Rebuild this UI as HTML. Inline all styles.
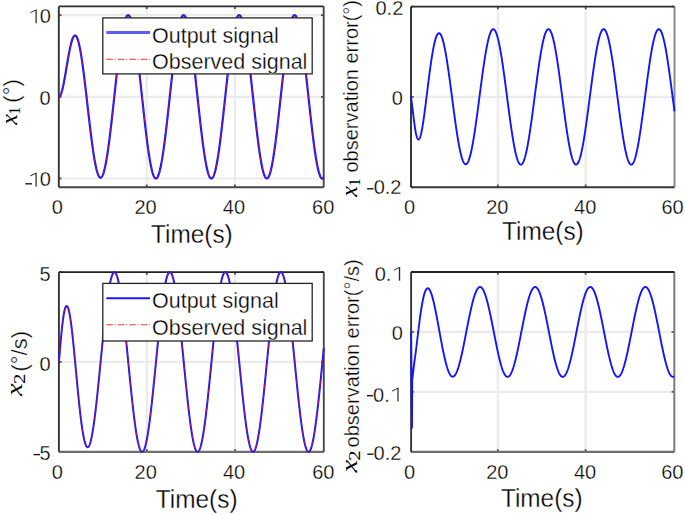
<!DOCTYPE html>
<html><head><meta charset="utf-8"><style>
html,body{margin:0;padding:0;background:#fff;}
svg{display:block;}
text{font-family:"Liberation Sans",sans-serif;fill:#000;stroke:#fff;stroke-width:0.3px;}
.grid{stroke:#ebebeb;stroke-width:2.2;}
.tick{stroke:#555;stroke-width:1.8;}
.axl{stroke:#2b2b2b;stroke-width:1.8;fill:none;}
.axb{stroke:#3a3a3a;stroke-width:1.8;fill:none;}
.axr{stroke:#6a6a6a;stroke-width:1.8;fill:none;}
.tl{font-size:20px;}
.xl{font-size:24.4px;}
.lg{font-size:21.5px;fill:#000;}
.yl{font-size:20px;}
.yl2{font-size:22px;}
.it{font-family:"Liberation Serif",serif;font-style:italic;font-size:24px;stroke:none;fill:#000;}
.sb{font-family:"Liberation Serif",serif;font-size:16px;stroke:none;fill:#000;}
.blue{stroke:#1a1aff;stroke-width:2.2;fill:none;stroke-linejoin:round;}
.blue3{stroke:#1a1aff;stroke-width:2.0;fill:none;stroke-linejoin:round;}
.blue2{stroke:#1414ff;stroke-width:1.9;fill:none;stroke-linejoin:round;}
.red{stroke:#ff1010;stroke-opacity:0.7;stroke-width:1;fill:none;stroke-dasharray:5 2 1 2;}
</style></head><body>
<svg width="685" height="515" viewBox="0 0 685 515">
<rect id="bg" width="685" height="515" fill="#fff"/>
<defs>
<clipPath id="cTL"><rect x="57.599999999999994" y="5.2" width="267.29999999999995" height="183.2"/></clipPath>
<clipPath id="cTR"><rect x="409.8" y="5.3999999999999995" width="265.9" height="183.0"/></clipPath>
<clipPath id="cBL"><rect x="57.699999999999996" y="270.90000000000003" width="267.3" height="182.1"/></clipPath>
<clipPath id="cBR"><rect x="409.90000000000003" y="270.8" width="265.5999999999999" height="182.20000000000002"/></clipPath>
</defs>
<line x1="146.70" y1="6.4" x2="146.70" y2="187.2" class="grid"/>
<line x1="235.00" y1="6.4" x2="235.00" y2="187.2" class="grid"/>
<line x1="58.8" y1="178.50" x2="323.7" y2="178.50" class="grid"/>
<line x1="58.8" y1="96.85" x2="323.7" y2="96.85" class="grid"/>
<line x1="58.8" y1="15.20" x2="323.7" y2="15.20" class="grid"/>
<line x1="497.83" y1="6.6" x2="497.83" y2="187.2" class="grid"/>
<line x1="585.67" y1="6.6" x2="585.67" y2="187.2" class="grid"/>
<line x1="411.0" y1="96.90" x2="674.5" y2="96.90" class="grid"/>
<line x1="146.80" y1="272.1" x2="146.80" y2="451.8" class="grid"/>
<line x1="235.10" y1="272.1" x2="235.10" y2="451.8" class="grid"/>
<line x1="58.9" y1="361.95" x2="323.8" y2="361.95" class="grid"/>
<line x1="497.83" y1="272.0" x2="497.83" y2="451.8" class="grid"/>
<line x1="585.57" y1="272.0" x2="585.57" y2="451.8" class="grid"/>
<line x1="411.1" y1="391.86" x2="674.3" y2="391.86" class="grid"/>
<line x1="411.1" y1="331.93" x2="674.3" y2="331.93" class="grid"/>
<line x1="146.70" y1="187.2" x2="146.70" y2="184.5" class="tick"/>
<line x1="146.70" y1="6.4" x2="146.70" y2="9.100000000000001" class="tick"/>
<line x1="235.00" y1="187.2" x2="235.00" y2="184.5" class="tick"/>
<line x1="235.00" y1="6.4" x2="235.00" y2="9.100000000000001" class="tick"/>
<line x1="58.8" y1="178.50" x2="61.5" y2="178.50" class="tick"/>
<line x1="323.7" y1="178.50" x2="321.0" y2="178.50" class="tick"/>
<line x1="58.8" y1="96.85" x2="61.5" y2="96.85" class="tick"/>
<line x1="323.7" y1="96.85" x2="321.0" y2="96.85" class="tick"/>
<line x1="58.8" y1="15.20" x2="61.5" y2="15.20" class="tick"/>
<line x1="323.7" y1="15.20" x2="321.0" y2="15.20" class="tick"/>
<line x1="58.8" y1="187.2" x2="323.7" y2="187.2" stroke="#444" stroke-width="1.9"/>
<line x1="323.7" y1="6.4" x2="323.7" y2="187.2" stroke="#444" stroke-width="1.9"/>
<line x1="58.8" y1="6.4" x2="323.7" y2="6.4" stroke="#2e2e2e" stroke-width="1.6"/>
<line x1="58.8" y1="6.4" x2="58.8" y2="187.2" stroke="#333" stroke-width="1.9"/>
<line x1="497.83" y1="187.2" x2="497.83" y2="184.5" class="tick"/>
<line x1="497.83" y1="6.6" x2="497.83" y2="9.3" class="tick"/>
<line x1="585.67" y1="187.2" x2="585.67" y2="184.5" class="tick"/>
<line x1="585.67" y1="6.6" x2="585.67" y2="9.3" class="tick"/>
<line x1="411.0" y1="187.20" x2="413.7" y2="187.20" class="tick"/>
<line x1="674.5" y1="187.20" x2="671.8" y2="187.20" class="tick"/>
<line x1="411.0" y1="96.90" x2="413.7" y2="96.90" class="tick"/>
<line x1="674.5" y1="96.90" x2="671.8" y2="96.90" class="tick"/>
<line x1="411.0" y1="6.60" x2="413.7" y2="6.60" class="tick"/>
<line x1="674.5" y1="6.60" x2="671.8" y2="6.60" class="tick"/>
<line x1="411.0" y1="187.2" x2="674.5" y2="187.2" stroke="#383838" stroke-width="1.9"/>
<line x1="674.5" y1="6.6" x2="674.5" y2="187.2" stroke="#8a8a8a" stroke-width="2.0"/>
<line x1="411.0" y1="6.6" x2="674.5" y2="6.6" stroke="#2e2e2e" stroke-width="1.6"/>
<line x1="411.0" y1="6.6" x2="411.0" y2="187.2" stroke="#2e2e2e" stroke-width="1.9"/>
<line x1="146.80" y1="451.8" x2="146.80" y2="449.1" class="tick"/>
<line x1="146.80" y1="272.1" x2="146.80" y2="274.8" class="tick"/>
<line x1="235.10" y1="451.8" x2="235.10" y2="449.1" class="tick"/>
<line x1="235.10" y1="272.1" x2="235.10" y2="274.8" class="tick"/>
<line x1="58.9" y1="451.80" x2="61.6" y2="451.80" class="tick"/>
<line x1="323.8" y1="451.80" x2="321.1" y2="451.80" class="tick"/>
<line x1="58.9" y1="361.95" x2="61.6" y2="361.95" class="tick"/>
<line x1="323.8" y1="361.95" x2="321.1" y2="361.95" class="tick"/>
<line x1="58.9" y1="272.10" x2="61.6" y2="272.10" class="tick"/>
<line x1="323.8" y1="272.10" x2="321.1" y2="272.10" class="tick"/>
<line x1="58.9" y1="451.8" x2="323.8" y2="451.8" stroke="#6e6e6e" stroke-width="2.2"/>
<line x1="323.8" y1="272.1" x2="323.8" y2="451.8" stroke="#484848" stroke-width="1.9"/>
<line x1="58.9" y1="272.1" x2="323.8" y2="272.1" stroke="#222" stroke-width="1.8"/>
<line x1="58.9" y1="272.1" x2="58.9" y2="451.8" stroke="#333" stroke-width="1.9"/>
<line x1="497.83" y1="451.8" x2="497.83" y2="449.1" class="tick"/>
<line x1="497.83" y1="272.0" x2="497.83" y2="274.7" class="tick"/>
<line x1="585.57" y1="451.8" x2="585.57" y2="449.1" class="tick"/>
<line x1="585.57" y1="272.0" x2="585.57" y2="274.7" class="tick"/>
<line x1="411.1" y1="451.79" x2="413.8" y2="451.79" class="tick"/>
<line x1="674.3" y1="451.79" x2="671.5999999999999" y2="451.79" class="tick"/>
<line x1="411.1" y1="391.86" x2="413.8" y2="391.86" class="tick"/>
<line x1="674.3" y1="391.86" x2="671.5999999999999" y2="391.86" class="tick"/>
<line x1="411.1" y1="331.93" x2="413.8" y2="331.93" class="tick"/>
<line x1="674.3" y1="331.93" x2="671.5999999999999" y2="331.93" class="tick"/>
<line x1="411.1" y1="272.00" x2="413.8" y2="272.00" class="tick"/>
<line x1="674.3" y1="272.00" x2="671.5999999999999" y2="272.00" class="tick"/>
<line x1="411.1" y1="451.8" x2="674.3" y2="451.8" stroke="#6e6e6e" stroke-width="2.2"/>
<line x1="674.3" y1="272.0" x2="674.3" y2="451.8" stroke="#7a7a7a" stroke-width="2.0"/>
<line x1="411.1" y1="272.0" x2="674.3" y2="272.0" stroke="#222" stroke-width="1.8"/>
<line x1="411.1" y1="272.0" x2="411.1" y2="451.8" stroke="#333" stroke-width="1.9"/>
<g clip-path="url(#cTL)"><path class="blue" d="M58.80,96.85 L58.98,96.83 L59.15,96.78 L59.33,96.68 L59.51,96.55 L59.68,96.39 L59.86,96.18 L60.04,95.94 L60.21,95.66 L60.39,95.34 L60.57,94.99 L60.74,94.60 L60.92,94.18 L61.10,93.72 L61.27,93.23 L61.45,92.70 L61.63,92.14 L61.80,91.55 L61.98,90.92 L62.16,90.27 L62.33,89.58 L62.51,88.87 L62.69,88.13 L62.86,87.37 L63.04,86.58 L63.21,85.76 L63.39,84.92 L63.57,84.06 L63.74,83.18 L63.92,82.27 L64.10,81.35 L64.27,80.42 L64.45,79.46 L64.63,78.49 L64.80,77.51 L64.98,76.52 L65.16,75.51 L65.33,74.50 L65.51,73.47 L65.69,72.44 L65.86,71.40 L66.04,70.36 L66.22,69.31 L66.39,68.26 L66.57,67.22 L66.75,66.17 L66.92,65.12 L67.10,64.07 L67.28,63.03 L67.45,62.00 L67.63,60.97 L67.81,59.94 L67.98,58.93 L68.16,57.92 L68.34,56.93 L68.51,55.95 L68.69,54.98 L68.87,54.02 L69.04,53.08 L69.22,52.15 L69.40,51.24 L69.57,50.35 L69.75,49.48 L69.93,48.63 L70.10,47.79 L70.28,46.98 L70.46,46.19 L70.63,45.43 L70.81,44.68 L70.99,43.96 L71.16,43.27 L71.34,42.60 L71.52,41.96 L71.69,41.35 L71.87,40.76 L72.05,40.20 L72.22,39.67 L72.40,39.17 L72.57,38.70 L72.75,38.26 L72.93,37.85 L73.10,37.48 L73.28,37.13 L73.46,36.82 L73.63,36.53 L73.81,36.28 L73.99,36.07 L74.16,35.88 L74.34,35.73 L74.52,35.62 L74.69,35.53 L74.87,35.49 L75.05,35.47 L75.22,35.49 L75.40,35.54 L75.58,35.63 L75.75,35.75 L75.93,35.91 L76.11,36.10 L76.28,36.32 L76.46,36.58 L76.64,36.88 L76.81,37.20 L76.99,37.56 L77.17,37.96 L77.34,38.39 L77.52,38.85 L77.70,39.34 L77.87,39.87 L78.05,40.43 L78.23,41.02 L78.40,41.65 L78.58,42.30 L78.76,42.99 L78.93,43.71 L79.11,44.46 L79.29,45.24 L79.46,46.05 L79.64,46.89 L79.82,47.76 L79.99,48.65 L80.17,49.58 L80.35,50.53 L80.52,51.51 L80.70,52.52 L80.88,53.55 L81.05,54.61 L81.23,55.69 L81.40,56.80 L81.58,57.93 L81.76,59.08 L81.93,60.26 L82.11,61.46 L82.29,62.68 L82.46,63.93 L82.64,65.19 L82.82,66.47 L82.99,67.77 L83.17,69.09 L83.35,70.43 L83.52,71.78 L83.70,73.15 L83.88,74.54 L84.05,75.94 L84.23,77.36 L84.41,78.79 L84.58,80.23 L84.76,81.68 L84.94,83.15 L85.11,84.62 L85.29,86.11 L85.47,87.60 L85.64,89.11 L85.82,90.62 L86.00,92.14 L86.17,93.66 L86.35,95.19 L86.53,96.73 L86.70,98.27 L86.88,99.81 L87.06,101.35 L87.23,102.90 L87.41,104.45 L87.59,106.00 L87.76,107.55 L87.94,109.10 L88.12,110.64 L88.29,112.18 L88.47,113.72 L88.65,115.26 L88.82,116.79 L89.00,118.32 L89.18,119.84 L89.35,121.35 L89.53,122.85 L89.70,124.35 L89.88,125.84 L90.06,127.32 L90.23,128.79 L90.41,130.25 L90.59,131.69 L90.76,133.13 L90.94,134.55 L91.12,135.95 L91.29,137.35 L91.47,138.72 L91.65,140.09 L91.82,141.43 L92.00,142.76 L92.18,144.08 L92.35,145.37 L92.53,146.65 L92.71,147.91 L92.88,149.14 L93.06,150.36 L93.24,151.56 L93.41,152.73 L93.59,153.89 L93.77,155.02 L93.94,156.13 L94.12,157.21 L94.30,158.28 L94.47,159.31 L94.65,160.33 L94.83,161.32 L95.00,162.28 L95.18,163.22 L95.36,164.13 L95.53,165.01 L95.71,165.87 L95.89,166.69 L96.06,167.49 L96.24,168.27 L96.42,169.01 L96.59,169.73 L96.77,170.41 L96.95,171.07 L97.12,171.69 L97.30,172.29 L97.48,172.86 L97.65,173.39 L97.83,173.90 L98.01,174.37 L98.18,174.81 L98.36,175.22 L98.53,175.60 L98.71,175.95 L98.89,176.27 L99.06,176.55 L99.24,176.80 L99.42,177.02 L99.59,177.20 L99.77,177.36 L99.95,177.48 L100.12,177.57 L100.30,177.62 L100.48,177.65 L100.65,177.64 L100.83,177.59 L101.01,177.52 L101.18,177.41 L101.36,177.27 L101.54,177.10 L101.71,176.89 L101.89,176.65 L102.07,176.38 L102.24,176.08 L102.42,175.75 L102.60,175.38 L102.77,174.98 L102.95,174.55 L103.13,174.09 L103.30,173.59 L103.48,173.07 L103.66,172.51 L103.83,171.93 L104.01,171.31 L104.19,170.67 L104.36,169.99 L104.54,169.28 L104.72,168.55 L104.89,167.78 L105.07,166.99 L105.25,166.16 L105.42,165.31 L105.60,164.44 L105.78,163.53 L105.95,162.60 L106.13,161.64 L106.31,160.65 L106.48,159.64 L106.66,158.60 L106.84,157.54 L107.01,156.45 L107.19,155.34 L107.36,154.21 L107.54,153.05 L107.72,151.87 L107.89,150.67 L108.07,149.44 L108.25,148.19 L108.42,146.93 L108.60,145.64 L108.78,144.33 L108.95,143.00 L109.13,141.66 L109.31,140.29 L109.48,138.91 L109.66,137.51 L109.84,136.10 L110.01,134.67 L110.19,133.22 L110.37,131.76 L110.54,130.28 L110.72,128.80 L110.90,127.29 L111.07,125.78 L111.25,124.25 L111.43,122.71 L111.60,121.17 L111.78,119.61 L111.96,118.04 L112.13,116.47 L112.31,114.88 L112.49,113.29 L112.66,111.69 L112.84,110.09 L113.02,108.48 L113.19,106.86 L113.37,105.24 L113.55,103.62 L113.72,102.00 L113.90,100.37 L114.08,98.74 L114.25,97.11 L114.43,95.48 L114.61,93.85 L114.78,92.22 L114.96,90.59 L115.14,88.97 L115.31,87.35 L115.49,85.73 L115.67,84.12 L115.84,82.51 L116.02,80.91 L116.19,79.31 L116.37,77.72 L116.55,76.14 L116.72,74.56 L116.90,73.00 L117.08,71.44 L117.25,69.90 L117.43,68.36 L117.61,66.84 L117.78,65.33 L117.96,63.83 L118.14,62.34 L118.31,60.87 L118.49,59.41 L118.67,57.97 L118.84,56.54 L119.02,55.13 L119.20,53.74 L119.37,52.36 L119.55,51.00 L119.73,49.66 L119.90,48.34 L120.08,47.04 L120.26,45.75 L120.43,44.49 L120.61,43.25 L120.79,42.03 L120.96,40.83 L121.14,39.65 L121.32,38.50 L121.49,37.37 L121.67,36.26 L121.85,35.18 L122.02,34.13 L122.20,33.09 L122.38,32.09 L122.55,31.11 L122.73,30.15 L122.91,29.22 L123.08,28.32 L123.26,27.45 L123.44,26.60 L123.61,25.79 L123.79,25.00 L123.97,24.24 L124.14,23.51 L124.32,22.80 L124.50,22.13 L124.67,21.49 L124.85,20.88 L125.02,20.30 L125.20,19.74 L125.38,19.22 L125.55,18.73 L125.73,18.28 L125.91,17.85 L126.08,17.45 L126.26,17.09 L126.44,16.76 L126.61,16.46 L126.79,16.19 L126.97,15.96 L127.14,15.76 L127.32,15.59 L127.50,15.45 L127.67,15.34 L127.85,15.27 L128.03,15.23 L128.20,15.22 L128.38,15.25 L128.56,15.31 L128.73,15.40 L128.91,15.52 L129.09,15.68 L129.26,15.87 L129.44,16.09 L129.62,16.34 L129.79,16.63 L129.97,16.94 L130.15,17.29 L130.32,17.68 L130.50,18.09 L130.68,18.53 L130.85,19.01 L131.03,19.52 L131.21,20.05 L131.38,20.62 L131.56,21.22 L131.74,21.85 L131.91,22.51 L132.09,23.20 L132.27,23.92 L132.44,24.67 L132.62,25.44 L132.80,26.25 L132.97,27.08 L133.15,27.94 L133.33,28.83 L133.50,29.75 L133.68,30.69 L133.85,31.66 L134.03,32.66 L134.21,33.68 L134.38,34.73 L134.56,35.80 L134.74,36.89 L134.91,38.01 L135.09,39.16 L135.27,40.32 L135.44,41.51 L135.62,42.72 L135.80,43.96 L135.97,45.21 L136.15,46.49 L136.33,47.78 L136.50,49.10 L136.68,50.43 L136.86,51.78 L137.03,53.15 L137.21,54.54 L137.39,55.95 L137.56,57.37 L137.74,58.80 L137.92,60.26 L138.09,61.72 L138.27,63.20 L138.45,64.70 L138.62,66.20 L138.80,67.72 L138.98,69.26 L139.15,70.80 L139.33,72.35 L139.51,73.91 L139.68,75.48 L139.86,77.06 L140.04,78.65 L140.21,80.25 L140.39,81.85 L140.57,83.46 L140.74,85.07 L140.92,86.69 L141.10,88.31 L141.27,89.94 L141.45,91.56 L141.63,93.20 L141.80,94.83 L141.98,96.46 L142.16,98.09 L142.33,99.73 L142.51,101.36 L142.69,102.99 L142.86,104.61 L143.04,106.24 L143.21,107.86 L143.39,109.47 L143.57,111.08 L143.74,112.69 L143.92,114.29 L144.10,115.88 L144.27,117.46 L144.45,119.04 L144.63,120.61 L144.80,122.16 L144.98,123.71 L145.16,125.25 L145.33,126.77 L145.51,128.29 L145.69,129.79 L145.86,131.27 L146.04,132.75 L146.22,134.21 L146.39,135.65 L146.57,137.08 L146.75,138.49 L146.92,139.89 L147.10,141.27 L147.28,142.63 L147.45,143.97 L147.63,145.30 L147.81,146.60 L147.98,147.89 L148.16,149.15 L148.34,150.39 L148.51,151.62 L148.69,152.82 L148.87,153.99 L149.04,155.15 L149.22,156.28 L149.40,157.39 L149.57,158.47 L149.75,159.53 L149.93,160.56 L150.10,161.57 L150.28,162.56 L150.46,163.51 L150.63,164.44 L150.81,165.34 L150.99,166.22 L151.16,167.07 L151.34,167.89 L151.51,168.68 L151.69,169.44 L151.87,170.17 L152.04,170.88 L152.22,171.55 L152.40,172.19 L152.57,172.81 L152.75,173.39 L152.93,173.94 L153.10,174.47 L153.28,174.96 L153.46,175.42 L153.63,175.85 L153.81,176.24 L153.99,176.61 L154.16,176.94 L154.34,177.24 L154.52,177.51 L154.69,177.75 L154.87,177.95 L155.05,178.13 L155.22,178.27 L155.40,178.37 L155.58,178.45 L155.75,178.49 L155.93,178.50 L156.11,178.48 L156.28,178.42 L156.46,178.33 L156.64,178.21 L156.81,178.05 L156.99,177.87 L157.17,177.65 L157.34,177.40 L157.52,177.11 L157.70,176.80 L157.87,176.45 L158.05,176.07 L158.23,175.66 L158.40,175.22 L158.58,174.75 L158.76,174.24 L158.93,173.70 L159.11,173.14 L159.29,172.54 L159.46,171.91 L159.64,171.26 L159.82,170.57 L159.99,169.85 L160.17,169.11 L160.34,168.33 L160.52,167.53 L160.70,166.70 L160.87,165.84 L161.05,164.95 L161.23,164.03 L161.40,163.09 L161.58,162.12 L161.76,161.13 L161.93,160.11 L162.11,159.07 L162.29,158.00 L162.46,156.90 L162.64,155.78 L162.82,154.64 L162.99,153.48 L163.17,152.29 L163.35,151.08 L163.52,149.85 L163.70,148.59 L163.88,147.32 L164.05,146.03 L164.23,144.71 L164.41,143.38 L164.58,142.03 L164.76,140.66 L164.94,139.27 L165.11,137.87 L165.29,136.45 L165.47,135.01 L165.64,133.56 L165.82,132.10 L166.00,130.62 L166.17,129.12 L166.35,127.62 L166.53,126.10 L166.70,124.57 L166.88,123.03 L167.06,121.48 L167.23,119.91 L167.41,118.34 L167.59,116.76 L167.76,115.18 L167.94,113.58 L168.12,111.98 L168.29,110.37 L168.47,108.76 L168.65,107.14 L168.82,105.52 L169.00,103.89 L169.18,102.27 L169.35,100.63 L169.53,99.00 L169.70,97.37 L169.88,95.74 L170.06,94.10 L170.23,92.47 L170.41,90.84 L170.59,89.22 L170.76,87.59 L170.94,85.97 L171.12,84.36 L171.29,82.74 L171.47,81.14 L171.65,79.54 L171.82,77.95 L172.00,76.36 L172.18,74.79 L172.35,73.22 L172.53,71.66 L172.71,70.11 L172.88,68.57 L173.06,67.05 L173.24,65.53 L173.41,64.03 L173.59,62.54 L173.77,61.07 L173.94,59.61 L174.12,58.16 L174.30,56.73 L174.47,55.32 L174.65,53.92 L174.83,52.54 L175.00,51.18 L175.18,49.83 L175.36,48.51 L175.53,47.20 L175.71,45.91 L175.89,44.65 L176.06,43.40 L176.24,42.18 L176.42,40.98 L176.59,39.80 L176.77,38.64 L176.95,37.51 L177.12,36.40 L177.30,35.31 L177.48,34.25 L177.65,33.22 L177.83,32.21 L178.00,31.22 L178.18,30.26 L178.36,29.33 L178.53,28.43 L178.71,27.55 L178.89,26.70 L179.06,25.88 L179.24,25.08 L179.42,24.32 L179.59,23.58 L179.77,22.88 L179.95,22.20 L180.12,21.56 L180.30,20.94 L180.48,20.35 L180.65,19.80 L180.83,19.27 L181.01,18.78 L181.18,18.32 L181.36,17.89 L181.54,17.49 L181.71,17.12 L181.89,16.78 L182.07,16.48 L182.24,16.21 L182.42,15.97 L182.60,15.76 L182.77,15.59 L182.95,15.44 L183.13,15.33 L183.30,15.26 L183.48,15.21 L183.66,15.20 L183.83,15.22 L184.01,15.27 L184.19,15.36 L184.36,15.48 L184.54,15.63 L184.72,15.82 L184.89,16.03 L185.07,16.28 L185.25,16.56 L185.42,16.87 L185.60,17.22 L185.78,17.60 L185.95,18.00 L186.13,18.44 L186.31,18.92 L186.48,19.42 L186.66,19.95 L186.83,20.52 L187.01,21.11 L187.19,21.74 L187.36,22.39 L187.54,23.08 L187.72,23.79 L187.89,24.53 L188.07,25.31 L188.25,26.11 L188.42,26.94 L188.60,27.79 L188.78,28.68 L188.95,29.59 L189.13,30.53 L189.31,31.50 L189.48,32.49 L189.66,33.51 L189.84,34.55 L190.01,35.62 L190.19,36.71 L190.37,37.83 L190.54,38.97 L190.72,40.13 L190.90,41.32 L191.07,42.52 L191.25,43.75 L191.43,45.01 L191.60,46.28 L191.78,47.57 L191.96,48.88 L192.13,50.21 L192.31,51.56 L192.49,52.93 L192.66,54.31 L192.84,55.72 L193.02,57.14 L193.19,58.57 L193.37,60.02 L193.55,61.48 L193.72,62.96 L193.90,64.46 L194.08,65.96 L194.25,67.48 L194.43,69.01 L194.61,70.55 L194.78,72.10 L194.96,73.66 L195.14,75.23 L195.31,76.81 L195.49,78.40 L195.67,79.99 L195.84,81.59 L196.02,83.20 L196.19,84.81 L196.37,86.43 L196.55,88.05 L196.72,89.68 L196.90,91.31 L197.08,92.94 L197.25,94.57 L197.43,96.20 L197.61,97.83 L197.78,99.47 L197.96,101.10 L198.14,102.73 L198.31,104.35 L198.49,105.98 L198.67,107.60 L198.84,109.22 L199.02,110.83 L199.20,112.43 L199.37,114.03 L199.55,115.63 L199.73,117.21 L199.90,118.79 L200.08,120.36 L200.26,121.92 L200.43,123.47 L200.61,125.00 L200.79,126.53 L200.96,128.05 L201.14,129.55 L201.32,131.04 L201.49,132.51 L201.67,133.98 L201.85,135.42 L202.02,136.85 L202.20,138.27 L202.38,139.67 L202.55,141.05 L202.73,142.41 L202.91,143.76 L203.08,145.09 L203.26,146.40 L203.44,147.68 L203.61,148.95 L203.79,150.20 L203.97,151.42 L204.14,152.63 L204.32,153.81 L204.50,154.97 L204.67,156.10 L204.85,157.21 L205.02,158.30 L205.20,159.36 L205.38,160.40 L205.55,161.41 L205.73,162.40 L205.91,163.36 L206.08,164.30 L206.26,165.20 L206.44,166.08 L206.61,166.93 L206.79,167.76 L206.97,168.55 L207.14,169.32 L207.32,170.06 L207.50,170.77 L207.67,171.44 L207.85,172.09 L208.03,172.71 L208.20,173.30 L208.38,173.86 L208.56,174.39 L208.73,174.88 L208.91,175.35 L209.09,175.78 L209.26,176.18 L209.44,176.55 L209.62,176.89 L209.79,177.20 L209.97,177.47 L210.15,177.72 L210.32,177.92 L210.50,178.10 L210.68,178.25 L210.85,178.36 L211.03,178.44 L211.21,178.49 L211.38,178.50 L211.56,178.48 L211.74,178.43 L211.91,178.35 L212.09,178.23 L212.27,178.08 L212.44,177.90 L212.62,177.69 L212.80,177.44 L212.97,177.16 L213.15,176.85 L213.32,176.51 L213.50,176.14 L213.68,175.73 L213.85,175.29 L214.03,174.82 L214.21,174.32 L214.38,173.79 L214.56,173.23 L214.74,172.64 L214.91,172.02 L215.09,171.36 L215.27,170.68 L215.44,169.97 L215.62,169.23 L215.80,168.46 L215.97,167.66 L216.15,166.83 L216.33,165.97 L216.50,165.09 L216.68,164.18 L216.86,163.24 L217.03,162.28 L217.21,161.29 L217.39,160.28 L217.56,159.23 L217.74,158.17 L217.92,157.08 L218.09,155.96 L218.27,154.82 L218.45,153.66 L218.62,152.48 L218.80,151.27 L218.98,150.04 L219.15,148.80 L219.33,147.53 L219.51,146.23 L219.68,144.92 L219.86,143.59 L220.04,142.25 L220.21,140.88 L220.39,139.50 L220.57,138.10 L220.74,136.68 L220.92,135.24 L221.10,133.80 L221.27,132.33 L221.45,130.85 L221.63,129.36 L221.80,127.86 L221.98,126.34 L222.15,124.81 L222.33,123.27 L222.51,121.72 L222.68,120.16 L222.86,118.59 L223.04,117.02 L223.21,115.43 L223.39,113.84 L223.57,112.23 L223.74,110.63 L223.92,109.02 L224.10,107.40 L224.27,105.78 L224.45,104.15 L224.63,102.52 L224.80,100.89 L224.98,99.26 L225.16,97.63 L225.33,96.00 L225.51,94.36 L225.69,92.73 L225.86,91.10 L226.04,89.48 L226.22,87.85 L226.39,86.23 L226.57,84.61 L226.75,83.00 L226.92,81.39 L227.10,79.79 L227.28,78.20 L227.45,76.61 L227.63,75.04 L227.81,73.47 L227.98,71.91 L228.16,70.36 L228.34,68.82 L228.51,67.29 L228.69,65.77 L228.87,64.27 L229.04,62.78 L229.22,61.30 L229.40,59.84 L229.57,58.39 L229.75,56.96 L229.93,55.54 L230.10,54.14 L230.28,52.76 L230.46,51.39 L230.63,50.05 L230.81,48.72 L230.99,47.41 L231.16,46.12 L231.34,44.85 L231.51,43.60 L231.69,42.37 L231.87,41.17 L232.04,39.98 L232.22,38.82 L232.40,37.69 L232.57,36.57 L232.75,35.48 L232.93,34.42 L233.10,33.38 L233.28,32.36 L233.46,31.38 L233.63,30.41 L233.81,29.48 L233.99,28.57 L234.16,27.69 L234.34,26.83 L234.52,26.01 L234.69,25.21 L234.87,24.44 L235.05,23.70 L235.22,22.99 L235.40,22.31 L235.58,21.66 L235.75,21.04 L235.93,20.44 L236.11,19.88 L236.28,19.35 L236.46,18.86 L236.64,18.39 L236.81,17.95 L236.99,17.55 L237.17,17.17 L237.34,16.83 L237.52,16.52 L237.70,16.25 L237.87,16.00 L238.05,15.79 L238.23,15.61 L238.40,15.46 L238.58,15.35 L238.76,15.27 L238.93,15.22 L239.11,15.20 L239.29,15.22 L239.46,15.26 L239.64,15.35 L239.81,15.46 L239.99,15.61 L240.17,15.78 L240.34,15.99 L240.52,16.24 L240.70,16.51 L240.87,16.82 L241.05,17.16 L241.23,17.53 L241.40,17.94 L241.58,18.37 L241.76,18.84 L241.93,19.34 L242.11,19.86 L242.29,20.42 L242.46,21.01 L242.64,21.63 L242.82,22.28 L242.99,22.96 L243.17,23.67 L243.35,24.41 L243.52,25.18 L243.70,25.98 L243.88,26.80 L244.05,27.66 L244.23,28.54 L244.41,29.45 L244.58,30.38 L244.76,31.34 L244.94,32.33 L245.11,33.34 L245.29,34.38 L245.47,35.45 L245.64,36.53 L245.82,37.65 L246.00,38.78 L246.17,39.94 L246.35,41.13 L246.53,42.33 L246.70,43.56 L246.88,44.80 L247.06,46.07 L247.23,47.36 L247.41,48.67 L247.59,50.00 L247.76,51.35 L247.94,52.71 L248.12,54.09 L248.29,55.49 L248.47,56.91 L248.64,58.34 L248.82,59.79 L249.00,61.25 L249.17,62.73 L249.35,64.22 L249.53,65.72 L249.70,67.24 L249.88,68.76 L250.06,70.30 L250.23,71.85 L250.41,73.41 L250.59,74.98 L250.76,76.56 L250.94,78.14 L251.12,79.74 L251.29,81.34 L251.47,82.94 L251.65,84.56 L251.82,86.17 L252.00,87.79 L252.18,89.42 L252.35,91.05 L252.53,92.68 L252.71,94.31 L252.88,95.94 L253.06,97.57 L253.24,99.21 L253.41,100.84 L253.59,102.47 L253.77,104.10 L253.94,105.72 L254.12,107.34 L254.30,108.96 L254.47,110.57 L254.65,112.18 L254.83,113.78 L255.00,115.37 L255.18,116.96 L255.36,118.54 L255.53,120.11 L255.71,121.67 L255.89,123.22 L256.06,124.76 L256.24,126.29 L256.42,127.81 L256.59,129.31 L256.77,130.80 L256.95,132.28 L257.12,133.74 L257.30,135.19 L257.47,136.63 L257.65,138.05 L257.83,139.45 L258.00,140.83 L258.18,142.20 L258.36,143.55 L258.53,144.88 L258.71,146.19 L258.89,147.48 L259.06,148.75 L259.24,150.00 L259.42,151.23 L259.59,152.44 L259.77,153.62 L259.95,154.78 L260.12,155.92 L260.30,157.04 L260.48,158.13 L260.65,159.20 L260.83,160.24 L261.01,161.26 L261.18,162.25 L261.36,163.21 L261.54,164.15 L261.71,165.06 L261.89,165.94 L262.07,166.80 L262.24,167.63 L262.42,168.43 L262.60,169.20 L262.77,169.94 L262.95,170.66 L263.13,171.34 L263.30,171.99 L263.48,172.62 L263.66,173.21 L263.83,173.77 L264.01,174.30 L264.19,174.81 L264.36,175.28 L264.54,175.71 L264.72,176.12 L264.89,176.50 L265.07,176.84 L265.25,177.15 L265.42,177.43 L265.60,177.68 L265.78,177.89 L265.95,178.08 L266.13,178.23 L266.30,178.34 L266.48,178.43 L266.66,178.48 L266.83,178.50 L267.01,178.49 L267.19,178.44 L267.36,178.36 L267.54,178.25 L267.72,178.11 L267.89,177.93 L268.07,177.72 L268.25,177.48 L268.42,177.21 L268.60,176.90 L268.78,176.57 L268.95,176.20 L269.13,175.80 L269.31,175.36 L269.48,174.90 L269.66,174.40 L269.84,173.88 L270.01,173.32 L270.19,172.73 L270.37,172.12 L270.54,171.47 L270.72,170.79 L270.90,170.08 L271.07,169.35 L271.25,168.58 L271.43,167.79 L271.60,166.96 L271.78,166.11 L271.96,165.23 L272.13,164.33 L272.31,163.40 L272.49,162.44 L272.66,161.45 L272.84,160.44 L273.02,159.40 L273.19,158.34 L273.37,157.25 L273.55,156.14 L273.72,155.01 L273.90,153.85 L274.08,152.67 L274.25,151.47 L274.43,150.24 L274.61,149.00 L274.78,147.73 L274.96,146.44 L275.13,145.13 L275.31,143.81 L275.49,142.46 L275.66,141.10 L275.84,139.72 L276.02,138.32 L276.19,136.90 L276.37,135.47 L276.55,134.03 L276.72,132.57 L276.90,131.09 L277.08,129.60 L277.25,128.10 L277.43,126.58 L277.61,125.06 L277.78,123.52 L277.96,121.97 L278.14,120.41 L278.31,118.84 L278.49,117.27 L278.67,115.68 L278.84,114.09 L279.02,112.49 L279.20,110.88 L279.37,109.27 L279.55,107.66 L279.73,106.04 L279.90,104.41 L280.08,102.78 L280.26,101.15 L280.43,99.52 L280.61,97.89 L280.79,96.26 L280.96,94.62 L281.14,92.99 L281.32,91.36 L281.49,89.73 L281.67,88.11 L281.85,86.49 L282.02,84.87 L282.20,83.26 L282.38,81.65 L282.55,80.05 L282.73,78.45 L282.91,76.87 L283.08,75.29 L283.26,73.72 L283.44,72.16 L283.61,70.60 L283.79,69.06 L283.96,67.53 L284.14,66.01 L284.32,64.51 L284.49,63.02 L284.67,61.54 L284.85,60.07 L285.02,58.62 L285.20,57.19 L285.38,55.77 L285.55,54.36 L285.73,52.98 L285.91,51.61 L286.08,50.26 L286.26,48.93 L286.44,47.61 L286.61,46.32 L286.79,45.05 L286.97,43.80 L287.14,42.57 L287.32,41.36 L287.50,40.17 L287.67,39.01 L287.85,37.87 L288.03,36.75 L288.20,35.66 L288.38,34.59 L288.56,33.54 L288.73,32.52 L288.91,31.53 L289.09,30.57 L289.26,29.62 L289.44,28.71 L289.62,27.83 L289.79,26.97 L289.97,26.14 L290.15,25.33 L290.32,24.56 L290.50,23.82 L290.68,23.10 L290.85,22.41 L291.03,21.76 L291.21,21.13 L291.38,20.54 L291.56,19.97 L291.74,19.44 L291.91,18.93 L292.09,18.46 L292.27,18.02 L292.44,17.61 L292.62,17.23 L292.79,16.89 L292.97,16.57 L293.15,16.29 L293.32,16.04 L293.50,15.82 L293.68,15.64 L293.85,15.48 L294.03,15.36 L294.21,15.28 L294.38,15.22 L294.56,15.20 L294.74,15.21 L294.91,15.25 L295.09,15.33 L295.27,15.44 L295.44,15.58 L295.62,15.75 L295.80,15.96 L295.97,16.20 L296.15,16.47 L296.33,16.77 L296.50,17.11 L296.68,17.47 L296.86,17.87 L297.03,18.30 L297.21,18.76 L297.39,19.25 L297.56,19.78 L297.74,20.33 L297.92,20.92 L298.09,21.53 L298.27,22.18 L298.45,22.85 L298.62,23.56 L298.80,24.29 L298.98,25.06 L299.15,25.85 L299.33,26.67 L299.51,27.52 L299.68,28.39 L299.86,29.30 L300.04,30.23 L300.21,31.19 L300.39,32.17 L300.57,33.18 L300.74,34.21 L300.92,35.27 L301.10,36.36 L301.27,37.47 L301.45,38.60 L301.62,39.76 L301.80,40.94 L301.98,42.14 L302.15,43.36 L302.33,44.60 L302.51,45.87 L302.68,47.16 L302.86,48.46 L303.04,49.79 L303.21,51.13 L303.39,52.49 L303.57,53.87 L303.74,55.27 L303.92,56.68 L304.10,58.11 L304.27,59.56 L304.45,61.02 L304.63,62.49 L304.80,63.98 L304.98,65.48 L305.16,66.99 L305.33,68.52 L305.51,70.06 L305.69,71.61 L305.86,73.16 L306.04,74.73 L306.22,76.31 L306.39,77.89 L306.57,79.48 L306.75,81.08 L306.92,82.69 L307.10,84.30 L307.28,85.91 L307.45,87.53 L307.63,89.16 L307.81,90.79 L307.98,92.42 L308.16,94.05 L308.34,95.68 L308.51,97.31 L308.69,98.95 L308.87,100.58 L309.04,102.21 L309.22,103.84 L309.40,105.46 L309.57,107.08 L309.75,108.70 L309.93,110.31 L310.10,111.92 L310.28,113.52 L310.45,115.12 L310.63,116.71 L310.81,118.29 L310.98,119.86 L311.16,121.42 L311.34,122.97 L311.51,124.51 L311.69,126.05 L311.87,127.56 L312.04,129.07 L312.22,130.57 L312.40,132.05 L312.57,133.51 L312.75,134.96 L312.93,136.40 L313.10,137.82 L313.28,139.23 L313.46,140.61 L313.63,141.98 L313.81,143.33 L313.99,144.67 L314.16,145.98 L314.34,147.28 L314.52,148.55 L314.69,149.80 L314.87,151.04 L315.05,152.25 L315.22,153.43 L315.40,154.60 L315.58,155.74 L315.75,156.86 L315.93,157.96 L316.11,159.03 L316.28,160.07 L316.46,161.10 L316.64,162.09 L316.81,163.06 L316.99,164.00 L317.17,164.92 L317.34,165.80 L317.52,166.67 L317.70,167.50 L317.87,168.30 L318.05,169.08 L318.23,169.83 L318.40,170.54 L318.58,171.23 L318.76,171.89 L318.93,172.52 L319.11,173.12 L319.28,173.69 L319.46,174.22 L319.64,174.73 L319.81,175.20 L319.99,175.65 L320.17,176.06 L320.34,176.44 L320.52,176.79 L320.70,177.10 L320.87,177.39 L321.05,177.64 L321.23,177.86 L321.40,178.05 L321.58,178.20 L321.76,178.33 L321.93,178.42 L322.11,178.47 L322.29,178.50 L322.46,178.49 L322.64,178.45 L322.82,178.38 L322.99,178.27 L323.17,178.13 L323.35,177.96 L323.52,177.76 L323.70,177.52"/><path class="red" d="M58.80,96.85 L58.98,96.83 L59.15,96.78 L59.33,96.68 L59.51,96.55 L59.68,96.39 L59.86,96.18 L60.04,95.94 L60.21,95.66 L60.39,95.34 L60.57,94.99 L60.74,94.60 L60.92,94.18 L61.10,93.72 L61.27,93.23 L61.45,92.70 L61.63,92.14 L61.80,91.55 L61.98,90.92 L62.16,90.27 L62.33,89.58 L62.51,88.87 L62.69,88.13 L62.86,87.37 L63.04,86.58 L63.21,85.76 L63.39,84.92 L63.57,84.06 L63.74,83.18 L63.92,82.27 L64.10,81.35 L64.27,80.42 L64.45,79.46 L64.63,78.49 L64.80,77.51 L64.98,76.52 L65.16,75.51 L65.33,74.50 L65.51,73.47 L65.69,72.44 L65.86,71.40 L66.04,70.36 L66.22,69.31 L66.39,68.26 L66.57,67.22 L66.75,66.17 L66.92,65.12 L67.10,64.07 L67.28,63.03 L67.45,62.00 L67.63,60.97 L67.81,59.94 L67.98,58.93 L68.16,57.92 L68.34,56.93 L68.51,55.95 L68.69,54.98 L68.87,54.02 L69.04,53.08 L69.22,52.15 L69.40,51.24 L69.57,50.35 L69.75,49.48 L69.93,48.63 L70.10,47.79 L70.28,46.98 L70.46,46.19 L70.63,45.43 L70.81,44.68 L70.99,43.96 L71.16,43.27 L71.34,42.60 L71.52,41.96 L71.69,41.35 L71.87,40.76 L72.05,40.20 L72.22,39.67 L72.40,39.17 L72.57,38.70 L72.75,38.26 L72.93,37.85 L73.10,37.48 L73.28,37.13 L73.46,36.82 L73.63,36.53 L73.81,36.28 L73.99,36.07 L74.16,35.88 L74.34,35.73 L74.52,35.62 L74.69,35.53 L74.87,35.49 L75.05,35.47 L75.22,35.49 L75.40,35.54 L75.58,35.63 L75.75,35.75 L75.93,35.91 L76.11,36.10 L76.28,36.32 L76.46,36.58 L76.64,36.88 L76.81,37.20 L76.99,37.56 L77.17,37.96 L77.34,38.39 L77.52,38.85 L77.70,39.34 L77.87,39.87 L78.05,40.43 L78.23,41.02 L78.40,41.65 L78.58,42.30 L78.76,42.99 L78.93,43.71 L79.11,44.46 L79.29,45.24 L79.46,46.05 L79.64,46.89 L79.82,47.76 L79.99,48.65 L80.17,49.58 L80.35,50.53 L80.52,51.51 L80.70,52.52 L80.88,53.55 L81.05,54.61 L81.23,55.69 L81.40,56.80 L81.58,57.93 L81.76,59.08 L81.93,60.26 L82.11,61.46 L82.29,62.68 L82.46,63.93 L82.64,65.19 L82.82,66.47 L82.99,67.77 L83.17,69.09 L83.35,70.43 L83.52,71.78 L83.70,73.15 L83.88,74.54 L84.05,75.94 L84.23,77.36 L84.41,78.79 L84.58,80.23 L84.76,81.68 L84.94,83.15 L85.11,84.62 L85.29,86.11 L85.47,87.60 L85.64,89.11 L85.82,90.62 L86.00,92.14 L86.17,93.66 L86.35,95.19 L86.53,96.73 L86.70,98.27 L86.88,99.81 L87.06,101.35 L87.23,102.90 L87.41,104.45 L87.59,106.00 L87.76,107.55 L87.94,109.10 L88.12,110.64 L88.29,112.18 L88.47,113.72 L88.65,115.26 L88.82,116.79 L89.00,118.32 L89.18,119.84 L89.35,121.35 L89.53,122.85 L89.70,124.35 L89.88,125.84 L90.06,127.32 L90.23,128.79 L90.41,130.25 L90.59,131.69 L90.76,133.13 L90.94,134.55 L91.12,135.95 L91.29,137.35 L91.47,138.72 L91.65,140.09 L91.82,141.43 L92.00,142.76 L92.18,144.08 L92.35,145.37 L92.53,146.65 L92.71,147.91 L92.88,149.14 L93.06,150.36 L93.24,151.56 L93.41,152.73 L93.59,153.89 L93.77,155.02 L93.94,156.13 L94.12,157.21 L94.30,158.28 L94.47,159.31 L94.65,160.33 L94.83,161.32 L95.00,162.28 L95.18,163.22 L95.36,164.13 L95.53,165.01 L95.71,165.87 L95.89,166.69 L96.06,167.49 L96.24,168.27 L96.42,169.01 L96.59,169.73 L96.77,170.41 L96.95,171.07 L97.12,171.69 L97.30,172.29 L97.48,172.86 L97.65,173.39 L97.83,173.90 L98.01,174.37 L98.18,174.81 L98.36,175.22 L98.53,175.60 L98.71,175.95 L98.89,176.27 L99.06,176.55 L99.24,176.80 L99.42,177.02 L99.59,177.20 L99.77,177.36 L99.95,177.48 L100.12,177.57 L100.30,177.62 L100.48,177.65 L100.65,177.64 L100.83,177.59 L101.01,177.52 L101.18,177.41 L101.36,177.27 L101.54,177.10 L101.71,176.89 L101.89,176.65 L102.07,176.38 L102.24,176.08 L102.42,175.75 L102.60,175.38 L102.77,174.98 L102.95,174.55 L103.13,174.09 L103.30,173.59 L103.48,173.07 L103.66,172.51 L103.83,171.93 L104.01,171.31 L104.19,170.67 L104.36,169.99 L104.54,169.28 L104.72,168.55 L104.89,167.78 L105.07,166.99 L105.25,166.16 L105.42,165.31 L105.60,164.44 L105.78,163.53 L105.95,162.60 L106.13,161.64 L106.31,160.65 L106.48,159.64 L106.66,158.60 L106.84,157.54 L107.01,156.45 L107.19,155.34 L107.36,154.21 L107.54,153.05 L107.72,151.87 L107.89,150.67 L108.07,149.44 L108.25,148.19 L108.42,146.93 L108.60,145.64 L108.78,144.33 L108.95,143.00 L109.13,141.66 L109.31,140.29 L109.48,138.91 L109.66,137.51 L109.84,136.10 L110.01,134.67 L110.19,133.22 L110.37,131.76 L110.54,130.28 L110.72,128.80 L110.90,127.29 L111.07,125.78 L111.25,124.25 L111.43,122.71 L111.60,121.17 L111.78,119.61 L111.96,118.04 L112.13,116.47 L112.31,114.88 L112.49,113.29 L112.66,111.69 L112.84,110.09 L113.02,108.48 L113.19,106.86 L113.37,105.24 L113.55,103.62 L113.72,102.00 L113.90,100.37 L114.08,98.74 L114.25,97.11 L114.43,95.48 L114.61,93.85 L114.78,92.22 L114.96,90.59 L115.14,88.97 L115.31,87.35 L115.49,85.73 L115.67,84.12 L115.84,82.51 L116.02,80.91 L116.19,79.31 L116.37,77.72 L116.55,76.14 L116.72,74.56 L116.90,73.00 L117.08,71.44 L117.25,69.90 L117.43,68.36 L117.61,66.84 L117.78,65.33 L117.96,63.83 L118.14,62.34 L118.31,60.87 L118.49,59.41 L118.67,57.97 L118.84,56.54 L119.02,55.13 L119.20,53.74 L119.37,52.36 L119.55,51.00 L119.73,49.66 L119.90,48.34 L120.08,47.04 L120.26,45.75 L120.43,44.49 L120.61,43.25 L120.79,42.03 L120.96,40.83 L121.14,39.65 L121.32,38.50 L121.49,37.37 L121.67,36.26 L121.85,35.18 L122.02,34.13 L122.20,33.09 L122.38,32.09 L122.55,31.11 L122.73,30.15 L122.91,29.22 L123.08,28.32 L123.26,27.45 L123.44,26.60 L123.61,25.79 L123.79,25.00 L123.97,24.24 L124.14,23.51 L124.32,22.80 L124.50,22.13 L124.67,21.49 L124.85,20.88 L125.02,20.30 L125.20,19.74 L125.38,19.22 L125.55,18.73 L125.73,18.28 L125.91,17.85 L126.08,17.45 L126.26,17.09 L126.44,16.76 L126.61,16.46 L126.79,16.19 L126.97,15.96 L127.14,15.76 L127.32,15.59 L127.50,15.45 L127.67,15.34 L127.85,15.27 L128.03,15.23 L128.20,15.22 L128.38,15.25 L128.56,15.31 L128.73,15.40 L128.91,15.52 L129.09,15.68 L129.26,15.87 L129.44,16.09 L129.62,16.34 L129.79,16.63 L129.97,16.94 L130.15,17.29 L130.32,17.68 L130.50,18.09 L130.68,18.53 L130.85,19.01 L131.03,19.52 L131.21,20.05 L131.38,20.62 L131.56,21.22 L131.74,21.85 L131.91,22.51 L132.09,23.20 L132.27,23.92 L132.44,24.67 L132.62,25.44 L132.80,26.25 L132.97,27.08 L133.15,27.94 L133.33,28.83 L133.50,29.75 L133.68,30.69 L133.85,31.66 L134.03,32.66 L134.21,33.68 L134.38,34.73 L134.56,35.80 L134.74,36.89 L134.91,38.01 L135.09,39.16 L135.27,40.32 L135.44,41.51 L135.62,42.72 L135.80,43.96 L135.97,45.21 L136.15,46.49 L136.33,47.78 L136.50,49.10 L136.68,50.43 L136.86,51.78 L137.03,53.15 L137.21,54.54 L137.39,55.95 L137.56,57.37 L137.74,58.80 L137.92,60.26 L138.09,61.72 L138.27,63.20 L138.45,64.70 L138.62,66.20 L138.80,67.72 L138.98,69.26 L139.15,70.80 L139.33,72.35 L139.51,73.91 L139.68,75.48 L139.86,77.06 L140.04,78.65 L140.21,80.25 L140.39,81.85 L140.57,83.46 L140.74,85.07 L140.92,86.69 L141.10,88.31 L141.27,89.94 L141.45,91.56 L141.63,93.20 L141.80,94.83 L141.98,96.46 L142.16,98.09 L142.33,99.73 L142.51,101.36 L142.69,102.99 L142.86,104.61 L143.04,106.24 L143.21,107.86 L143.39,109.47 L143.57,111.08 L143.74,112.69 L143.92,114.29 L144.10,115.88 L144.27,117.46 L144.45,119.04 L144.63,120.61 L144.80,122.16 L144.98,123.71 L145.16,125.25 L145.33,126.77 L145.51,128.29 L145.69,129.79 L145.86,131.27 L146.04,132.75 L146.22,134.21 L146.39,135.65 L146.57,137.08 L146.75,138.49 L146.92,139.89 L147.10,141.27 L147.28,142.63 L147.45,143.97 L147.63,145.30 L147.81,146.60 L147.98,147.89 L148.16,149.15 L148.34,150.39 L148.51,151.62 L148.69,152.82 L148.87,153.99 L149.04,155.15 L149.22,156.28 L149.40,157.39 L149.57,158.47 L149.75,159.53 L149.93,160.56 L150.10,161.57 L150.28,162.56 L150.46,163.51 L150.63,164.44 L150.81,165.34 L150.99,166.22 L151.16,167.07 L151.34,167.89 L151.51,168.68 L151.69,169.44 L151.87,170.17 L152.04,170.88 L152.22,171.55 L152.40,172.19 L152.57,172.81 L152.75,173.39 L152.93,173.94 L153.10,174.47 L153.28,174.96 L153.46,175.42 L153.63,175.85 L153.81,176.24 L153.99,176.61 L154.16,176.94 L154.34,177.24 L154.52,177.51 L154.69,177.75 L154.87,177.95 L155.05,178.13 L155.22,178.27 L155.40,178.37 L155.58,178.45 L155.75,178.49 L155.93,178.50 L156.11,178.48 L156.28,178.42 L156.46,178.33 L156.64,178.21 L156.81,178.05 L156.99,177.87 L157.17,177.65 L157.34,177.40 L157.52,177.11 L157.70,176.80 L157.87,176.45 L158.05,176.07 L158.23,175.66 L158.40,175.22 L158.58,174.75 L158.76,174.24 L158.93,173.70 L159.11,173.14 L159.29,172.54 L159.46,171.91 L159.64,171.26 L159.82,170.57 L159.99,169.85 L160.17,169.11 L160.34,168.33 L160.52,167.53 L160.70,166.70 L160.87,165.84 L161.05,164.95 L161.23,164.03 L161.40,163.09 L161.58,162.12 L161.76,161.13 L161.93,160.11 L162.11,159.07 L162.29,158.00 L162.46,156.90 L162.64,155.78 L162.82,154.64 L162.99,153.48 L163.17,152.29 L163.35,151.08 L163.52,149.85 L163.70,148.59 L163.88,147.32 L164.05,146.03 L164.23,144.71 L164.41,143.38 L164.58,142.03 L164.76,140.66 L164.94,139.27 L165.11,137.87 L165.29,136.45 L165.47,135.01 L165.64,133.56 L165.82,132.10 L166.00,130.62 L166.17,129.12 L166.35,127.62 L166.53,126.10 L166.70,124.57 L166.88,123.03 L167.06,121.48 L167.23,119.91 L167.41,118.34 L167.59,116.76 L167.76,115.18 L167.94,113.58 L168.12,111.98 L168.29,110.37 L168.47,108.76 L168.65,107.14 L168.82,105.52 L169.00,103.89 L169.18,102.27 L169.35,100.63 L169.53,99.00 L169.70,97.37 L169.88,95.74 L170.06,94.10 L170.23,92.47 L170.41,90.84 L170.59,89.22 L170.76,87.59 L170.94,85.97 L171.12,84.36 L171.29,82.74 L171.47,81.14 L171.65,79.54 L171.82,77.95 L172.00,76.36 L172.18,74.79 L172.35,73.22 L172.53,71.66 L172.71,70.11 L172.88,68.57 L173.06,67.05 L173.24,65.53 L173.41,64.03 L173.59,62.54 L173.77,61.07 L173.94,59.61 L174.12,58.16 L174.30,56.73 L174.47,55.32 L174.65,53.92 L174.83,52.54 L175.00,51.18 L175.18,49.83 L175.36,48.51 L175.53,47.20 L175.71,45.91 L175.89,44.65 L176.06,43.40 L176.24,42.18 L176.42,40.98 L176.59,39.80 L176.77,38.64 L176.95,37.51 L177.12,36.40 L177.30,35.31 L177.48,34.25 L177.65,33.22 L177.83,32.21 L178.00,31.22 L178.18,30.26 L178.36,29.33 L178.53,28.43 L178.71,27.55 L178.89,26.70 L179.06,25.88 L179.24,25.08 L179.42,24.32 L179.59,23.58 L179.77,22.88 L179.95,22.20 L180.12,21.56 L180.30,20.94 L180.48,20.35 L180.65,19.80 L180.83,19.27 L181.01,18.78 L181.18,18.32 L181.36,17.89 L181.54,17.49 L181.71,17.12 L181.89,16.78 L182.07,16.48 L182.24,16.21 L182.42,15.97 L182.60,15.76 L182.77,15.59 L182.95,15.44 L183.13,15.33 L183.30,15.26 L183.48,15.21 L183.66,15.20 L183.83,15.22 L184.01,15.27 L184.19,15.36 L184.36,15.48 L184.54,15.63 L184.72,15.82 L184.89,16.03 L185.07,16.28 L185.25,16.56 L185.42,16.87 L185.60,17.22 L185.78,17.60 L185.95,18.00 L186.13,18.44 L186.31,18.92 L186.48,19.42 L186.66,19.95 L186.83,20.52 L187.01,21.11 L187.19,21.74 L187.36,22.39 L187.54,23.08 L187.72,23.79 L187.89,24.53 L188.07,25.31 L188.25,26.11 L188.42,26.94 L188.60,27.79 L188.78,28.68 L188.95,29.59 L189.13,30.53 L189.31,31.50 L189.48,32.49 L189.66,33.51 L189.84,34.55 L190.01,35.62 L190.19,36.71 L190.37,37.83 L190.54,38.97 L190.72,40.13 L190.90,41.32 L191.07,42.52 L191.25,43.75 L191.43,45.01 L191.60,46.28 L191.78,47.57 L191.96,48.88 L192.13,50.21 L192.31,51.56 L192.49,52.93 L192.66,54.31 L192.84,55.72 L193.02,57.14 L193.19,58.57 L193.37,60.02 L193.55,61.48 L193.72,62.96 L193.90,64.46 L194.08,65.96 L194.25,67.48 L194.43,69.01 L194.61,70.55 L194.78,72.10 L194.96,73.66 L195.14,75.23 L195.31,76.81 L195.49,78.40 L195.67,79.99 L195.84,81.59 L196.02,83.20 L196.19,84.81 L196.37,86.43 L196.55,88.05 L196.72,89.68 L196.90,91.31 L197.08,92.94 L197.25,94.57 L197.43,96.20 L197.61,97.83 L197.78,99.47 L197.96,101.10 L198.14,102.73 L198.31,104.35 L198.49,105.98 L198.67,107.60 L198.84,109.22 L199.02,110.83 L199.20,112.43 L199.37,114.03 L199.55,115.63 L199.73,117.21 L199.90,118.79 L200.08,120.36 L200.26,121.92 L200.43,123.47 L200.61,125.00 L200.79,126.53 L200.96,128.05 L201.14,129.55 L201.32,131.04 L201.49,132.51 L201.67,133.98 L201.85,135.42 L202.02,136.85 L202.20,138.27 L202.38,139.67 L202.55,141.05 L202.73,142.41 L202.91,143.76 L203.08,145.09 L203.26,146.40 L203.44,147.68 L203.61,148.95 L203.79,150.20 L203.97,151.42 L204.14,152.63 L204.32,153.81 L204.50,154.97 L204.67,156.10 L204.85,157.21 L205.02,158.30 L205.20,159.36 L205.38,160.40 L205.55,161.41 L205.73,162.40 L205.91,163.36 L206.08,164.30 L206.26,165.20 L206.44,166.08 L206.61,166.93 L206.79,167.76 L206.97,168.55 L207.14,169.32 L207.32,170.06 L207.50,170.77 L207.67,171.44 L207.85,172.09 L208.03,172.71 L208.20,173.30 L208.38,173.86 L208.56,174.39 L208.73,174.88 L208.91,175.35 L209.09,175.78 L209.26,176.18 L209.44,176.55 L209.62,176.89 L209.79,177.20 L209.97,177.47 L210.15,177.72 L210.32,177.92 L210.50,178.10 L210.68,178.25 L210.85,178.36 L211.03,178.44 L211.21,178.49 L211.38,178.50 L211.56,178.48 L211.74,178.43 L211.91,178.35 L212.09,178.23 L212.27,178.08 L212.44,177.90 L212.62,177.69 L212.80,177.44 L212.97,177.16 L213.15,176.85 L213.32,176.51 L213.50,176.14 L213.68,175.73 L213.85,175.29 L214.03,174.82 L214.21,174.32 L214.38,173.79 L214.56,173.23 L214.74,172.64 L214.91,172.02 L215.09,171.36 L215.27,170.68 L215.44,169.97 L215.62,169.23 L215.80,168.46 L215.97,167.66 L216.15,166.83 L216.33,165.97 L216.50,165.09 L216.68,164.18 L216.86,163.24 L217.03,162.28 L217.21,161.29 L217.39,160.28 L217.56,159.23 L217.74,158.17 L217.92,157.08 L218.09,155.96 L218.27,154.82 L218.45,153.66 L218.62,152.48 L218.80,151.27 L218.98,150.04 L219.15,148.80 L219.33,147.53 L219.51,146.23 L219.68,144.92 L219.86,143.59 L220.04,142.25 L220.21,140.88 L220.39,139.50 L220.57,138.10 L220.74,136.68 L220.92,135.24 L221.10,133.80 L221.27,132.33 L221.45,130.85 L221.63,129.36 L221.80,127.86 L221.98,126.34 L222.15,124.81 L222.33,123.27 L222.51,121.72 L222.68,120.16 L222.86,118.59 L223.04,117.02 L223.21,115.43 L223.39,113.84 L223.57,112.23 L223.74,110.63 L223.92,109.02 L224.10,107.40 L224.27,105.78 L224.45,104.15 L224.63,102.52 L224.80,100.89 L224.98,99.26 L225.16,97.63 L225.33,96.00 L225.51,94.36 L225.69,92.73 L225.86,91.10 L226.04,89.48 L226.22,87.85 L226.39,86.23 L226.57,84.61 L226.75,83.00 L226.92,81.39 L227.10,79.79 L227.28,78.20 L227.45,76.61 L227.63,75.04 L227.81,73.47 L227.98,71.91 L228.16,70.36 L228.34,68.82 L228.51,67.29 L228.69,65.77 L228.87,64.27 L229.04,62.78 L229.22,61.30 L229.40,59.84 L229.57,58.39 L229.75,56.96 L229.93,55.54 L230.10,54.14 L230.28,52.76 L230.46,51.39 L230.63,50.05 L230.81,48.72 L230.99,47.41 L231.16,46.12 L231.34,44.85 L231.51,43.60 L231.69,42.37 L231.87,41.17 L232.04,39.98 L232.22,38.82 L232.40,37.69 L232.57,36.57 L232.75,35.48 L232.93,34.42 L233.10,33.38 L233.28,32.36 L233.46,31.38 L233.63,30.41 L233.81,29.48 L233.99,28.57 L234.16,27.69 L234.34,26.83 L234.52,26.01 L234.69,25.21 L234.87,24.44 L235.05,23.70 L235.22,22.99 L235.40,22.31 L235.58,21.66 L235.75,21.04 L235.93,20.44 L236.11,19.88 L236.28,19.35 L236.46,18.86 L236.64,18.39 L236.81,17.95 L236.99,17.55 L237.17,17.17 L237.34,16.83 L237.52,16.52 L237.70,16.25 L237.87,16.00 L238.05,15.79 L238.23,15.61 L238.40,15.46 L238.58,15.35 L238.76,15.27 L238.93,15.22 L239.11,15.20 L239.29,15.22 L239.46,15.26 L239.64,15.35 L239.81,15.46 L239.99,15.61 L240.17,15.78 L240.34,15.99 L240.52,16.24 L240.70,16.51 L240.87,16.82 L241.05,17.16 L241.23,17.53 L241.40,17.94 L241.58,18.37 L241.76,18.84 L241.93,19.34 L242.11,19.86 L242.29,20.42 L242.46,21.01 L242.64,21.63 L242.82,22.28 L242.99,22.96 L243.17,23.67 L243.35,24.41 L243.52,25.18 L243.70,25.98 L243.88,26.80 L244.05,27.66 L244.23,28.54 L244.41,29.45 L244.58,30.38 L244.76,31.34 L244.94,32.33 L245.11,33.34 L245.29,34.38 L245.47,35.45 L245.64,36.53 L245.82,37.65 L246.00,38.78 L246.17,39.94 L246.35,41.13 L246.53,42.33 L246.70,43.56 L246.88,44.80 L247.06,46.07 L247.23,47.36 L247.41,48.67 L247.59,50.00 L247.76,51.35 L247.94,52.71 L248.12,54.09 L248.29,55.49 L248.47,56.91 L248.64,58.34 L248.82,59.79 L249.00,61.25 L249.17,62.73 L249.35,64.22 L249.53,65.72 L249.70,67.24 L249.88,68.76 L250.06,70.30 L250.23,71.85 L250.41,73.41 L250.59,74.98 L250.76,76.56 L250.94,78.14 L251.12,79.74 L251.29,81.34 L251.47,82.94 L251.65,84.56 L251.82,86.17 L252.00,87.79 L252.18,89.42 L252.35,91.05 L252.53,92.68 L252.71,94.31 L252.88,95.94 L253.06,97.57 L253.24,99.21 L253.41,100.84 L253.59,102.47 L253.77,104.10 L253.94,105.72 L254.12,107.34 L254.30,108.96 L254.47,110.57 L254.65,112.18 L254.83,113.78 L255.00,115.37 L255.18,116.96 L255.36,118.54 L255.53,120.11 L255.71,121.67 L255.89,123.22 L256.06,124.76 L256.24,126.29 L256.42,127.81 L256.59,129.31 L256.77,130.80 L256.95,132.28 L257.12,133.74 L257.30,135.19 L257.47,136.63 L257.65,138.05 L257.83,139.45 L258.00,140.83 L258.18,142.20 L258.36,143.55 L258.53,144.88 L258.71,146.19 L258.89,147.48 L259.06,148.75 L259.24,150.00 L259.42,151.23 L259.59,152.44 L259.77,153.62 L259.95,154.78 L260.12,155.92 L260.30,157.04 L260.48,158.13 L260.65,159.20 L260.83,160.24 L261.01,161.26 L261.18,162.25 L261.36,163.21 L261.54,164.15 L261.71,165.06 L261.89,165.94 L262.07,166.80 L262.24,167.63 L262.42,168.43 L262.60,169.20 L262.77,169.94 L262.95,170.66 L263.13,171.34 L263.30,171.99 L263.48,172.62 L263.66,173.21 L263.83,173.77 L264.01,174.30 L264.19,174.81 L264.36,175.28 L264.54,175.71 L264.72,176.12 L264.89,176.50 L265.07,176.84 L265.25,177.15 L265.42,177.43 L265.60,177.68 L265.78,177.89 L265.95,178.08 L266.13,178.23 L266.30,178.34 L266.48,178.43 L266.66,178.48 L266.83,178.50 L267.01,178.49 L267.19,178.44 L267.36,178.36 L267.54,178.25 L267.72,178.11 L267.89,177.93 L268.07,177.72 L268.25,177.48 L268.42,177.21 L268.60,176.90 L268.78,176.57 L268.95,176.20 L269.13,175.80 L269.31,175.36 L269.48,174.90 L269.66,174.40 L269.84,173.88 L270.01,173.32 L270.19,172.73 L270.37,172.12 L270.54,171.47 L270.72,170.79 L270.90,170.08 L271.07,169.35 L271.25,168.58 L271.43,167.79 L271.60,166.96 L271.78,166.11 L271.96,165.23 L272.13,164.33 L272.31,163.40 L272.49,162.44 L272.66,161.45 L272.84,160.44 L273.02,159.40 L273.19,158.34 L273.37,157.25 L273.55,156.14 L273.72,155.01 L273.90,153.85 L274.08,152.67 L274.25,151.47 L274.43,150.24 L274.61,149.00 L274.78,147.73 L274.96,146.44 L275.13,145.13 L275.31,143.81 L275.49,142.46 L275.66,141.10 L275.84,139.72 L276.02,138.32 L276.19,136.90 L276.37,135.47 L276.55,134.03 L276.72,132.57 L276.90,131.09 L277.08,129.60 L277.25,128.10 L277.43,126.58 L277.61,125.06 L277.78,123.52 L277.96,121.97 L278.14,120.41 L278.31,118.84 L278.49,117.27 L278.67,115.68 L278.84,114.09 L279.02,112.49 L279.20,110.88 L279.37,109.27 L279.55,107.66 L279.73,106.04 L279.90,104.41 L280.08,102.78 L280.26,101.15 L280.43,99.52 L280.61,97.89 L280.79,96.26 L280.96,94.62 L281.14,92.99 L281.32,91.36 L281.49,89.73 L281.67,88.11 L281.85,86.49 L282.02,84.87 L282.20,83.26 L282.38,81.65 L282.55,80.05 L282.73,78.45 L282.91,76.87 L283.08,75.29 L283.26,73.72 L283.44,72.16 L283.61,70.60 L283.79,69.06 L283.96,67.53 L284.14,66.01 L284.32,64.51 L284.49,63.02 L284.67,61.54 L284.85,60.07 L285.02,58.62 L285.20,57.19 L285.38,55.77 L285.55,54.36 L285.73,52.98 L285.91,51.61 L286.08,50.26 L286.26,48.93 L286.44,47.61 L286.61,46.32 L286.79,45.05 L286.97,43.80 L287.14,42.57 L287.32,41.36 L287.50,40.17 L287.67,39.01 L287.85,37.87 L288.03,36.75 L288.20,35.66 L288.38,34.59 L288.56,33.54 L288.73,32.52 L288.91,31.53 L289.09,30.57 L289.26,29.62 L289.44,28.71 L289.62,27.83 L289.79,26.97 L289.97,26.14 L290.15,25.33 L290.32,24.56 L290.50,23.82 L290.68,23.10 L290.85,22.41 L291.03,21.76 L291.21,21.13 L291.38,20.54 L291.56,19.97 L291.74,19.44 L291.91,18.93 L292.09,18.46 L292.27,18.02 L292.44,17.61 L292.62,17.23 L292.79,16.89 L292.97,16.57 L293.15,16.29 L293.32,16.04 L293.50,15.82 L293.68,15.64 L293.85,15.48 L294.03,15.36 L294.21,15.28 L294.38,15.22 L294.56,15.20 L294.74,15.21 L294.91,15.25 L295.09,15.33 L295.27,15.44 L295.44,15.58 L295.62,15.75 L295.80,15.96 L295.97,16.20 L296.15,16.47 L296.33,16.77 L296.50,17.11 L296.68,17.47 L296.86,17.87 L297.03,18.30 L297.21,18.76 L297.39,19.25 L297.56,19.78 L297.74,20.33 L297.92,20.92 L298.09,21.53 L298.27,22.18 L298.45,22.85 L298.62,23.56 L298.80,24.29 L298.98,25.06 L299.15,25.85 L299.33,26.67 L299.51,27.52 L299.68,28.39 L299.86,29.30 L300.04,30.23 L300.21,31.19 L300.39,32.17 L300.57,33.18 L300.74,34.21 L300.92,35.27 L301.10,36.36 L301.27,37.47 L301.45,38.60 L301.62,39.76 L301.80,40.94 L301.98,42.14 L302.15,43.36 L302.33,44.60 L302.51,45.87 L302.68,47.16 L302.86,48.46 L303.04,49.79 L303.21,51.13 L303.39,52.49 L303.57,53.87 L303.74,55.27 L303.92,56.68 L304.10,58.11 L304.27,59.56 L304.45,61.02 L304.63,62.49 L304.80,63.98 L304.98,65.48 L305.16,66.99 L305.33,68.52 L305.51,70.06 L305.69,71.61 L305.86,73.16 L306.04,74.73 L306.22,76.31 L306.39,77.89 L306.57,79.48 L306.75,81.08 L306.92,82.69 L307.10,84.30 L307.28,85.91 L307.45,87.53 L307.63,89.16 L307.81,90.79 L307.98,92.42 L308.16,94.05 L308.34,95.68 L308.51,97.31 L308.69,98.95 L308.87,100.58 L309.04,102.21 L309.22,103.84 L309.40,105.46 L309.57,107.08 L309.75,108.70 L309.93,110.31 L310.10,111.92 L310.28,113.52 L310.45,115.12 L310.63,116.71 L310.81,118.29 L310.98,119.86 L311.16,121.42 L311.34,122.97 L311.51,124.51 L311.69,126.05 L311.87,127.56 L312.04,129.07 L312.22,130.57 L312.40,132.05 L312.57,133.51 L312.75,134.96 L312.93,136.40 L313.10,137.82 L313.28,139.23 L313.46,140.61 L313.63,141.98 L313.81,143.33 L313.99,144.67 L314.16,145.98 L314.34,147.28 L314.52,148.55 L314.69,149.80 L314.87,151.04 L315.05,152.25 L315.22,153.43 L315.40,154.60 L315.58,155.74 L315.75,156.86 L315.93,157.96 L316.11,159.03 L316.28,160.07 L316.46,161.10 L316.64,162.09 L316.81,163.06 L316.99,164.00 L317.17,164.92 L317.34,165.80 L317.52,166.67 L317.70,167.50 L317.87,168.30 L318.05,169.08 L318.23,169.83 L318.40,170.54 L318.58,171.23 L318.76,171.89 L318.93,172.52 L319.11,173.12 L319.28,173.69 L319.46,174.22 L319.64,174.73 L319.81,175.20 L319.99,175.65 L320.17,176.06 L320.34,176.44 L320.52,176.79 L320.70,177.10 L320.87,177.39 L321.05,177.64 L321.23,177.86 L321.40,178.05 L321.58,178.20 L321.76,178.33 L321.93,178.42 L322.11,178.47 L322.29,178.50 L322.46,178.49 L322.64,178.45 L322.82,178.38 L322.99,178.27 L323.17,178.13 L323.35,177.96 L323.52,177.76 L323.70,177.52"/></g>
<g clip-path="url(#cBL)"><path class="blue3" d="M58.90,361.97 L59.08,359.97 L59.25,357.94 L59.43,355.89 L59.61,353.84 L59.78,351.80 L59.96,349.75 L60.14,347.72 L60.31,345.71 L60.49,343.72 L60.67,341.74 L60.84,339.80 L61.02,337.89 L61.20,336.02 L61.37,334.18 L61.55,332.38 L61.73,330.63 L61.90,328.93 L62.08,327.28 L62.26,325.68 L62.43,324.14 L62.61,322.65 L62.79,321.22 L62.96,319.85 L63.14,318.55 L63.31,317.30 L63.49,316.12 L63.67,315.01 L63.84,313.96 L64.02,312.97 L64.20,312.05 L64.37,311.20 L64.55,310.41 L64.73,309.69 L64.90,309.03 L65.08,308.44 L65.26,307.92 L65.43,307.46 L65.61,307.06 L65.79,306.73 L65.96,306.46 L66.14,306.25 L66.32,306.11 L66.49,306.03 L66.67,306.00 L66.85,306.04 L67.02,306.14 L67.20,306.30 L67.38,306.51 L67.55,306.78 L67.73,307.11 L67.91,307.50 L68.08,307.95 L68.26,308.45 L68.44,309.00 L68.61,309.62 L68.79,310.28 L68.97,311.00 L69.14,311.78 L69.32,312.61 L69.50,313.49 L69.67,314.42 L69.85,315.40 L70.03,316.43 L70.20,317.51 L70.38,318.64 L70.56,319.81 L70.73,321.04 L70.91,322.30 L71.09,323.61 L71.26,324.96 L71.44,326.35 L71.62,327.78 L71.79,329.24 L71.97,330.75 L72.14,332.28 L72.32,333.85 L72.50,335.45 L72.67,337.09 L72.85,338.74 L73.03,340.43 L73.20,342.14 L73.38,343.87 L73.56,345.62 L73.73,347.39 L73.91,349.18 L74.09,350.99 L74.26,352.81 L74.44,354.65 L74.62,356.49 L74.79,358.35 L74.97,360.21 L75.15,362.09 L75.32,363.96 L75.50,365.84 L75.68,367.73 L75.85,369.61 L76.03,371.50 L76.21,373.38 L76.38,375.27 L76.56,377.14 L76.74,379.02 L76.91,380.88 L77.09,382.74 L77.27,384.59 L77.44,386.43 L77.62,388.26 L77.80,390.07 L77.97,391.87 L78.15,393.66 L78.33,395.43 L78.50,397.19 L78.68,398.92 L78.86,400.64 L79.03,402.34 L79.21,404.02 L79.39,405.68 L79.56,407.31 L79.74,408.92 L79.92,410.51 L80.09,412.07 L80.27,413.60 L80.45,415.11 L80.62,416.59 L80.80,418.04 L80.97,419.47 L81.15,420.86 L81.33,422.23 L81.50,423.56 L81.68,424.86 L81.86,426.13 L82.03,427.36 L82.21,428.56 L82.39,429.73 L82.56,430.87 L82.74,431.97 L82.92,433.03 L83.09,434.06 L83.27,435.05 L83.45,436.00 L83.62,436.92 L83.80,437.80 L83.98,438.64 L84.15,439.44 L84.33,440.21 L84.51,440.93 L84.68,441.62 L84.86,442.27 L85.04,442.87 L85.21,443.44 L85.39,443.97 L85.57,444.46 L85.74,444.91 L85.92,445.31 L86.10,445.68 L86.27,446.01 L86.45,446.30 L86.63,446.54 L86.80,446.75 L86.98,446.91 L87.16,447.03 L87.33,447.12 L87.51,447.16 L87.69,447.16 L87.86,447.13 L88.04,447.05 L88.22,446.93 L88.39,446.77 L88.57,446.57 L88.75,446.34 L88.92,446.06 L89.10,445.74 L89.28,445.39 L89.45,445.00 L89.63,444.56 L89.81,444.09 L89.98,443.58 L90.16,443.04 L90.33,442.46 L90.51,441.84 L90.69,441.18 L90.86,440.49 L91.04,439.76 L91.22,439.00 L91.39,438.20 L91.57,437.36 L91.75,436.50 L91.92,435.60 L92.10,434.66 L92.28,433.69 L92.45,432.69 L92.63,431.66 L92.81,430.60 L92.98,429.51 L93.16,428.39 L93.34,427.23 L93.51,426.05 L93.69,424.84 L93.87,423.60 L94.04,422.34 L94.22,421.04 L94.40,419.72 L94.57,418.38 L94.75,417.01 L94.93,415.62 L95.10,414.20 L95.28,412.76 L95.46,411.30 L95.63,409.81 L95.81,408.31 L95.99,406.78 L96.16,405.24 L96.34,403.67 L96.52,402.09 L96.69,400.49 L96.87,398.87 L97.05,397.24 L97.22,395.59 L97.40,393.93 L97.58,392.25 L97.75,390.56 L97.93,388.86 L98.11,387.14 L98.28,385.42 L98.46,383.68 L98.64,381.94 L98.81,380.18 L98.99,378.42 L99.16,376.65 L99.34,374.87 L99.52,373.09 L99.69,371.30 L99.87,369.51 L100.05,367.72 L100.22,365.92 L100.40,364.12 L100.58,362.32 L100.75,360.52 L100.93,358.72 L101.11,356.92 L101.28,355.12 L101.46,353.32 L101.64,351.53 L101.81,349.74 L101.99,347.96 L102.17,346.18 L102.34,344.41 L102.52,342.64 L102.70,340.88 L102.87,339.13 L103.05,337.39 L103.23,335.66 L103.40,333.94 L103.58,332.24 L103.76,330.54 L103.93,328.86 L104.11,327.19 L104.29,325.53 L104.46,323.89 L104.64,322.26 L104.82,320.65 L104.99,319.06 L105.17,317.49 L105.35,315.93 L105.52,314.39 L105.70,312.87 L105.88,311.37 L106.05,309.89 L106.23,308.43 L106.41,306.99 L106.58,305.58 L106.76,304.19 L106.94,302.82 L107.11,301.48 L107.29,300.16 L107.47,298.86 L107.64,297.59 L107.82,296.35 L107.99,295.13 L108.17,293.95 L108.35,292.78 L108.52,291.65 L108.70,290.54 L108.88,289.47 L109.05,288.42 L109.23,287.40 L109.41,286.42 L109.58,285.46 L109.76,284.53 L109.94,283.64 L110.11,282.78 L110.29,281.95 L110.47,281.15 L110.64,280.38 L110.82,279.65 L111.00,278.95 L111.17,278.28 L111.35,277.65 L111.53,277.05 L111.70,276.49 L111.88,275.96 L112.06,275.47 L112.23,275.01 L112.41,274.58 L112.59,274.19 L112.76,273.84 L112.94,273.52 L113.12,273.24 L113.29,272.99 L113.47,272.78 L113.65,272.60 L113.82,272.46 L114.00,272.36 L114.18,272.29 L114.35,272.26 L114.53,272.27 L114.71,272.31 L114.88,272.38 L115.06,272.50 L115.24,272.65 L115.41,272.83 L115.59,273.05 L115.77,273.31 L115.94,273.60 L116.12,273.93 L116.30,274.29 L116.47,274.69 L116.65,275.13 L116.82,275.60 L117.00,276.10 L117.18,276.64 L117.35,277.21 L117.53,277.82 L117.71,278.46 L117.88,279.13 L118.06,279.84 L118.24,280.58 L118.41,281.35 L118.59,282.15 L118.77,282.99 L118.94,283.86 L119.12,284.76 L119.30,285.69 L119.47,286.65 L119.65,287.65 L119.83,288.67 L120.00,289.72 L120.18,290.80 L120.36,291.91 L120.53,293.05 L120.71,294.21 L120.89,295.40 L121.06,296.62 L121.24,297.87 L121.42,299.14 L121.59,300.43 L121.77,301.75 L121.95,303.10 L122.12,304.47 L122.30,305.86 L122.48,307.27 L122.65,308.71 L122.83,310.17 L123.01,311.64 L123.18,313.14 L123.36,314.66 L123.54,316.20 L123.71,317.75 L123.89,319.32 L124.07,320.91 L124.24,322.52 L124.42,324.14 L124.60,325.78 L124.77,327.43 L124.95,329.10 L125.12,330.78 L125.30,332.47 L125.48,334.17 L125.65,335.88 L125.83,337.61 L126.01,339.34 L126.18,341.09 L126.36,342.84 L126.54,344.60 L126.71,346.37 L126.89,348.14 L127.07,349.92 L127.24,351.70 L127.42,353.49 L127.60,355.28 L127.77,357.07 L127.95,358.87 L128.13,360.66 L128.30,362.46 L128.48,364.26 L128.66,366.05 L128.83,367.85 L129.01,369.64 L129.19,371.43 L129.36,373.21 L129.54,374.99 L129.72,376.77 L129.89,378.54 L130.07,380.30 L130.25,382.06 L130.42,383.81 L130.60,385.54 L130.78,387.27 L130.95,388.99 L131.13,390.70 L131.31,392.40 L131.48,394.08 L131.66,395.75 L131.84,397.41 L132.01,399.06 L132.19,400.69 L132.37,402.30 L132.54,403.90 L132.72,405.48 L132.90,407.04 L133.07,408.59 L133.25,410.11 L133.43,411.62 L133.60,413.11 L133.78,414.58 L133.96,416.02 L134.13,417.45 L134.31,418.85 L134.48,420.23 L134.66,421.58 L134.84,422.92 L135.01,424.22 L135.19,425.51 L135.37,426.76 L135.54,428.00 L135.72,429.20 L135.90,430.38 L136.07,431.53 L136.25,432.65 L136.43,433.75 L136.60,434.81 L136.78,435.85 L136.96,436.86 L137.13,437.84 L137.31,438.78 L137.49,439.70 L137.66,440.58 L137.84,441.44 L138.02,442.26 L138.19,443.05 L138.37,443.81 L138.55,444.53 L138.72,445.22 L138.90,445.88 L139.08,446.50 L139.25,447.09 L139.43,447.65 L139.61,448.17 L139.78,448.66 L139.96,449.11 L140.14,449.53 L140.31,449.92 L140.49,450.26 L140.67,450.58 L140.84,450.85 L141.02,451.10 L141.20,451.30 L141.37,451.47 L141.55,451.61 L141.73,451.71 L141.90,451.77 L142.08,451.79 L142.26,451.79 L142.43,451.74 L142.61,451.66 L142.78,451.54 L142.96,451.39 L143.14,451.20 L143.31,450.98 L143.49,450.72 L143.67,450.42 L143.84,450.09 L144.02,449.72 L144.20,449.32 L144.37,448.89 L144.55,448.42 L144.73,447.91 L144.90,447.37 L145.08,446.80 L145.26,446.19 L145.43,445.55 L145.61,444.87 L145.79,444.16 L145.96,443.42 L146.14,442.65 L146.32,441.84 L146.49,441.01 L146.67,440.14 L146.85,439.23 L147.02,438.30 L147.20,437.34 L147.38,436.35 L147.55,435.33 L147.73,434.27 L147.91,433.19 L148.08,432.08 L148.26,430.95 L148.44,429.78 L148.61,428.59 L148.79,427.37 L148.97,426.13 L149.14,424.86 L149.32,423.56 L149.50,422.24 L149.67,420.90 L149.85,419.53 L150.03,418.14 L150.20,416.72 L150.38,415.29 L150.56,413.83 L150.73,412.35 L150.91,410.86 L151.09,409.34 L151.26,407.80 L151.44,406.25 L151.62,404.68 L151.79,403.09 L151.97,401.48 L152.14,399.86 L152.32,398.22 L152.50,396.57 L152.67,394.91 L152.85,393.23 L153.03,391.54 L153.20,389.84 L153.38,388.12 L153.56,386.40 L153.73,384.66 L153.91,382.92 L154.09,381.17 L154.26,379.41 L154.44,377.65 L154.62,375.87 L154.79,374.09 L154.97,372.31 L155.15,370.53 L155.32,368.73 L155.50,366.94 L155.68,365.15 L155.85,363.35 L156.03,361.55 L156.21,359.76 L156.38,357.96 L156.56,356.17 L156.74,354.37 L156.91,352.59 L157.09,350.80 L157.27,349.02 L157.44,347.24 L157.62,345.47 L157.80,343.71 L157.97,341.95 L158.15,340.21 L158.33,338.47 L158.50,336.74 L158.68,335.02 L158.86,333.31 L159.03,331.61 L159.21,329.93 L159.39,328.25 L159.56,326.60 L159.74,324.95 L159.92,323.32 L160.09,321.71 L160.27,320.11 L160.45,318.53 L160.62,316.96 L160.80,315.41 L160.97,313.89 L161.15,312.38 L161.33,310.89 L161.50,309.42 L161.68,307.97 L161.86,306.55 L162.03,305.14 L162.21,303.76 L162.39,302.41 L162.56,301.07 L162.74,299.76 L162.92,298.48 L163.09,297.22 L163.27,295.99 L163.45,294.78 L163.62,293.60 L163.80,292.45 L163.98,291.32 L164.15,290.23 L164.33,289.16 L164.51,288.12 L164.68,287.11 L164.86,286.13 L165.04,285.18 L165.21,284.26 L165.39,283.38 L165.57,282.52 L165.74,281.70 L165.92,280.90 L166.10,280.14 L166.27,279.42 L166.45,278.72 L166.63,278.06 L166.80,277.44 L166.98,276.84 L167.16,276.28 L167.33,275.76 L167.51,275.27 L167.69,274.81 L167.86,274.39 L168.04,274.01 L168.22,273.66 L168.39,273.34 L168.57,273.06 L168.75,272.82 L168.92,272.61 L169.10,272.44 L169.28,272.30 L169.45,272.20 L169.63,272.13 L169.80,272.10 L169.98,272.11 L170.16,272.15 L170.33,272.23 L170.51,272.34 L170.69,272.49 L170.86,272.68 L171.04,272.90 L171.22,273.16 L171.39,273.45 L171.57,273.78 L171.75,274.14 L171.92,274.54 L172.10,274.97 L172.28,275.44 L172.45,275.95 L172.63,276.48 L172.81,277.05 L172.98,277.66 L173.16,278.30 L173.34,278.97 L173.51,279.68 L173.69,280.42 L173.87,281.19 L174.04,281.99 L174.22,282.83 L174.40,283.69 L174.57,284.59 L174.75,285.52 L174.93,286.48 L175.10,287.47 L175.28,288.49 L175.46,289.54 L175.63,290.62 L175.81,291.73 L175.99,292.86 L176.16,294.02 L176.34,295.21 L176.52,296.43 L176.69,297.67 L176.87,298.94 L177.05,300.24 L177.22,301.55 L177.40,302.90 L177.58,304.26 L177.75,305.65 L177.93,307.06 L178.11,308.50 L178.28,309.95 L178.46,311.43 L178.63,312.92 L178.81,314.44 L178.99,315.97 L179.16,317.53 L179.34,319.10 L179.52,320.69 L179.69,322.29 L179.87,323.91 L180.05,325.55 L180.22,327.20 L180.40,328.86 L180.58,330.54 L180.75,332.23 L180.93,333.93 L181.11,335.64 L181.28,337.36 L181.46,339.10 L181.64,340.84 L181.81,342.59 L181.99,344.35 L182.17,346.11 L182.34,347.89 L182.52,349.66 L182.70,351.45 L182.87,353.23 L183.05,355.02 L183.23,356.82 L183.40,358.61 L183.58,360.41 L183.76,362.20 L183.93,364.00 L184.11,365.80 L184.29,367.59 L184.46,369.38 L184.64,371.17 L184.82,372.96 L184.99,374.74 L185.17,376.52 L185.35,378.29 L185.52,380.05 L185.70,381.81 L185.88,383.55 L186.05,385.29 L186.23,387.03 L186.41,388.75 L186.58,390.46 L186.76,392.15 L186.94,393.84 L187.11,395.51 L187.29,397.17 L187.46,398.82 L187.64,400.45 L187.82,402.07 L187.99,403.67 L188.17,405.25 L188.35,406.82 L188.52,408.36 L188.70,409.89 L188.88,411.40 L189.05,412.89 L189.23,414.36 L189.41,415.81 L189.58,417.24 L189.76,418.64 L189.94,420.03 L190.11,421.39 L190.29,422.72 L190.47,424.03 L190.64,425.32 L190.82,426.58 L191.00,427.82 L191.17,429.03 L191.35,430.21 L191.53,431.36 L191.70,432.49 L191.88,433.59 L192.06,434.66 L192.23,435.70 L192.41,436.71 L192.59,437.69 L192.76,438.64 L192.94,439.57 L193.12,440.46 L193.29,441.31 L193.47,442.14 L193.65,442.93 L193.82,443.70 L194.00,444.43 L194.18,445.12 L194.35,445.79 L194.53,446.42 L194.71,447.01 L194.88,447.57 L195.06,448.10 L195.24,448.59 L195.41,449.05 L195.59,449.48 L195.77,449.86 L195.94,450.22 L196.12,450.54 L196.29,450.82 L196.47,451.07 L196.65,451.28 L196.82,451.45 L197.00,451.59 L197.18,451.70 L197.35,451.76 L197.53,451.80 L197.71,451.79 L197.88,451.75 L198.06,451.68 L198.24,451.57 L198.41,451.42 L198.59,451.24 L198.77,451.02 L198.94,450.76 L199.12,450.47 L199.30,450.15 L199.47,449.79 L199.65,449.39 L199.83,448.96 L200.00,448.50 L200.18,448.00 L200.36,447.46 L200.53,446.89 L200.71,446.29 L200.89,445.65 L201.06,444.98 L201.24,444.28 L201.42,443.54 L201.59,442.78 L201.77,441.97 L201.95,441.14 L202.12,440.28 L202.30,439.38 L202.48,438.45 L202.65,437.50 L202.83,436.51 L203.01,435.49 L203.18,434.44 L203.36,433.37 L203.54,432.26 L203.71,431.13 L203.89,429.97 L204.07,428.78 L204.24,427.57 L204.42,426.33 L204.60,425.06 L204.77,423.77 L204.95,422.45 L205.12,421.11 L205.30,419.75 L205.48,418.36 L205.65,416.95 L205.83,415.52 L206.01,414.07 L206.18,412.59 L206.36,411.10 L206.54,409.58 L206.71,408.05 L206.89,406.50 L207.07,404.93 L207.24,403.34 L207.42,401.74 L207.60,400.12 L207.77,398.49 L207.95,396.84 L208.13,395.17 L208.30,393.50 L208.48,391.81 L208.66,390.11 L208.83,388.40 L209.01,386.67 L209.19,384.94 L209.36,383.20 L209.54,381.45 L209.72,379.69 L209.89,377.93 L210.07,376.15 L210.25,374.38 L210.42,372.60 L210.60,370.81 L210.78,369.02 L210.95,367.23 L211.13,365.43 L211.31,363.64 L211.48,361.84 L211.66,360.04 L211.84,358.25 L212.01,356.45 L212.19,354.66 L212.37,352.87 L212.54,351.08 L212.72,349.30 L212.90,347.53 L213.07,345.75 L213.25,343.99 L213.43,342.23 L213.60,340.48 L213.78,338.74 L213.95,337.01 L214.13,335.29 L214.31,333.58 L214.48,331.88 L214.66,330.19 L214.84,328.52 L215.01,326.86 L215.19,325.21 L215.37,323.58 L215.54,321.96 L215.72,320.36 L215.90,318.78 L216.07,317.21 L216.25,315.66 L216.43,314.13 L216.60,312.62 L216.78,311.12 L216.96,309.65 L217.13,308.20 L217.31,306.77 L217.49,305.37 L217.66,303.98 L217.84,302.62 L218.02,301.28 L218.19,299.97 L218.37,298.68 L218.55,297.42 L218.72,296.18 L218.90,294.97 L219.08,293.79 L219.25,292.63 L219.43,291.50 L219.61,290.40 L219.78,289.33 L219.96,288.28 L220.14,287.27 L220.31,286.28 L220.49,285.33 L220.67,284.41 L220.84,283.51 L221.02,282.65 L221.20,281.82 L221.37,281.03 L221.55,280.26 L221.73,279.53 L221.90,278.83 L222.08,278.17 L222.26,277.53 L222.43,276.94 L222.61,276.37 L222.78,275.84 L222.96,275.34 L223.14,274.88 L223.31,274.46 L223.49,274.07 L223.67,273.71 L223.84,273.39 L224.02,273.10 L224.20,272.85 L224.37,272.64 L224.55,272.46 L224.73,272.32 L224.90,272.21 L225.08,272.14 L225.26,272.10 L225.43,272.10 L225.61,272.14 L225.79,272.21 L225.96,272.32 L226.14,272.47 L226.32,272.65 L226.49,272.86 L226.67,273.11 L226.85,273.40 L227.02,273.72 L227.20,274.08 L227.38,274.48 L227.55,274.90 L227.73,275.37 L227.91,275.86 L228.08,276.40 L228.26,276.96 L228.44,277.56 L228.61,278.19 L228.79,278.86 L228.97,279.56 L229.14,280.30 L229.32,281.06 L229.50,281.86 L229.67,282.69 L229.85,283.55 L230.03,284.45 L230.20,285.37 L230.38,286.33 L230.56,287.31 L230.73,288.33 L230.91,289.37 L231.09,290.45 L231.26,291.55 L231.44,292.68 L231.61,293.84 L231.79,295.02 L231.97,296.23 L232.14,297.47 L232.32,298.74 L232.50,300.03 L232.67,301.34 L232.85,302.68 L233.03,304.04 L233.20,305.43 L233.38,306.84 L233.56,308.27 L233.73,309.72 L233.91,311.19 L234.09,312.68 L234.26,314.20 L234.44,315.73 L234.62,317.28 L234.79,318.85 L234.97,320.43 L235.15,322.03 L235.32,323.65 L235.50,325.28 L235.68,326.93 L235.85,328.59 L236.03,330.27 L236.21,331.96 L236.38,333.66 L236.56,335.37 L236.74,337.09 L236.91,338.82 L237.09,340.56 L237.27,342.31 L237.44,344.07 L237.62,345.83 L237.80,347.60 L237.97,349.38 L238.15,351.16 L238.33,352.95 L238.50,354.74 L238.68,356.53 L238.86,358.33 L239.03,360.12 L239.21,361.92 L239.39,363.72 L239.56,365.51 L239.74,367.31 L239.92,369.10 L240.09,370.89 L240.27,372.67 L240.44,374.46 L240.62,376.23 L240.80,378.00 L240.97,379.77 L241.15,381.53 L241.33,383.28 L241.50,385.02 L241.68,386.75 L241.86,388.47 L242.03,390.18 L242.21,391.88 L242.39,393.57 L242.56,395.25 L242.74,396.91 L242.92,398.56 L243.09,400.19 L243.27,401.81 L243.45,403.41 L243.62,405.00 L243.80,406.57 L243.98,408.12 L244.15,409.65 L244.33,411.16 L244.51,412.66 L244.68,414.13 L244.86,415.58 L245.04,417.01 L245.21,418.42 L245.39,419.81 L245.57,421.17 L245.74,422.51 L245.92,423.83 L246.10,425.12 L246.27,426.38 L246.45,427.62 L246.63,428.84 L246.80,430.02 L246.98,431.18 L247.16,432.31 L247.33,433.42 L247.51,434.49 L247.69,435.54 L247.86,436.55 L248.04,437.54 L248.22,438.50 L248.39,439.42 L248.57,440.32 L248.75,441.18 L248.92,442.01 L249.10,442.81 L249.27,443.58 L249.45,444.31 L249.63,445.01 L249.80,445.68 L249.98,446.32 L250.16,446.92 L250.33,447.49 L250.51,448.02 L250.69,448.52 L250.86,448.98 L251.04,449.41 L251.22,449.80 L251.39,450.16 L251.57,450.49 L251.75,450.78 L251.92,451.03 L252.10,451.25 L252.28,451.43 L252.45,451.57 L252.63,451.68 L252.81,451.76 L252.98,451.79 L253.16,451.80 L253.34,451.76 L253.51,451.69 L253.69,451.59 L253.87,451.45 L254.04,451.27 L254.22,451.06 L254.40,450.81 L254.57,450.52 L254.75,450.20 L254.93,449.85 L255.10,449.46 L255.28,449.03 L255.46,448.57 L255.63,448.08 L255.81,447.55 L255.99,446.99 L256.16,446.39 L256.34,445.76 L256.52,445.09 L256.69,444.39 L256.87,443.66 L257.05,442.90 L257.22,442.10 L257.40,441.28 L257.57,440.42 L257.75,439.53 L257.93,438.60 L258.10,437.65 L258.28,436.67 L258.46,435.65 L258.63,434.61 L258.81,433.54 L258.99,432.44 L259.16,431.31 L259.34,430.16 L259.52,428.97 L259.69,427.76 L259.87,426.53 L260.05,425.26 L260.22,423.98 L260.40,422.66 L260.58,421.33 L260.75,419.97 L260.93,418.58 L261.11,417.18 L261.28,415.75 L261.46,414.30 L261.64,412.83 L261.81,411.34 L261.99,409.83 L262.17,408.29 L262.34,406.75 L262.52,405.18 L262.70,403.60 L262.87,402.00 L263.05,400.38 L263.23,398.75 L263.40,397.10 L263.58,395.44 L263.76,393.77 L263.93,392.08 L264.11,390.38 L264.29,388.67 L264.46,386.95 L264.64,385.22 L264.82,383.48 L264.99,381.73 L265.17,379.97 L265.35,378.21 L265.52,376.44 L265.70,374.66 L265.88,372.88 L266.05,371.09 L266.23,369.30 L266.41,367.51 L266.58,365.72 L266.76,363.92 L266.93,362.12 L267.11,360.33 L267.29,358.53 L267.46,356.74 L267.64,354.94 L267.82,353.15 L267.99,351.37 L268.17,349.59 L268.35,347.81 L268.52,346.04 L268.70,344.27 L268.88,342.51 L269.05,340.76 L269.23,339.02 L269.41,337.29 L269.58,335.56 L269.76,333.85 L269.94,332.15 L270.11,330.46 L270.29,328.79 L270.47,327.12 L270.64,325.47 L270.82,323.84 L271.00,322.22 L271.17,320.61 L271.35,319.03 L271.53,317.46 L271.70,315.90 L271.88,314.37 L272.06,312.86 L272.23,311.36 L272.41,309.89 L272.59,308.43 L272.76,307.00 L272.94,305.59 L273.12,304.20 L273.29,302.84 L273.47,301.49 L273.65,300.18 L273.82,298.88 L274.00,297.62 L274.18,296.38 L274.35,295.16 L274.53,293.97 L274.71,292.81 L274.88,291.68 L275.06,290.57 L275.24,289.49 L275.41,288.45 L275.59,287.43 L275.76,286.44 L275.94,285.48 L276.12,284.55 L276.29,283.65 L276.47,282.79 L276.65,281.95 L276.82,281.15 L277.00,280.38 L277.18,279.65 L277.35,278.94 L277.53,278.27 L277.71,277.63 L277.88,277.03 L278.06,276.46 L278.24,275.92 L278.41,275.42 L278.59,274.95 L278.77,274.52 L278.94,274.13 L279.12,273.76 L279.30,273.44 L279.47,273.15 L279.65,272.89 L279.83,272.67 L280.00,272.49 L280.18,272.34 L280.36,272.22 L280.53,272.15 L280.71,272.11 L280.89,272.10 L281.06,272.13 L281.24,272.20 L281.42,272.30 L281.59,272.44 L281.77,272.62 L281.95,272.83 L282.12,273.07 L282.30,273.35 L282.48,273.67 L282.65,274.02 L282.83,274.41 L283.01,274.83 L283.18,275.29 L283.36,275.78 L283.54,276.31 L283.71,276.87 L283.89,277.46 L284.06,278.09 L284.24,278.75 L284.42,279.45 L284.59,280.18 L284.77,280.94 L284.95,281.73 L285.12,282.56 L285.30,283.41 L285.48,284.30 L285.65,285.22 L285.83,286.17 L286.01,287.15 L286.18,288.16 L286.36,289.20 L286.54,290.27 L286.71,291.37 L286.89,292.50 L287.07,293.65 L287.24,294.83 L287.42,296.04 L287.60,297.27 L287.77,298.53 L287.95,299.82 L288.13,301.13 L288.30,302.47 L288.48,303.82 L288.66,305.21 L288.83,306.61 L289.01,308.04 L289.19,309.49 L289.36,310.95 L289.54,312.44 L289.72,313.95 L289.89,315.48 L290.07,317.03 L290.25,318.59 L290.42,320.18 L290.60,321.78 L290.78,323.39 L290.95,325.02 L291.13,326.67 L291.31,328.33 L291.48,330.00 L291.66,331.69 L291.84,333.38 L292.01,335.09 L292.19,336.81 L292.37,338.54 L292.54,340.28 L292.72,342.03 L292.90,343.79 L293.07,345.55 L293.25,347.32 L293.42,349.10 L293.60,350.88 L293.78,352.66 L293.95,354.45 L294.13,356.24 L294.31,358.04 L294.48,359.84 L294.66,361.63 L294.84,363.43 L295.01,365.23 L295.19,367.02 L295.37,368.81 L295.54,370.60 L295.72,372.39 L295.90,374.17 L296.07,375.95 L296.25,377.72 L296.43,379.49 L296.60,381.25 L296.78,383.00 L296.96,384.74 L297.13,386.47 L297.31,388.20 L297.49,389.91 L297.66,391.61 L297.84,393.30 L298.02,394.98 L298.19,396.65 L298.37,398.30 L298.55,399.93 L298.72,401.55 L298.90,403.16 L299.08,404.75 L299.25,406.32 L299.43,407.87 L299.61,409.41 L299.78,410.92 L299.96,412.42 L300.14,413.90 L300.31,415.35 L300.49,416.79 L300.67,418.20 L300.84,419.59 L301.02,420.96 L301.20,422.30 L301.37,423.62 L301.55,424.91 L301.73,426.18 L301.90,427.43 L302.08,428.64 L302.25,429.83 L302.43,431.00 L302.61,432.13 L302.78,433.24 L302.96,434.32 L303.14,435.37 L303.31,436.39 L303.49,437.38 L303.67,438.35 L303.84,439.28 L304.02,440.18 L304.20,441.04 L304.37,441.88 L304.55,442.69 L304.73,443.46 L304.90,444.20 L305.08,444.90 L305.26,445.58 L305.43,446.22 L305.61,446.82 L305.79,447.40 L305.96,447.94 L306.14,448.44 L306.32,448.91 L306.49,449.34 L306.67,449.74 L306.85,450.11 L307.02,450.44 L307.20,450.73 L307.38,450.99 L307.55,451.21 L307.73,451.40 L307.91,451.55 L308.08,451.67 L308.26,451.75 L308.44,451.79 L308.61,451.80 L308.79,451.77 L308.97,451.71 L309.14,451.61 L309.32,451.47 L309.50,451.30 L309.67,451.09 L309.85,450.85 L310.03,450.57 L310.20,450.26 L310.38,449.91 L310.56,449.52 L310.73,449.10 L310.91,448.65 L311.08,448.16 L311.26,447.64 L311.44,447.08 L311.61,446.49 L311.79,445.86 L311.97,445.20 L312.14,444.51 L312.32,443.78 L312.50,443.02 L312.67,442.23 L312.85,441.41 L313.03,440.56 L313.20,439.67 L313.38,438.75 L313.56,437.80 L313.73,436.83 L313.91,435.82 L314.09,434.78 L314.26,433.71 L314.44,432.62 L314.62,431.49 L314.79,430.34 L314.97,429.16 L315.15,427.96 L315.32,426.72 L315.50,425.47 L315.68,424.18 L315.85,422.87 L316.03,421.54 L316.21,420.18 L316.38,418.80 L316.56,417.40 L316.74,415.98 L316.91,414.53 L317.09,413.06 L317.27,411.57 L317.44,410.07 L317.62,408.54 L317.80,406.99 L317.97,405.43 L318.15,403.85 L318.33,402.25 L318.50,400.64 L318.68,399.01 L318.86,397.36 L319.03,395.70 L319.21,394.03 L319.38,392.35 L319.56,390.65 L319.74,388.94 L319.91,387.22 L320.09,385.49 L320.27,383.76 L320.44,382.01 L320.62,380.25 L320.80,378.49 L320.97,376.72 L321.15,374.94 L321.33,373.16 L321.50,371.38 L321.68,369.59 L321.86,367.80 L322.03,366.00 L322.21,364.21 L322.39,362.41 L322.56,360.61 L322.74,358.82 L322.92,357.02 L323.09,355.23 L323.27,353.44 L323.45,351.65 L323.62,349.87 L323.80,348.11"/><path class="red" d="M58.90,361.97 L59.08,359.97 L59.25,357.94 L59.43,355.89 L59.61,353.84 L59.78,351.80 L59.96,349.75 L60.14,347.72 L60.31,345.71 L60.49,343.72 L60.67,341.74 L60.84,339.80 L61.02,337.89 L61.20,336.02 L61.37,334.18 L61.55,332.38 L61.73,330.63 L61.90,328.93 L62.08,327.28 L62.26,325.68 L62.43,324.14 L62.61,322.65 L62.79,321.22 L62.96,319.85 L63.14,318.55 L63.31,317.30 L63.49,316.12 L63.67,315.01 L63.84,313.96 L64.02,312.97 L64.20,312.05 L64.37,311.20 L64.55,310.41 L64.73,309.69 L64.90,309.03 L65.08,308.44 L65.26,307.92 L65.43,307.46 L65.61,307.06 L65.79,306.73 L65.96,306.46 L66.14,306.25 L66.32,306.11 L66.49,306.03 L66.67,306.00 L66.85,306.04 L67.02,306.14 L67.20,306.30 L67.38,306.51 L67.55,306.78 L67.73,307.11 L67.91,307.50 L68.08,307.95 L68.26,308.45 L68.44,309.00 L68.61,309.62 L68.79,310.28 L68.97,311.00 L69.14,311.78 L69.32,312.61 L69.50,313.49 L69.67,314.42 L69.85,315.40 L70.03,316.43 L70.20,317.51 L70.38,318.64 L70.56,319.81 L70.73,321.04 L70.91,322.30 L71.09,323.61 L71.26,324.96 L71.44,326.35 L71.62,327.78 L71.79,329.24 L71.97,330.75 L72.14,332.28 L72.32,333.85 L72.50,335.45 L72.67,337.09 L72.85,338.74 L73.03,340.43 L73.20,342.14 L73.38,343.87 L73.56,345.62 L73.73,347.39 L73.91,349.18 L74.09,350.99 L74.26,352.81 L74.44,354.65 L74.62,356.49 L74.79,358.35 L74.97,360.21 L75.15,362.09 L75.32,363.96 L75.50,365.84 L75.68,367.73 L75.85,369.61 L76.03,371.50 L76.21,373.38 L76.38,375.27 L76.56,377.14 L76.74,379.02 L76.91,380.88 L77.09,382.74 L77.27,384.59 L77.44,386.43 L77.62,388.26 L77.80,390.07 L77.97,391.87 L78.15,393.66 L78.33,395.43 L78.50,397.19 L78.68,398.92 L78.86,400.64 L79.03,402.34 L79.21,404.02 L79.39,405.68 L79.56,407.31 L79.74,408.92 L79.92,410.51 L80.09,412.07 L80.27,413.60 L80.45,415.11 L80.62,416.59 L80.80,418.04 L80.97,419.47 L81.15,420.86 L81.33,422.23 L81.50,423.56 L81.68,424.86 L81.86,426.13 L82.03,427.36 L82.21,428.56 L82.39,429.73 L82.56,430.87 L82.74,431.97 L82.92,433.03 L83.09,434.06 L83.27,435.05 L83.45,436.00 L83.62,436.92 L83.80,437.80 L83.98,438.64 L84.15,439.44 L84.33,440.21 L84.51,440.93 L84.68,441.62 L84.86,442.27 L85.04,442.87 L85.21,443.44 L85.39,443.97 L85.57,444.46 L85.74,444.91 L85.92,445.31 L86.10,445.68 L86.27,446.01 L86.45,446.30 L86.63,446.54 L86.80,446.75 L86.98,446.91 L87.16,447.03 L87.33,447.12 L87.51,447.16 L87.69,447.16 L87.86,447.13 L88.04,447.05 L88.22,446.93 L88.39,446.77 L88.57,446.57 L88.75,446.34 L88.92,446.06 L89.10,445.74 L89.28,445.39 L89.45,445.00 L89.63,444.56 L89.81,444.09 L89.98,443.58 L90.16,443.04 L90.33,442.46 L90.51,441.84 L90.69,441.18 L90.86,440.49 L91.04,439.76 L91.22,439.00 L91.39,438.20 L91.57,437.36 L91.75,436.50 L91.92,435.60 L92.10,434.66 L92.28,433.69 L92.45,432.69 L92.63,431.66 L92.81,430.60 L92.98,429.51 L93.16,428.39 L93.34,427.23 L93.51,426.05 L93.69,424.84 L93.87,423.60 L94.04,422.34 L94.22,421.04 L94.40,419.72 L94.57,418.38 L94.75,417.01 L94.93,415.62 L95.10,414.20 L95.28,412.76 L95.46,411.30 L95.63,409.81 L95.81,408.31 L95.99,406.78 L96.16,405.24 L96.34,403.67 L96.52,402.09 L96.69,400.49 L96.87,398.87 L97.05,397.24 L97.22,395.59 L97.40,393.93 L97.58,392.25 L97.75,390.56 L97.93,388.86 L98.11,387.14 L98.28,385.42 L98.46,383.68 L98.64,381.94 L98.81,380.18 L98.99,378.42 L99.16,376.65 L99.34,374.87 L99.52,373.09 L99.69,371.30 L99.87,369.51 L100.05,367.72 L100.22,365.92 L100.40,364.12 L100.58,362.32 L100.75,360.52 L100.93,358.72 L101.11,356.92 L101.28,355.12 L101.46,353.32 L101.64,351.53 L101.81,349.74 L101.99,347.96 L102.17,346.18 L102.34,344.41 L102.52,342.64 L102.70,340.88 L102.87,339.13 L103.05,337.39 L103.23,335.66 L103.40,333.94 L103.58,332.24 L103.76,330.54 L103.93,328.86 L104.11,327.19 L104.29,325.53 L104.46,323.89 L104.64,322.26 L104.82,320.65 L104.99,319.06 L105.17,317.49 L105.35,315.93 L105.52,314.39 L105.70,312.87 L105.88,311.37 L106.05,309.89 L106.23,308.43 L106.41,306.99 L106.58,305.58 L106.76,304.19 L106.94,302.82 L107.11,301.48 L107.29,300.16 L107.47,298.86 L107.64,297.59 L107.82,296.35 L107.99,295.13 L108.17,293.95 L108.35,292.78 L108.52,291.65 L108.70,290.54 L108.88,289.47 L109.05,288.42 L109.23,287.40 L109.41,286.42 L109.58,285.46 L109.76,284.53 L109.94,283.64 L110.11,282.78 L110.29,281.95 L110.47,281.15 L110.64,280.38 L110.82,279.65 L111.00,278.95 L111.17,278.28 L111.35,277.65 L111.53,277.05 L111.70,276.49 L111.88,275.96 L112.06,275.47 L112.23,275.01 L112.41,274.58 L112.59,274.19 L112.76,273.84 L112.94,273.52 L113.12,273.24 L113.29,272.99 L113.47,272.78 L113.65,272.60 L113.82,272.46 L114.00,272.36 L114.18,272.29 L114.35,272.26 L114.53,272.27 L114.71,272.31 L114.88,272.38 L115.06,272.50 L115.24,272.65 L115.41,272.83 L115.59,273.05 L115.77,273.31 L115.94,273.60 L116.12,273.93 L116.30,274.29 L116.47,274.69 L116.65,275.13 L116.82,275.60 L117.00,276.10 L117.18,276.64 L117.35,277.21 L117.53,277.82 L117.71,278.46 L117.88,279.13 L118.06,279.84 L118.24,280.58 L118.41,281.35 L118.59,282.15 L118.77,282.99 L118.94,283.86 L119.12,284.76 L119.30,285.69 L119.47,286.65 L119.65,287.65 L119.83,288.67 L120.00,289.72 L120.18,290.80 L120.36,291.91 L120.53,293.05 L120.71,294.21 L120.89,295.40 L121.06,296.62 L121.24,297.87 L121.42,299.14 L121.59,300.43 L121.77,301.75 L121.95,303.10 L122.12,304.47 L122.30,305.86 L122.48,307.27 L122.65,308.71 L122.83,310.17 L123.01,311.64 L123.18,313.14 L123.36,314.66 L123.54,316.20 L123.71,317.75 L123.89,319.32 L124.07,320.91 L124.24,322.52 L124.42,324.14 L124.60,325.78 L124.77,327.43 L124.95,329.10 L125.12,330.78 L125.30,332.47 L125.48,334.17 L125.65,335.88 L125.83,337.61 L126.01,339.34 L126.18,341.09 L126.36,342.84 L126.54,344.60 L126.71,346.37 L126.89,348.14 L127.07,349.92 L127.24,351.70 L127.42,353.49 L127.60,355.28 L127.77,357.07 L127.95,358.87 L128.13,360.66 L128.30,362.46 L128.48,364.26 L128.66,366.05 L128.83,367.85 L129.01,369.64 L129.19,371.43 L129.36,373.21 L129.54,374.99 L129.72,376.77 L129.89,378.54 L130.07,380.30 L130.25,382.06 L130.42,383.81 L130.60,385.54 L130.78,387.27 L130.95,388.99 L131.13,390.70 L131.31,392.40 L131.48,394.08 L131.66,395.75 L131.84,397.41 L132.01,399.06 L132.19,400.69 L132.37,402.30 L132.54,403.90 L132.72,405.48 L132.90,407.04 L133.07,408.59 L133.25,410.11 L133.43,411.62 L133.60,413.11 L133.78,414.58 L133.96,416.02 L134.13,417.45 L134.31,418.85 L134.48,420.23 L134.66,421.58 L134.84,422.92 L135.01,424.22 L135.19,425.51 L135.37,426.76 L135.54,428.00 L135.72,429.20 L135.90,430.38 L136.07,431.53 L136.25,432.65 L136.43,433.75 L136.60,434.81 L136.78,435.85 L136.96,436.86 L137.13,437.84 L137.31,438.78 L137.49,439.70 L137.66,440.58 L137.84,441.44 L138.02,442.26 L138.19,443.05 L138.37,443.81 L138.55,444.53 L138.72,445.22 L138.90,445.88 L139.08,446.50 L139.25,447.09 L139.43,447.65 L139.61,448.17 L139.78,448.66 L139.96,449.11 L140.14,449.53 L140.31,449.92 L140.49,450.26 L140.67,450.58 L140.84,450.85 L141.02,451.10 L141.20,451.30 L141.37,451.47 L141.55,451.61 L141.73,451.71 L141.90,451.77 L142.08,451.79 L142.26,451.79 L142.43,451.74 L142.61,451.66 L142.78,451.54 L142.96,451.39 L143.14,451.20 L143.31,450.98 L143.49,450.72 L143.67,450.42 L143.84,450.09 L144.02,449.72 L144.20,449.32 L144.37,448.89 L144.55,448.42 L144.73,447.91 L144.90,447.37 L145.08,446.80 L145.26,446.19 L145.43,445.55 L145.61,444.87 L145.79,444.16 L145.96,443.42 L146.14,442.65 L146.32,441.84 L146.49,441.01 L146.67,440.14 L146.85,439.23 L147.02,438.30 L147.20,437.34 L147.38,436.35 L147.55,435.33 L147.73,434.27 L147.91,433.19 L148.08,432.08 L148.26,430.95 L148.44,429.78 L148.61,428.59 L148.79,427.37 L148.97,426.13 L149.14,424.86 L149.32,423.56 L149.50,422.24 L149.67,420.90 L149.85,419.53 L150.03,418.14 L150.20,416.72 L150.38,415.29 L150.56,413.83 L150.73,412.35 L150.91,410.86 L151.09,409.34 L151.26,407.80 L151.44,406.25 L151.62,404.68 L151.79,403.09 L151.97,401.48 L152.14,399.86 L152.32,398.22 L152.50,396.57 L152.67,394.91 L152.85,393.23 L153.03,391.54 L153.20,389.84 L153.38,388.12 L153.56,386.40 L153.73,384.66 L153.91,382.92 L154.09,381.17 L154.26,379.41 L154.44,377.65 L154.62,375.87 L154.79,374.09 L154.97,372.31 L155.15,370.53 L155.32,368.73 L155.50,366.94 L155.68,365.15 L155.85,363.35 L156.03,361.55 L156.21,359.76 L156.38,357.96 L156.56,356.17 L156.74,354.37 L156.91,352.59 L157.09,350.80 L157.27,349.02 L157.44,347.24 L157.62,345.47 L157.80,343.71 L157.97,341.95 L158.15,340.21 L158.33,338.47 L158.50,336.74 L158.68,335.02 L158.86,333.31 L159.03,331.61 L159.21,329.93 L159.39,328.25 L159.56,326.60 L159.74,324.95 L159.92,323.32 L160.09,321.71 L160.27,320.11 L160.45,318.53 L160.62,316.96 L160.80,315.41 L160.97,313.89 L161.15,312.38 L161.33,310.89 L161.50,309.42 L161.68,307.97 L161.86,306.55 L162.03,305.14 L162.21,303.76 L162.39,302.41 L162.56,301.07 L162.74,299.76 L162.92,298.48 L163.09,297.22 L163.27,295.99 L163.45,294.78 L163.62,293.60 L163.80,292.45 L163.98,291.32 L164.15,290.23 L164.33,289.16 L164.51,288.12 L164.68,287.11 L164.86,286.13 L165.04,285.18 L165.21,284.26 L165.39,283.38 L165.57,282.52 L165.74,281.70 L165.92,280.90 L166.10,280.14 L166.27,279.42 L166.45,278.72 L166.63,278.06 L166.80,277.44 L166.98,276.84 L167.16,276.28 L167.33,275.76 L167.51,275.27 L167.69,274.81 L167.86,274.39 L168.04,274.01 L168.22,273.66 L168.39,273.34 L168.57,273.06 L168.75,272.82 L168.92,272.61 L169.10,272.44 L169.28,272.30 L169.45,272.20 L169.63,272.13 L169.80,272.10 L169.98,272.11 L170.16,272.15 L170.33,272.23 L170.51,272.34 L170.69,272.49 L170.86,272.68 L171.04,272.90 L171.22,273.16 L171.39,273.45 L171.57,273.78 L171.75,274.14 L171.92,274.54 L172.10,274.97 L172.28,275.44 L172.45,275.95 L172.63,276.48 L172.81,277.05 L172.98,277.66 L173.16,278.30 L173.34,278.97 L173.51,279.68 L173.69,280.42 L173.87,281.19 L174.04,281.99 L174.22,282.83 L174.40,283.69 L174.57,284.59 L174.75,285.52 L174.93,286.48 L175.10,287.47 L175.28,288.49 L175.46,289.54 L175.63,290.62 L175.81,291.73 L175.99,292.86 L176.16,294.02 L176.34,295.21 L176.52,296.43 L176.69,297.67 L176.87,298.94 L177.05,300.24 L177.22,301.55 L177.40,302.90 L177.58,304.26 L177.75,305.65 L177.93,307.06 L178.11,308.50 L178.28,309.95 L178.46,311.43 L178.63,312.92 L178.81,314.44 L178.99,315.97 L179.16,317.53 L179.34,319.10 L179.52,320.69 L179.69,322.29 L179.87,323.91 L180.05,325.55 L180.22,327.20 L180.40,328.86 L180.58,330.54 L180.75,332.23 L180.93,333.93 L181.11,335.64 L181.28,337.36 L181.46,339.10 L181.64,340.84 L181.81,342.59 L181.99,344.35 L182.17,346.11 L182.34,347.89 L182.52,349.66 L182.70,351.45 L182.87,353.23 L183.05,355.02 L183.23,356.82 L183.40,358.61 L183.58,360.41 L183.76,362.20 L183.93,364.00 L184.11,365.80 L184.29,367.59 L184.46,369.38 L184.64,371.17 L184.82,372.96 L184.99,374.74 L185.17,376.52 L185.35,378.29 L185.52,380.05 L185.70,381.81 L185.88,383.55 L186.05,385.29 L186.23,387.03 L186.41,388.75 L186.58,390.46 L186.76,392.15 L186.94,393.84 L187.11,395.51 L187.29,397.17 L187.46,398.82 L187.64,400.45 L187.82,402.07 L187.99,403.67 L188.17,405.25 L188.35,406.82 L188.52,408.36 L188.70,409.89 L188.88,411.40 L189.05,412.89 L189.23,414.36 L189.41,415.81 L189.58,417.24 L189.76,418.64 L189.94,420.03 L190.11,421.39 L190.29,422.72 L190.47,424.03 L190.64,425.32 L190.82,426.58 L191.00,427.82 L191.17,429.03 L191.35,430.21 L191.53,431.36 L191.70,432.49 L191.88,433.59 L192.06,434.66 L192.23,435.70 L192.41,436.71 L192.59,437.69 L192.76,438.64 L192.94,439.57 L193.12,440.46 L193.29,441.31 L193.47,442.14 L193.65,442.93 L193.82,443.70 L194.00,444.43 L194.18,445.12 L194.35,445.79 L194.53,446.42 L194.71,447.01 L194.88,447.57 L195.06,448.10 L195.24,448.59 L195.41,449.05 L195.59,449.48 L195.77,449.86 L195.94,450.22 L196.12,450.54 L196.29,450.82 L196.47,451.07 L196.65,451.28 L196.82,451.45 L197.00,451.59 L197.18,451.70 L197.35,451.76 L197.53,451.80 L197.71,451.79 L197.88,451.75 L198.06,451.68 L198.24,451.57 L198.41,451.42 L198.59,451.24 L198.77,451.02 L198.94,450.76 L199.12,450.47 L199.30,450.15 L199.47,449.79 L199.65,449.39 L199.83,448.96 L200.00,448.50 L200.18,448.00 L200.36,447.46 L200.53,446.89 L200.71,446.29 L200.89,445.65 L201.06,444.98 L201.24,444.28 L201.42,443.54 L201.59,442.78 L201.77,441.97 L201.95,441.14 L202.12,440.28 L202.30,439.38 L202.48,438.45 L202.65,437.50 L202.83,436.51 L203.01,435.49 L203.18,434.44 L203.36,433.37 L203.54,432.26 L203.71,431.13 L203.89,429.97 L204.07,428.78 L204.24,427.57 L204.42,426.33 L204.60,425.06 L204.77,423.77 L204.95,422.45 L205.12,421.11 L205.30,419.75 L205.48,418.36 L205.65,416.95 L205.83,415.52 L206.01,414.07 L206.18,412.59 L206.36,411.10 L206.54,409.58 L206.71,408.05 L206.89,406.50 L207.07,404.93 L207.24,403.34 L207.42,401.74 L207.60,400.12 L207.77,398.49 L207.95,396.84 L208.13,395.17 L208.30,393.50 L208.48,391.81 L208.66,390.11 L208.83,388.40 L209.01,386.67 L209.19,384.94 L209.36,383.20 L209.54,381.45 L209.72,379.69 L209.89,377.93 L210.07,376.15 L210.25,374.38 L210.42,372.60 L210.60,370.81 L210.78,369.02 L210.95,367.23 L211.13,365.43 L211.31,363.64 L211.48,361.84 L211.66,360.04 L211.84,358.25 L212.01,356.45 L212.19,354.66 L212.37,352.87 L212.54,351.08 L212.72,349.30 L212.90,347.53 L213.07,345.75 L213.25,343.99 L213.43,342.23 L213.60,340.48 L213.78,338.74 L213.95,337.01 L214.13,335.29 L214.31,333.58 L214.48,331.88 L214.66,330.19 L214.84,328.52 L215.01,326.86 L215.19,325.21 L215.37,323.58 L215.54,321.96 L215.72,320.36 L215.90,318.78 L216.07,317.21 L216.25,315.66 L216.43,314.13 L216.60,312.62 L216.78,311.12 L216.96,309.65 L217.13,308.20 L217.31,306.77 L217.49,305.37 L217.66,303.98 L217.84,302.62 L218.02,301.28 L218.19,299.97 L218.37,298.68 L218.55,297.42 L218.72,296.18 L218.90,294.97 L219.08,293.79 L219.25,292.63 L219.43,291.50 L219.61,290.40 L219.78,289.33 L219.96,288.28 L220.14,287.27 L220.31,286.28 L220.49,285.33 L220.67,284.41 L220.84,283.51 L221.02,282.65 L221.20,281.82 L221.37,281.03 L221.55,280.26 L221.73,279.53 L221.90,278.83 L222.08,278.17 L222.26,277.53 L222.43,276.94 L222.61,276.37 L222.78,275.84 L222.96,275.34 L223.14,274.88 L223.31,274.46 L223.49,274.07 L223.67,273.71 L223.84,273.39 L224.02,273.10 L224.20,272.85 L224.37,272.64 L224.55,272.46 L224.73,272.32 L224.90,272.21 L225.08,272.14 L225.26,272.10 L225.43,272.10 L225.61,272.14 L225.79,272.21 L225.96,272.32 L226.14,272.47 L226.32,272.65 L226.49,272.86 L226.67,273.11 L226.85,273.40 L227.02,273.72 L227.20,274.08 L227.38,274.48 L227.55,274.90 L227.73,275.37 L227.91,275.86 L228.08,276.40 L228.26,276.96 L228.44,277.56 L228.61,278.19 L228.79,278.86 L228.97,279.56 L229.14,280.30 L229.32,281.06 L229.50,281.86 L229.67,282.69 L229.85,283.55 L230.03,284.45 L230.20,285.37 L230.38,286.33 L230.56,287.31 L230.73,288.33 L230.91,289.37 L231.09,290.45 L231.26,291.55 L231.44,292.68 L231.61,293.84 L231.79,295.02 L231.97,296.23 L232.14,297.47 L232.32,298.74 L232.50,300.03 L232.67,301.34 L232.85,302.68 L233.03,304.04 L233.20,305.43 L233.38,306.84 L233.56,308.27 L233.73,309.72 L233.91,311.19 L234.09,312.68 L234.26,314.20 L234.44,315.73 L234.62,317.28 L234.79,318.85 L234.97,320.43 L235.15,322.03 L235.32,323.65 L235.50,325.28 L235.68,326.93 L235.85,328.59 L236.03,330.27 L236.21,331.96 L236.38,333.66 L236.56,335.37 L236.74,337.09 L236.91,338.82 L237.09,340.56 L237.27,342.31 L237.44,344.07 L237.62,345.83 L237.80,347.60 L237.97,349.38 L238.15,351.16 L238.33,352.95 L238.50,354.74 L238.68,356.53 L238.86,358.33 L239.03,360.12 L239.21,361.92 L239.39,363.72 L239.56,365.51 L239.74,367.31 L239.92,369.10 L240.09,370.89 L240.27,372.67 L240.44,374.46 L240.62,376.23 L240.80,378.00 L240.97,379.77 L241.15,381.53 L241.33,383.28 L241.50,385.02 L241.68,386.75 L241.86,388.47 L242.03,390.18 L242.21,391.88 L242.39,393.57 L242.56,395.25 L242.74,396.91 L242.92,398.56 L243.09,400.19 L243.27,401.81 L243.45,403.41 L243.62,405.00 L243.80,406.57 L243.98,408.12 L244.15,409.65 L244.33,411.16 L244.51,412.66 L244.68,414.13 L244.86,415.58 L245.04,417.01 L245.21,418.42 L245.39,419.81 L245.57,421.17 L245.74,422.51 L245.92,423.83 L246.10,425.12 L246.27,426.38 L246.45,427.62 L246.63,428.84 L246.80,430.02 L246.98,431.18 L247.16,432.31 L247.33,433.42 L247.51,434.49 L247.69,435.54 L247.86,436.55 L248.04,437.54 L248.22,438.50 L248.39,439.42 L248.57,440.32 L248.75,441.18 L248.92,442.01 L249.10,442.81 L249.27,443.58 L249.45,444.31 L249.63,445.01 L249.80,445.68 L249.98,446.32 L250.16,446.92 L250.33,447.49 L250.51,448.02 L250.69,448.52 L250.86,448.98 L251.04,449.41 L251.22,449.80 L251.39,450.16 L251.57,450.49 L251.75,450.78 L251.92,451.03 L252.10,451.25 L252.28,451.43 L252.45,451.57 L252.63,451.68 L252.81,451.76 L252.98,451.79 L253.16,451.80 L253.34,451.76 L253.51,451.69 L253.69,451.59 L253.87,451.45 L254.04,451.27 L254.22,451.06 L254.40,450.81 L254.57,450.52 L254.75,450.20 L254.93,449.85 L255.10,449.46 L255.28,449.03 L255.46,448.57 L255.63,448.08 L255.81,447.55 L255.99,446.99 L256.16,446.39 L256.34,445.76 L256.52,445.09 L256.69,444.39 L256.87,443.66 L257.05,442.90 L257.22,442.10 L257.40,441.28 L257.57,440.42 L257.75,439.53 L257.93,438.60 L258.10,437.65 L258.28,436.67 L258.46,435.65 L258.63,434.61 L258.81,433.54 L258.99,432.44 L259.16,431.31 L259.34,430.16 L259.52,428.97 L259.69,427.76 L259.87,426.53 L260.05,425.26 L260.22,423.98 L260.40,422.66 L260.58,421.33 L260.75,419.97 L260.93,418.58 L261.11,417.18 L261.28,415.75 L261.46,414.30 L261.64,412.83 L261.81,411.34 L261.99,409.83 L262.17,408.29 L262.34,406.75 L262.52,405.18 L262.70,403.60 L262.87,402.00 L263.05,400.38 L263.23,398.75 L263.40,397.10 L263.58,395.44 L263.76,393.77 L263.93,392.08 L264.11,390.38 L264.29,388.67 L264.46,386.95 L264.64,385.22 L264.82,383.48 L264.99,381.73 L265.17,379.97 L265.35,378.21 L265.52,376.44 L265.70,374.66 L265.88,372.88 L266.05,371.09 L266.23,369.30 L266.41,367.51 L266.58,365.72 L266.76,363.92 L266.93,362.12 L267.11,360.33 L267.29,358.53 L267.46,356.74 L267.64,354.94 L267.82,353.15 L267.99,351.37 L268.17,349.59 L268.35,347.81 L268.52,346.04 L268.70,344.27 L268.88,342.51 L269.05,340.76 L269.23,339.02 L269.41,337.29 L269.58,335.56 L269.76,333.85 L269.94,332.15 L270.11,330.46 L270.29,328.79 L270.47,327.12 L270.64,325.47 L270.82,323.84 L271.00,322.22 L271.17,320.61 L271.35,319.03 L271.53,317.46 L271.70,315.90 L271.88,314.37 L272.06,312.86 L272.23,311.36 L272.41,309.89 L272.59,308.43 L272.76,307.00 L272.94,305.59 L273.12,304.20 L273.29,302.84 L273.47,301.49 L273.65,300.18 L273.82,298.88 L274.00,297.62 L274.18,296.38 L274.35,295.16 L274.53,293.97 L274.71,292.81 L274.88,291.68 L275.06,290.57 L275.24,289.49 L275.41,288.45 L275.59,287.43 L275.76,286.44 L275.94,285.48 L276.12,284.55 L276.29,283.65 L276.47,282.79 L276.65,281.95 L276.82,281.15 L277.00,280.38 L277.18,279.65 L277.35,278.94 L277.53,278.27 L277.71,277.63 L277.88,277.03 L278.06,276.46 L278.24,275.92 L278.41,275.42 L278.59,274.95 L278.77,274.52 L278.94,274.13 L279.12,273.76 L279.30,273.44 L279.47,273.15 L279.65,272.89 L279.83,272.67 L280.00,272.49 L280.18,272.34 L280.36,272.22 L280.53,272.15 L280.71,272.11 L280.89,272.10 L281.06,272.13 L281.24,272.20 L281.42,272.30 L281.59,272.44 L281.77,272.62 L281.95,272.83 L282.12,273.07 L282.30,273.35 L282.48,273.67 L282.65,274.02 L282.83,274.41 L283.01,274.83 L283.18,275.29 L283.36,275.78 L283.54,276.31 L283.71,276.87 L283.89,277.46 L284.06,278.09 L284.24,278.75 L284.42,279.45 L284.59,280.18 L284.77,280.94 L284.95,281.73 L285.12,282.56 L285.30,283.41 L285.48,284.30 L285.65,285.22 L285.83,286.17 L286.01,287.15 L286.18,288.16 L286.36,289.20 L286.54,290.27 L286.71,291.37 L286.89,292.50 L287.07,293.65 L287.24,294.83 L287.42,296.04 L287.60,297.27 L287.77,298.53 L287.95,299.82 L288.13,301.13 L288.30,302.47 L288.48,303.82 L288.66,305.21 L288.83,306.61 L289.01,308.04 L289.19,309.49 L289.36,310.95 L289.54,312.44 L289.72,313.95 L289.89,315.48 L290.07,317.03 L290.25,318.59 L290.42,320.18 L290.60,321.78 L290.78,323.39 L290.95,325.02 L291.13,326.67 L291.31,328.33 L291.48,330.00 L291.66,331.69 L291.84,333.38 L292.01,335.09 L292.19,336.81 L292.37,338.54 L292.54,340.28 L292.72,342.03 L292.90,343.79 L293.07,345.55 L293.25,347.32 L293.42,349.10 L293.60,350.88 L293.78,352.66 L293.95,354.45 L294.13,356.24 L294.31,358.04 L294.48,359.84 L294.66,361.63 L294.84,363.43 L295.01,365.23 L295.19,367.02 L295.37,368.81 L295.54,370.60 L295.72,372.39 L295.90,374.17 L296.07,375.95 L296.25,377.72 L296.43,379.49 L296.60,381.25 L296.78,383.00 L296.96,384.74 L297.13,386.47 L297.31,388.20 L297.49,389.91 L297.66,391.61 L297.84,393.30 L298.02,394.98 L298.19,396.65 L298.37,398.30 L298.55,399.93 L298.72,401.55 L298.90,403.16 L299.08,404.75 L299.25,406.32 L299.43,407.87 L299.61,409.41 L299.78,410.92 L299.96,412.42 L300.14,413.90 L300.31,415.35 L300.49,416.79 L300.67,418.20 L300.84,419.59 L301.02,420.96 L301.20,422.30 L301.37,423.62 L301.55,424.91 L301.73,426.18 L301.90,427.43 L302.08,428.64 L302.25,429.83 L302.43,431.00 L302.61,432.13 L302.78,433.24 L302.96,434.32 L303.14,435.37 L303.31,436.39 L303.49,437.38 L303.67,438.35 L303.84,439.28 L304.02,440.18 L304.20,441.04 L304.37,441.88 L304.55,442.69 L304.73,443.46 L304.90,444.20 L305.08,444.90 L305.26,445.58 L305.43,446.22 L305.61,446.82 L305.79,447.40 L305.96,447.94 L306.14,448.44 L306.32,448.91 L306.49,449.34 L306.67,449.74 L306.85,450.11 L307.02,450.44 L307.20,450.73 L307.38,450.99 L307.55,451.21 L307.73,451.40 L307.91,451.55 L308.08,451.67 L308.26,451.75 L308.44,451.79 L308.61,451.80 L308.79,451.77 L308.97,451.71 L309.14,451.61 L309.32,451.47 L309.50,451.30 L309.67,451.09 L309.85,450.85 L310.03,450.57 L310.20,450.26 L310.38,449.91 L310.56,449.52 L310.73,449.10 L310.91,448.65 L311.08,448.16 L311.26,447.64 L311.44,447.08 L311.61,446.49 L311.79,445.86 L311.97,445.20 L312.14,444.51 L312.32,443.78 L312.50,443.02 L312.67,442.23 L312.85,441.41 L313.03,440.56 L313.20,439.67 L313.38,438.75 L313.56,437.80 L313.73,436.83 L313.91,435.82 L314.09,434.78 L314.26,433.71 L314.44,432.62 L314.62,431.49 L314.79,430.34 L314.97,429.16 L315.15,427.96 L315.32,426.72 L315.50,425.47 L315.68,424.18 L315.85,422.87 L316.03,421.54 L316.21,420.18 L316.38,418.80 L316.56,417.40 L316.74,415.98 L316.91,414.53 L317.09,413.06 L317.27,411.57 L317.44,410.07 L317.62,408.54 L317.80,406.99 L317.97,405.43 L318.15,403.85 L318.33,402.25 L318.50,400.64 L318.68,399.01 L318.86,397.36 L319.03,395.70 L319.21,394.03 L319.38,392.35 L319.56,390.65 L319.74,388.94 L319.91,387.22 L320.09,385.49 L320.27,383.76 L320.44,382.01 L320.62,380.25 L320.80,378.49 L320.97,376.72 L321.15,374.94 L321.33,373.16 L321.50,371.38 L321.68,369.59 L321.86,367.80 L322.03,366.00 L322.21,364.21 L322.39,362.41 L322.56,360.61 L322.74,358.82 L322.92,357.02 L323.09,355.23 L323.27,353.44 L323.45,351.65 L323.62,349.87 L323.80,348.11"/></g>
<g clip-path="url(#cTR)"><path class="blue2" d="M411.00,96.90 L411.18,98.10 L411.35,99.35 L411.53,100.65 L411.70,102.00 L411.88,103.37 L412.05,104.78 L412.23,106.22 L412.41,107.66 L412.58,109.13 L412.76,110.59 L412.93,112.06 L413.11,113.53 L413.28,114.98 L413.46,116.42 L413.63,117.85 L413.81,119.25 L413.99,120.62 L414.16,121.97 L414.34,123.28 L414.51,124.55 L414.69,125.79 L414.86,126.98 L415.04,128.13 L415.22,129.23 L415.39,130.28 L415.57,131.27 L415.74,132.22 L415.92,133.11 L416.09,133.95 L416.27,134.73 L416.45,135.45 L416.62,136.11 L416.80,136.72 L416.97,137.26 L417.15,137.75 L417.32,138.17 L417.50,138.54 L417.68,138.84 L417.85,139.09 L418.03,139.28 L418.20,139.40 L418.38,139.47 L418.55,139.48 L418.73,139.44 L418.90,139.33 L419.08,139.18 L419.26,138.96 L419.43,138.69 L419.61,138.37 L419.78,138.00 L419.96,137.58 L420.13,137.10 L420.31,136.58 L420.49,136.01 L420.66,135.40 L420.84,134.74 L421.01,134.03 L421.19,133.28 L421.36,132.50 L421.54,131.67 L421.72,130.80 L421.89,129.90 L422.07,128.96 L422.24,127.98 L422.42,126.97 L422.59,125.93 L422.77,124.86 L422.95,123.76 L423.12,122.64 L423.30,121.48 L423.47,120.30 L423.65,119.10 L423.82,117.87 L424.00,116.63 L424.18,115.36 L424.35,114.07 L424.53,112.77 L424.70,111.45 L424.88,110.12 L425.05,108.77 L425.23,107.41 L425.40,106.04 L425.58,104.65 L425.76,103.26 L425.93,101.86 L426.11,100.46 L426.28,99.04 L426.46,97.63 L426.63,96.21 L426.81,94.78 L426.99,93.36 L427.16,91.94 L427.34,90.51 L427.51,89.09 L427.69,87.67 L427.86,86.25 L428.04,84.84 L428.22,83.44 L428.39,82.04 L428.57,80.65 L428.74,79.26 L428.92,77.89 L429.09,76.52 L429.27,75.16 L429.44,73.82 L429.62,72.49 L429.80,71.17 L429.97,69.86 L430.15,68.57 L430.32,67.29 L430.50,66.03 L430.67,64.79 L430.85,63.56 L431.03,62.35 L431.20,61.16 L431.38,59.99 L431.55,58.83 L431.73,57.70 L431.90,56.59 L432.08,55.50 L432.26,54.43 L432.43,53.38 L432.61,52.35 L432.78,51.35 L432.96,50.37 L433.13,49.41 L433.31,48.48 L433.49,47.58 L433.66,46.69 L433.84,45.84 L434.01,45.01 L434.19,44.20 L434.36,43.43 L434.54,42.68 L434.72,41.95 L434.89,41.26 L435.07,40.59 L435.24,39.95 L435.42,39.33 L435.59,38.75 L435.77,38.19 L435.94,37.67 L436.12,37.17 L436.30,36.70 L436.47,36.26 L436.65,35.85 L436.82,35.46 L437.00,35.11 L437.17,34.79 L437.35,34.50 L437.53,34.23 L437.70,34.00 L437.88,33.80 L438.05,33.63 L438.23,33.48 L438.40,33.37 L438.58,33.28 L438.76,33.23 L438.93,33.21 L439.11,33.21 L439.28,33.25 L439.46,33.31 L439.63,33.41 L439.81,33.53 L439.99,33.68 L440.16,33.86 L440.34,34.08 L440.51,34.32 L440.69,34.58 L440.86,34.88 L441.04,35.21 L441.21,35.56 L441.39,35.94 L441.57,36.35 L441.74,36.79 L441.92,37.25 L442.09,37.74 L442.27,38.26 L442.44,38.80 L442.62,39.37 L442.80,39.97 L442.97,40.59 L443.15,41.24 L443.32,41.91 L443.50,42.61 L443.67,43.33 L443.85,44.07 L444.03,44.84 L444.20,45.63 L444.38,46.45 L444.55,47.28 L444.73,48.14 L444.90,49.02 L445.08,49.92 L445.25,50.84 L445.43,51.79 L445.61,52.75 L445.78,53.73 L445.96,54.73 L446.13,55.75 L446.31,56.79 L446.48,57.84 L446.66,58.92 L446.84,60.00 L447.01,61.11 L447.19,62.23 L447.36,63.37 L447.54,64.52 L447.71,65.68 L447.89,66.86 L448.07,68.06 L448.24,69.26 L448.42,70.48 L448.59,71.71 L448.77,72.95 L448.94,74.20 L449.12,75.46 L449.30,76.73 L449.47,78.01 L449.65,79.30 L449.82,80.59 L450.00,81.89 L450.17,83.20 L450.35,84.52 L450.52,85.84 L450.70,87.17 L450.88,88.50 L451.05,89.83 L451.23,91.17 L451.40,92.51 L451.58,93.86 L451.75,95.20 L451.93,96.55 L452.11,97.90 L452.28,99.24 L452.46,100.59 L452.63,101.93 L452.81,103.28 L452.98,104.62 L453.16,105.96 L453.34,107.29 L453.51,108.62 L453.69,109.95 L453.86,111.27 L454.04,112.59 L454.21,113.90 L454.39,115.20 L454.57,116.50 L454.74,117.79 L454.92,119.07 L455.09,120.34 L455.27,121.60 L455.44,122.85 L455.62,124.09 L455.80,125.33 L455.97,126.55 L456.15,127.75 L456.32,128.95 L456.50,130.13 L456.67,131.30 L456.85,132.46 L457.02,133.60 L457.20,134.72 L457.38,135.84 L457.55,136.93 L457.73,138.01 L457.90,139.07 L458.08,140.12 L458.25,141.15 L458.43,142.16 L458.61,143.15 L458.78,144.13 L458.96,145.08 L459.13,146.02 L459.31,146.93 L459.48,147.83 L459.66,148.70 L459.84,149.56 L460.01,150.39 L460.19,151.20 L460.36,151.99 L460.54,152.76 L460.71,153.50 L460.89,154.22 L461.06,154.92 L461.24,155.60 L461.42,156.25 L461.59,156.88 L461.77,157.48 L461.94,158.06 L462.12,158.61 L462.29,159.14 L462.47,159.64 L462.65,160.12 L462.82,160.58 L463.00,161.00 L463.17,161.41 L463.35,161.78 L463.52,162.13 L463.70,162.45 L463.88,162.75 L464.05,163.02 L464.23,163.26 L464.40,163.48 L464.58,163.67 L464.75,163.83 L464.93,163.97 L465.11,164.08 L465.28,164.16 L465.46,164.21 L465.63,164.24 L465.81,164.24 L465.98,164.21 L466.16,164.16 L466.33,164.08 L466.51,163.97 L466.69,163.83 L466.86,163.67 L467.04,163.48 L467.21,163.26 L467.39,163.02 L467.56,162.75 L467.74,162.46 L467.92,162.13 L468.09,161.78 L468.27,161.41 L468.44,161.01 L468.62,160.58 L468.79,160.13 L468.97,159.65 L469.15,159.15 L469.32,158.62 L469.50,158.06 L469.67,157.49 L469.85,156.88 L470.02,156.26 L470.20,155.61 L470.38,154.93 L470.55,154.23 L470.73,153.51 L470.90,152.77 L471.08,152.00 L471.25,151.21 L471.43,150.40 L471.61,149.57 L471.78,148.72 L471.96,147.85 L472.13,146.95 L472.31,146.04 L472.48,145.10 L472.66,144.15 L472.83,143.17 L473.01,142.18 L473.19,141.17 L473.36,140.15 L473.54,139.10 L473.71,138.04 L473.89,136.96 L474.06,135.86 L474.24,134.75 L474.42,133.63 L474.59,132.49 L474.77,131.33 L474.94,130.16 L475.12,128.98 L475.29,127.79 L475.47,126.58 L475.65,125.36 L475.82,124.13 L476.00,122.88 L476.17,121.63 L476.35,120.37 L476.52,119.10 L476.70,117.82 L476.88,116.53 L477.05,115.23 L477.23,113.92 L477.40,112.61 L477.58,111.29 L477.75,109.97 L477.93,108.64 L478.10,107.31 L478.28,105.97 L478.46,104.63 L478.63,103.28 L478.81,101.93 L478.98,100.58 L479.16,99.23 L479.33,97.88 L479.51,96.53 L479.69,95.17 L479.86,93.82 L480.04,92.47 L480.21,91.12 L480.39,89.77 L480.56,88.43 L480.74,87.09 L480.92,85.75 L481.09,84.42 L481.27,83.09 L481.44,81.77 L481.62,80.45 L481.79,79.14 L481.97,77.84 L482.14,76.55 L482.32,75.26 L482.50,73.98 L482.67,72.71 L482.85,71.45 L483.02,70.21 L483.20,68.97 L483.37,67.74 L483.55,66.52 L483.73,65.32 L483.90,64.13 L484.08,62.95 L484.25,61.79 L484.43,60.64 L484.60,59.50 L484.78,58.38 L484.96,57.27 L485.13,56.18 L485.31,55.11 L485.48,54.05 L485.66,53.01 L485.83,51.99 L486.01,50.99 L486.19,50.00 L486.36,49.04 L486.54,48.09 L486.71,47.16 L486.89,46.25 L487.06,45.36 L487.24,44.50 L487.42,43.65 L487.59,42.82 L487.77,42.02 L487.94,41.24 L488.12,40.48 L488.29,39.74 L488.47,39.03 L488.64,38.34 L488.82,37.67 L489.00,37.03 L489.17,36.41 L489.35,35.81 L489.52,35.24 L489.70,34.69 L489.87,34.17 L490.05,33.68 L490.23,33.21 L490.40,32.76 L490.58,32.34 L490.75,31.95 L490.93,31.58 L491.10,31.24 L491.28,30.92 L491.46,30.63 L491.63,30.37 L491.81,30.13 L491.98,29.92 L492.16,29.74 L492.33,29.58 L492.51,29.46 L492.69,29.35 L492.86,29.28 L493.04,29.23 L493.21,29.21 L493.39,29.22 L493.56,29.25 L493.74,29.31 L493.91,29.40 L494.09,29.51 L494.27,29.65 L494.44,29.82 L494.62,30.02 L494.79,30.24 L494.97,30.49 L495.14,30.76 L495.32,31.07 L495.50,31.39 L495.67,31.75 L495.85,32.13 L496.02,32.54 L496.20,32.97 L496.37,33.43 L496.55,33.91 L496.73,34.42 L496.90,34.95 L497.08,35.51 L497.25,36.09 L497.43,36.70 L497.60,37.33 L497.78,37.98 L497.95,38.66 L498.13,39.37 L498.31,40.09 L498.48,40.84 L498.66,41.61 L498.83,42.40 L499.01,43.21 L499.18,44.05 L499.36,44.91 L499.54,45.78 L499.71,46.68 L499.89,47.60 L500.06,48.54 L500.24,49.49 L500.41,50.47 L500.59,51.47 L500.77,52.48 L500.94,53.51 L501.12,54.56 L501.29,55.62 L501.47,56.70 L501.64,57.80 L501.82,58.91 L502.00,60.04 L502.17,61.19 L502.35,62.34 L502.52,63.51 L502.70,64.70 L502.87,65.90 L503.05,67.11 L503.23,68.33 L503.40,69.56 L503.58,70.81 L503.75,72.06 L503.93,73.33 L504.10,74.60 L504.28,75.88 L504.45,77.17 L504.63,78.47 L504.81,79.78 L504.98,81.09 L505.16,82.41 L505.33,83.74 L505.51,85.07 L505.68,86.41 L505.86,87.75 L506.04,89.09 L506.21,90.44 L506.39,91.79 L506.56,93.14 L506.74,94.49 L506.91,95.84 L507.09,97.20 L507.27,98.55 L507.44,99.91 L507.62,101.26 L507.79,102.61 L507.97,103.96 L508.14,105.30 L508.32,106.64 L508.50,107.98 L508.67,109.32 L508.85,110.65 L509.02,111.97 L509.20,113.29 L509.37,114.60 L509.55,115.90 L509.72,117.20 L509.90,118.48 L510.08,119.76 L510.25,121.03 L510.43,122.30 L510.60,123.55 L510.78,124.79 L510.95,126.01 L511.13,127.23 L511.31,128.44 L511.48,129.63 L511.66,130.81 L511.83,131.97 L512.01,133.12 L512.18,134.26 L512.36,135.38 L512.54,136.49 L512.71,137.58 L512.89,138.66 L513.06,139.71 L513.24,140.75 L513.41,141.78 L513.59,142.78 L513.76,143.77 L513.94,144.74 L514.12,145.69 L514.29,146.62 L514.47,147.53 L514.64,148.42 L514.82,149.28 L514.99,150.13 L515.17,150.96 L515.35,151.76 L515.52,152.55 L515.70,153.31 L515.87,154.05 L516.05,154.76 L516.22,155.45 L516.40,156.12 L516.58,156.77 L516.75,157.39 L516.93,157.99 L517.10,158.56 L517.28,159.11 L517.45,159.63 L517.63,160.13 L517.81,160.60 L517.98,161.05 L518.16,161.47 L518.33,161.86 L518.51,162.23 L518.68,162.58 L518.86,162.89 L519.03,163.18 L519.21,163.45 L519.39,163.69 L519.56,163.90 L519.74,164.08 L519.91,164.24 L520.09,164.37 L520.26,164.47 L520.44,164.55 L520.62,164.60 L520.79,164.62 L520.97,164.62 L521.14,164.58 L521.32,164.52 L521.49,164.44 L521.67,164.33 L521.85,164.19 L522.02,164.02 L522.20,163.82 L522.37,163.60 L522.55,163.36 L522.72,163.08 L522.90,162.78 L523.08,162.46 L523.25,162.10 L523.43,161.72 L523.60,161.32 L523.78,160.89 L523.95,160.43 L524.13,159.95 L524.30,159.44 L524.48,158.91 L524.66,158.35 L524.83,157.77 L525.01,157.17 L525.18,156.54 L525.36,155.88 L525.53,155.21 L525.71,154.51 L525.89,153.78 L526.06,153.04 L526.24,152.27 L526.41,151.48 L526.59,150.66 L526.76,149.83 L526.94,148.97 L527.12,148.10 L527.29,147.20 L527.47,146.28 L527.64,145.35 L527.82,144.39 L527.99,143.42 L528.17,142.42 L528.35,141.41 L528.52,140.38 L528.70,139.33 L528.87,138.27 L529.05,137.19 L529.22,136.09 L529.40,134.98 L529.58,133.85 L529.75,132.71 L529.93,131.55 L530.10,130.38 L530.28,129.20 L530.45,128.00 L530.63,126.79 L530.80,125.57 L530.98,124.34 L531.16,123.10 L531.33,121.84 L531.51,120.58 L531.68,119.30 L531.86,118.02 L532.03,116.73 L532.21,115.43 L532.39,114.13 L532.56,112.81 L532.74,111.49 L532.91,110.17 L533.09,108.84 L533.26,107.50 L533.44,106.16 L533.62,104.82 L533.79,103.47 L533.97,102.12 L534.14,100.77 L534.32,99.42 L534.49,98.06 L534.67,96.71 L534.85,95.35 L535.02,94.00 L535.20,92.65 L535.37,91.30 L535.55,89.95 L535.72,88.60 L535.90,87.26 L536.07,85.92 L536.25,84.59 L536.43,83.26 L536.60,81.93 L536.78,80.62 L536.95,79.30 L537.13,78.00 L537.30,76.70 L537.48,75.41 L537.66,74.13 L537.83,72.86 L538.01,71.60 L538.18,70.35 L538.36,69.11 L538.53,67.88 L538.71,66.66 L538.89,65.46 L539.06,64.26 L539.24,63.08 L539.41,61.92 L539.59,60.76 L539.76,59.63 L539.94,58.50 L540.12,57.39 L540.29,56.30 L540.47,55.23 L540.64,54.17 L540.82,53.12 L540.99,52.10 L541.17,51.09 L541.34,50.10 L541.52,49.13 L541.70,48.18 L541.87,47.25 L542.05,46.34 L542.22,45.45 L542.40,44.58 L542.57,43.73 L542.75,42.90 L542.93,42.10 L543.10,41.31 L543.28,40.55 L543.45,39.81 L543.63,39.09 L543.80,38.40 L543.98,37.73 L544.16,37.08 L544.33,36.46 L544.51,35.86 L544.68,35.28 L544.86,34.73 L545.03,34.21 L545.21,33.71 L545.38,33.23 L545.56,32.79 L545.74,32.36 L545.91,31.96 L546.09,31.59 L546.26,31.25 L546.44,30.93 L546.61,30.63 L546.79,30.37 L546.97,30.13 L547.14,29.92 L547.32,29.73 L547.49,29.57 L547.67,29.44 L547.84,29.33 L548.02,29.25 L548.20,29.20 L548.37,29.18 L548.55,29.18 L548.72,29.21 L548.90,29.27 L549.07,29.35 L549.25,29.46 L549.43,29.60 L549.60,29.76 L549.78,29.96 L549.95,30.17 L550.13,30.42 L550.30,30.69 L550.48,30.99 L550.65,31.31 L550.83,31.67 L551.01,32.04 L551.18,32.45 L551.36,32.87 L551.53,33.33 L551.71,33.81 L551.88,34.31 L552.06,34.84 L552.24,35.40 L552.41,35.98 L552.59,36.58 L552.76,37.21 L552.94,37.86 L553.11,38.54 L553.29,39.24 L553.47,39.96 L553.64,40.70 L553.82,41.47 L553.99,42.26 L554.17,43.07 L554.34,43.90 L554.52,44.76 L554.70,45.63 L554.87,46.53 L555.05,47.44 L555.22,48.38 L555.40,49.33 L555.57,50.30 L555.75,51.30 L555.92,52.31 L556.10,53.33 L556.28,54.38 L556.45,55.44 L556.63,56.52 L556.80,57.62 L556.98,58.73 L557.15,59.86 L557.33,61.00 L557.51,62.15 L557.68,63.32 L557.86,64.50 L558.03,65.70 L558.21,66.91 L558.38,68.13 L558.56,69.36 L558.74,70.60 L558.91,71.86 L559.09,73.12 L559.26,74.39 L559.44,75.68 L559.61,76.97 L559.79,78.26 L559.97,79.57 L560.14,80.88 L560.32,82.20 L560.49,83.53 L560.67,84.86 L560.84,86.19 L561.02,87.53 L561.20,88.88 L561.37,90.22 L561.55,91.57 L561.72,92.92 L561.90,94.28 L562.07,95.63 L562.25,96.98 L562.42,98.34 L562.60,99.69 L562.78,101.04 L562.95,102.40 L563.13,103.74 L563.30,105.09 L563.48,106.43 L563.65,107.77 L563.83,109.11 L564.01,110.44 L564.18,111.76 L564.36,113.08 L564.53,114.39 L564.71,115.70 L564.88,116.99 L565.06,118.28 L565.24,119.56 L565.41,120.84 L565.59,122.10 L565.76,123.35 L565.94,124.59 L566.11,125.82 L566.29,127.04 L566.47,128.25 L566.64,129.44 L566.82,130.62 L566.99,131.79 L567.17,132.95 L567.34,134.09 L567.52,135.21 L567.69,136.32 L567.87,137.41 L568.05,138.49 L568.22,139.55 L568.40,140.59 L568.57,141.62 L568.75,142.63 L568.92,143.62 L569.10,144.59 L569.28,145.54 L569.45,146.47 L569.63,147.39 L569.80,148.28 L569.98,149.15 L570.15,150.00 L570.33,150.83 L570.51,151.64 L570.68,152.43 L570.86,153.19 L571.03,153.93 L571.21,154.65 L571.38,155.35 L571.56,156.02 L571.74,156.67 L571.91,157.30 L572.09,157.90 L572.26,158.47 L572.44,159.02 L572.61,159.55 L572.79,160.05 L572.96,160.53 L573.14,160.98 L573.32,161.41 L573.49,161.81 L573.67,162.18 L573.84,162.53 L574.02,162.85 L574.19,163.14 L574.37,163.41 L574.55,163.65 L574.72,163.87 L574.90,164.06 L575.07,164.22 L575.25,164.35 L575.42,164.46 L575.60,164.54 L575.78,164.60 L575.95,164.62 L576.13,164.62 L576.30,164.59 L576.48,164.54 L576.65,164.46 L576.83,164.35 L577.00,164.21 L577.18,164.05 L577.36,163.86 L577.53,163.64 L577.71,163.40 L577.88,163.13 L578.06,162.83 L578.23,162.51 L578.41,162.16 L578.59,161.79 L578.76,161.39 L578.94,160.96 L579.11,160.51 L579.29,160.03 L579.46,159.53 L579.64,159.00 L579.82,158.45 L579.99,157.87 L580.17,157.27 L580.34,156.64 L580.52,155.99 L580.69,155.32 L580.87,154.62 L581.05,153.90 L581.22,153.16 L581.40,152.39 L581.57,151.61 L581.75,150.80 L581.92,149.97 L582.10,149.11 L582.27,148.24 L582.45,147.35 L582.63,146.43 L582.80,145.50 L582.98,144.55 L583.15,143.57 L583.33,142.58 L583.50,141.57 L583.68,140.55 L583.86,139.50 L584.03,138.44 L584.21,137.36 L584.38,136.27 L584.56,135.16 L584.73,134.03 L584.91,132.89 L585.09,131.74 L585.26,130.57 L585.44,129.39 L585.61,128.20 L585.79,126.99 L585.96,125.77 L586.14,124.54 L586.32,123.30 L586.49,122.04 L586.67,120.78 L586.84,119.51 L587.02,118.23 L587.19,116.94 L587.37,115.64 L587.55,114.33 L587.72,113.02 L587.90,111.70 L588.07,110.38 L588.25,109.05 L588.42,107.71 L588.60,106.37 L588.77,105.03 L588.95,103.68 L589.13,102.34 L589.30,100.98 L589.48,99.63 L589.65,98.28 L589.83,96.92 L590.00,95.57 L590.18,94.22 L590.36,92.86 L590.53,91.51 L590.71,90.16 L590.88,88.82 L591.06,87.47 L591.23,86.13 L591.41,84.80 L591.59,83.47 L591.76,82.14 L591.94,80.82 L592.11,79.51 L592.29,78.21 L592.46,76.91 L592.64,75.62 L592.82,74.34 L592.99,73.06 L593.17,71.80 L593.34,70.55 L593.52,69.31 L593.69,68.07 L593.87,66.85 L594.04,65.65 L594.22,64.45 L594.40,63.27 L594.57,62.10 L594.75,60.95 L594.92,59.81 L595.10,58.68 L595.27,57.57 L595.45,56.47 L595.63,55.40 L595.80,54.33 L595.98,53.29 L596.15,52.26 L596.33,51.25 L596.50,50.26 L596.68,49.29 L596.86,48.33 L597.03,47.40 L597.21,46.48 L597.38,45.59 L597.56,44.72 L597.73,43.86 L597.91,43.03 L598.09,42.22 L598.26,41.43 L598.44,40.67 L598.61,39.92 L598.79,39.20 L598.96,38.51 L599.14,37.83 L599.31,37.18 L599.49,36.55 L599.67,35.95 L599.84,35.37 L600.02,34.82 L600.19,34.29 L600.37,33.79 L600.54,33.31 L600.72,32.85 L600.90,32.43 L601.07,32.03 L601.25,31.65 L601.42,31.30 L601.60,30.98 L601.77,30.68 L601.95,30.41 L602.13,30.16 L602.30,29.95 L602.48,29.76 L602.65,29.59 L602.83,29.46 L603.00,29.35 L603.18,29.26 L603.36,29.21 L603.53,29.18 L603.71,29.18 L603.88,29.20 L604.06,29.26 L604.23,29.34 L604.41,29.44 L604.58,29.58 L604.76,29.74 L604.94,29.92 L605.11,30.14 L605.29,30.38 L605.46,30.65 L605.64,30.94 L605.81,31.26 L605.99,31.61 L606.17,31.98 L606.34,32.38 L606.52,32.80 L606.69,33.25 L606.87,33.73 L607.04,34.23 L607.22,34.76 L607.40,35.31 L607.57,35.88 L607.75,36.48 L607.92,37.11 L608.10,37.76 L608.27,38.43 L608.45,39.12 L608.62,39.84 L608.80,40.58 L608.98,41.34 L609.15,42.13 L609.33,42.94 L609.50,43.77 L609.68,44.62 L609.85,45.49 L610.03,46.38 L610.21,47.29 L610.38,48.23 L610.56,49.18 L610.73,50.15 L610.91,51.14 L611.08,52.14 L611.26,53.17 L611.44,54.21 L611.61,55.27 L611.79,56.35 L611.96,57.44 L612.14,58.55 L612.31,59.67 L612.49,60.81 L612.67,61.97 L612.84,63.13 L613.02,64.32 L613.19,65.51 L613.37,66.72 L613.54,67.93 L613.72,69.16 L613.89,70.41 L614.07,71.66 L614.25,72.92 L614.42,74.19 L614.60,75.47 L614.77,76.76 L614.95,78.06 L615.12,79.36 L615.30,80.67 L615.48,81.99 L615.65,83.32 L615.83,84.65 L616.00,85.98 L616.18,87.32 L616.35,88.66 L616.53,90.01 L616.71,91.36 L616.88,92.71 L617.06,94.06 L617.23,95.41 L617.41,96.77 L617.58,98.12 L617.76,99.48 L617.94,100.83 L618.11,102.18 L618.29,103.53 L618.46,104.88 L618.64,106.22 L618.81,107.56 L618.99,108.90 L619.16,110.23 L619.34,111.55 L619.52,112.87 L619.69,114.18 L619.87,115.49 L620.04,116.79 L620.22,118.08 L620.39,119.36 L620.57,120.63 L620.75,121.90 L620.92,123.15 L621.10,124.40 L621.27,125.63 L621.45,126.85 L621.62,128.06 L621.80,129.25 L621.98,130.44 L622.15,131.61 L622.33,132.76 L622.50,133.90 L622.68,135.03 L622.85,136.14 L623.03,137.24 L623.21,138.32 L623.38,139.38 L623.56,140.43 L623.73,141.46 L623.91,142.47 L624.08,143.46 L624.26,144.44 L624.43,145.39 L624.61,146.33 L624.79,147.24 L624.96,148.14 L625.14,149.01 L625.31,149.87 L625.49,150.70 L625.66,151.51 L625.84,152.30 L626.02,153.07 L626.19,153.82 L626.37,154.54 L626.54,155.24 L626.72,155.92 L626.89,156.57 L627.07,157.20 L627.25,157.80 L627.42,158.38 L627.60,158.94 L627.77,159.47 L627.95,159.97 L628.12,160.46 L628.30,160.91 L628.48,161.34 L628.65,161.74 L628.83,162.12 L629.00,162.47 L629.18,162.80 L629.35,163.10 L629.53,163.37 L629.71,163.62 L629.88,163.84 L630.06,164.03 L630.23,164.20 L630.41,164.33 L630.58,164.45 L630.76,164.53 L630.93,164.59 L631.11,164.62 L631.29,164.62 L631.46,164.60 L631.64,164.55 L631.81,164.47 L631.99,164.37 L632.16,164.24 L632.34,164.08 L632.52,163.89 L632.69,163.68 L632.87,163.44 L633.04,163.18 L633.22,162.88 L633.39,162.57 L633.57,162.22 L633.75,161.85 L633.92,161.45 L634.10,161.03 L634.27,160.58 L634.45,160.11 L634.62,159.61 L634.80,159.09 L634.98,158.54 L635.15,157.96 L635.33,157.37 L635.50,156.74 L635.68,156.10 L635.85,155.43 L636.03,154.73 L636.20,154.02 L636.38,153.28 L636.56,152.52 L636.73,151.73 L636.91,150.93 L637.08,150.10 L637.26,149.25 L637.43,148.38 L637.61,147.49 L637.79,146.58 L637.96,145.65 L638.14,144.70 L638.31,143.73 L638.49,142.74 L638.66,141.74 L638.84,140.71 L639.02,139.67 L639.19,138.61 L639.37,137.54 L639.54,136.45 L639.72,135.34 L639.89,134.22 L640.07,133.08 L640.25,131.93 L640.42,130.76 L640.60,129.58 L640.77,128.39 L640.95,127.18 L641.12,125.96 L641.30,124.73 L641.47,123.49 L641.65,122.24 L641.83,120.98 L642.00,119.71 L642.18,118.43 L642.35,117.14 L642.53,115.85 L642.70,114.54 L642.88,113.23 L643.06,111.91 L643.23,110.59 L643.41,109.26 L643.58,107.93 L643.76,106.59 L643.93,105.25 L644.11,103.90 L644.29,102.55 L644.46,101.20 L644.64,99.85 L644.81,98.49 L644.99,97.14 L645.16,95.79 L645.34,94.43 L645.51,93.08 L645.69,91.73 L645.87,90.38 L646.04,89.03 L646.22,87.69 L646.39,86.35 L646.57,85.01 L646.74,83.68 L646.92,82.35 L647.10,81.03 L647.27,79.72 L647.45,78.41 L647.62,77.11 L647.80,75.82 L647.97,74.54 L648.15,73.27 L648.33,72.00 L648.50,70.75 L648.68,69.50 L648.85,68.27 L649.03,67.05 L649.20,65.84 L649.38,64.64 L649.56,63.46 L649.73,62.29 L649.91,61.13 L650.08,59.99 L650.26,58.86 L650.43,57.74 L650.61,56.65 L650.78,55.57 L650.96,54.50 L651.14,53.45 L651.31,52.42 L651.49,51.41 L651.66,50.42 L651.84,49.44 L652.01,48.48 L652.19,47.55 L652.37,46.63 L652.54,45.73 L652.72,44.85 L652.89,44.00 L653.07,43.16 L653.24,42.35 L653.42,41.56 L653.60,40.79 L653.77,40.04 L653.95,39.32 L654.12,38.62 L654.30,37.94 L654.47,37.28 L654.65,36.65 L654.83,36.05 L655.00,35.46 L655.18,34.91 L655.35,34.37 L655.53,33.86 L655.70,33.38 L655.88,32.92 L656.06,32.49 L656.23,32.09 L656.41,31.71 L656.58,31.35 L656.76,31.03 L656.93,30.72 L657.11,30.45 L657.28,30.20 L657.46,29.98 L657.64,29.79 L657.81,29.62 L657.99,29.48 L658.16,29.36 L658.34,29.27 L658.51,29.21 L658.69,29.18 L658.87,29.18 L659.04,29.20 L659.22,29.25 L659.39,29.32 L659.57,29.42 L659.74,29.55 L659.92,29.71 L660.10,29.89 L660.27,30.10 L660.45,30.34 L660.62,30.60 L660.80,30.89 L660.97,31.21 L661.15,31.55 L661.33,31.92 L661.50,32.31 L661.68,32.73 L661.85,33.18 L662.03,33.65 L662.20,34.15 L662.38,34.67 L662.55,35.22 L662.73,35.79 L662.91,36.39 L663.08,37.01 L663.26,37.65 L663.43,38.32 L663.61,39.01 L663.78,39.72 L663.96,40.46 L664.14,41.22 L664.31,42.00 L664.49,42.81 L664.66,43.63 L664.84,44.48 L665.01,45.35 L665.19,46.24 L665.37,47.15 L665.54,48.08 L665.72,49.02 L665.89,49.99 L666.07,50.98 L666.24,51.98 L666.42,53.01 L666.60,54.05 L666.77,55.10 L666.95,56.18 L667.12,57.27 L667.30,58.37 L667.47,59.49 L667.65,60.63 L667.82,61.78 L668.00,62.95 L668.18,64.13 L668.35,65.32 L668.53,66.52 L668.70,67.74 L668.88,68.97 L669.05,70.21 L669.23,71.46 L669.41,72.72 L669.58,73.99 L669.76,75.27 L669.93,76.55 L670.11,77.85 L670.28,79.15 L670.46,80.46 L670.64,81.78 L670.81,83.10 L670.99,84.43 L671.16,85.77 L671.34,87.11 L671.51,88.45 L671.69,89.79 L671.87,91.14 L672.04,92.49 L672.22,93.84 L672.39,95.20 L672.57,96.55 L672.74,97.91 L672.92,99.26 L673.09,100.61 L673.27,101.97 L673.45,103.32 L673.62,104.66 L673.80,106.01 L673.97,107.35 L674.15,108.68 L674.32,110.01 L674.50,111.34"/></g>
<g clip-path="url(#cBR)"><path class="blue2" d="M411.10,331.93 L411.98,427.82 L412.20,379.87 L414.48,361.13 L414.52,360.84 L414.57,360.55 L414.61,360.26 L414.65,359.96 L414.70,359.66 L414.74,359.36 L414.78,359.05 L414.83,358.75 L414.87,358.44 L414.92,358.13 L414.96,357.82 L415.00,357.50 L415.05,357.19 L415.09,356.87 L415.14,356.55 L415.18,356.23 L415.22,355.90 L415.27,355.58 L415.31,355.25 L415.36,354.92 L415.40,354.59 L415.44,354.26 L415.49,353.93 L415.53,353.59 L415.57,353.26 L415.62,352.92 L415.66,352.58 L415.71,352.24 L415.75,351.90 L415.79,351.55 L415.84,351.21 L415.88,350.86 L415.93,350.52 L415.97,350.17 L416.01,349.82 L416.06,349.47 L416.10,349.12 L416.14,348.77 L416.19,348.41 L416.23,348.06 L416.28,347.70 L416.32,347.35 L416.36,346.99 L416.41,346.63 L416.45,346.28 L416.50,345.92 L416.54,345.56 L416.58,345.20 L416.63,344.84 L416.67,344.48 L416.71,344.12 L416.76,343.76 L416.80,343.39 L416.85,343.03 L416.89,342.67 L416.93,342.30 L416.98,341.94 L417.02,341.58 L417.07,341.21 L417.11,340.85 L417.15,340.48 L417.20,340.12 L417.24,339.75 L417.29,339.39 L417.33,339.02 L417.37,338.66 L417.42,338.29 L417.46,337.93 L417.50,337.57 L417.55,337.20 L417.59,336.84 L417.64,336.47 L417.68,336.11 L417.72,335.74 L417.77,335.38 L417.81,335.01 L417.86,334.65 L417.90,334.29 L417.94,333.93 L417.99,333.56 L418.03,333.20 L418.07,332.84 L418.12,332.48 L418.16,332.12 L418.21,331.76 L418.25,331.40 L418.29,331.04 L418.34,330.68 L418.38,330.32 L418.43,329.96 L418.47,329.61 L418.51,329.25 L418.56,328.90 L418.60,328.54 L418.65,328.19 L418.69,327.83 L418.73,327.48 L418.78,327.13 L418.82,326.78 L418.86,326.43 L418.91,326.08 L418.95,325.73 L419.00,325.38 L419.04,325.04 L419.08,324.69 L419.13,324.35 L419.17,324.00 L419.22,323.66 L419.26,323.32 L419.30,322.98 L419.35,322.64 L419.39,322.30 L419.43,321.96 L419.48,321.62 L419.52,321.29 L419.57,320.95 L419.61,320.62 L419.65,320.29 L419.70,319.96 L419.74,319.63 L419.79,319.30 L419.83,318.97 L419.87,318.65 L420.05,317.35 L420.22,316.08 L420.40,314.84 L420.58,313.61 L420.75,312.41 L420.93,311.23 L421.10,310.08 L421.28,308.96 L421.45,307.86 L421.63,306.78 L421.80,305.74 L421.98,304.72 L422.15,303.73 L422.33,302.77 L422.51,301.84 L422.68,300.94 L422.86,300.07 L423.03,299.23 L423.21,298.42 L423.38,297.64 L423.56,296.89 L423.73,296.18 L423.91,295.49 L424.08,294.83 L424.26,294.21 L424.44,293.62 L424.61,293.06 L424.79,292.53 L424.96,292.03 L425.14,291.57 L425.31,291.13 L425.49,290.73 L425.66,290.35 L425.84,290.01 L426.01,289.70 L426.19,289.42 L426.37,289.17 L426.54,288.95 L426.72,288.77 L426.89,288.61 L427.07,288.48 L427.24,288.38 L427.42,288.31 L427.59,288.27 L427.77,288.26 L427.94,288.27 L428.12,288.32 L428.30,288.39 L428.47,288.49 L428.65,288.61 L428.82,288.77 L429.00,288.95 L429.17,289.15 L429.35,289.38 L429.52,289.64 L429.70,289.92 L429.87,290.23 L430.05,290.56 L430.23,290.91 L430.40,291.29 L430.58,291.69 L430.75,292.12 L430.93,292.56 L431.10,293.03 L431.28,293.52 L431.45,294.03 L431.63,294.56 L431.81,295.11 L431.98,295.68 L432.16,296.27 L432.33,296.87 L432.51,297.50 L432.68,298.14 L432.86,298.80 L433.03,299.48 L433.21,300.17 L433.38,300.88 L433.56,301.61 L433.74,302.34 L433.91,303.10 L434.09,303.87 L434.26,304.65 L434.44,305.44 L434.61,306.25 L434.79,307.07 L434.96,307.90 L435.14,308.74 L435.31,309.59 L435.49,310.45 L435.67,311.32 L435.84,312.20 L436.02,313.09 L436.19,313.99 L436.37,314.90 L436.54,315.81 L436.72,316.73 L436.89,317.65 L437.07,318.58 L437.24,319.52 L437.42,320.46 L437.60,321.41 L437.77,322.36 L437.95,323.31 L438.12,324.27 L438.30,325.23 L438.47,326.19 L438.65,327.15 L438.82,328.12 L439.00,329.08 L439.17,330.05 L439.35,331.01 L439.53,331.97 L439.70,332.94 L439.88,333.90 L440.05,334.86 L440.23,335.82 L440.40,336.77 L440.58,337.72 L440.75,338.67 L440.93,339.62 L441.10,340.56 L441.28,341.49 L441.46,342.42 L441.63,343.34 L441.81,344.26 L441.98,345.17 L442.16,346.08 L442.33,346.98 L442.51,347.87 L442.68,348.75 L442.86,349.62 L443.03,350.49 L443.21,351.34 L443.39,352.19 L443.56,353.03 L443.74,353.85 L443.91,354.67 L444.09,355.48 L444.26,356.27 L444.44,357.05 L444.61,357.83 L444.79,358.59 L444.97,359.33 L445.14,360.07 L445.32,360.79 L445.49,361.50 L445.67,362.20 L445.84,362.88 L446.02,363.55 L446.19,364.20 L446.37,364.84 L446.54,365.46 L446.72,366.07 L446.90,366.67 L447.07,367.25 L447.25,367.81 L447.42,368.36 L447.60,368.89 L447.77,369.41 L447.95,369.91 L448.12,370.39 L448.30,370.86 L448.47,371.30 L448.65,371.74 L448.83,372.15 L449.00,372.55 L449.18,372.93 L449.35,373.29 L449.53,373.63 L449.70,373.96 L449.88,374.27 L450.05,374.56 L450.23,374.83 L450.40,375.08 L450.58,375.32 L450.76,375.54 L450.93,375.73 L451.11,375.91 L451.28,376.07 L451.46,376.22 L451.63,376.34 L451.81,376.44 L451.98,376.53 L452.16,376.60 L452.33,376.65 L452.51,376.68 L452.69,376.69 L452.86,376.68 L453.04,376.65 L453.21,376.61 L453.39,376.54 L453.56,376.46 L453.74,376.36 L453.91,376.24 L454.09,376.10 L454.26,375.94 L454.44,375.77 L454.62,375.58 L454.79,375.37 L454.97,375.14 L455.14,374.89 L455.32,374.62 L455.49,374.34 L455.67,374.04 L455.84,373.72 L456.02,373.39 L456.19,373.04 L456.37,372.67 L456.55,372.28 L456.72,371.88 L456.90,371.46 L457.07,371.03 L457.25,370.58 L457.42,370.11 L457.60,369.63 L457.77,369.13 L457.95,368.62 L458.13,368.09 L458.30,367.55 L458.48,366.99 L458.65,366.42 L458.83,365.83 L459.00,365.23 L459.18,364.62 L459.35,363.99 L459.53,363.35 L459.70,362.70 L459.88,362.04 L460.06,361.36 L460.23,360.67 L460.41,359.97 L460.58,359.26 L460.76,358.53 L460.93,357.80 L461.11,357.05 L461.28,356.30 L461.46,355.54 L461.63,354.76 L461.81,353.98 L461.99,353.19 L462.16,352.38 L462.34,351.58 L462.51,350.76 L462.69,349.93 L462.86,349.10 L463.04,348.26 L463.21,347.42 L463.39,346.57 L463.56,345.71 L463.74,344.85 L463.92,343.98 L464.09,343.11 L464.27,342.23 L464.44,341.35 L464.62,340.46 L464.79,339.57 L464.97,338.68 L465.14,337.79 L465.32,336.89 L465.49,335.99 L465.67,335.09 L465.85,334.19 L466.02,333.29 L466.20,332.38 L466.37,331.48 L466.55,330.58 L466.72,329.68 L466.90,328.77 L467.07,327.88 L467.25,326.98 L467.42,326.08 L467.60,325.19 L467.78,324.30 L467.95,323.41 L468.13,322.52 L468.30,321.64 L468.48,320.77 L468.65,319.90 L468.83,319.03 L469.00,318.17 L469.18,317.31 L469.35,316.46 L469.53,315.62 L469.71,314.78 L469.88,313.95 L470.06,313.13 L470.23,312.31 L470.41,311.51 L470.58,310.71 L470.76,309.92 L470.93,309.14 L471.11,308.36 L471.29,307.60 L471.46,306.85 L471.64,306.10 L471.81,305.37 L471.99,304.65 L472.16,303.94 L472.34,303.24 L472.51,302.55 L472.69,301.88 L472.86,301.21 L473.04,300.56 L473.22,299.92 L473.39,299.30 L473.57,298.69 L473.74,298.09 L473.92,297.50 L474.09,296.93 L474.27,296.37 L474.44,295.83 L474.62,295.30 L474.79,294.79 L474.97,294.29 L475.15,293.80 L475.32,293.33 L475.50,292.88 L475.67,292.44 L475.85,292.02 L476.02,291.62 L476.20,291.23 L476.37,290.85 L476.55,290.50 L476.72,290.16 L476.90,289.84 L477.08,289.53 L477.25,289.24 L477.43,288.97 L477.60,288.71 L477.78,288.48 L477.95,288.26 L478.13,288.05 L478.30,287.87 L478.48,287.70 L478.65,287.55 L478.83,287.42 L479.01,287.31 L479.18,287.21 L479.36,287.14 L479.53,287.08 L479.71,287.04 L479.88,287.01 L480.06,287.01 L480.23,287.02 L480.41,287.05 L480.58,287.10 L480.76,287.16 L480.94,287.25 L481.11,287.35 L481.29,287.47 L481.46,287.61 L481.64,287.77 L481.81,287.94 L481.99,288.13 L482.16,288.34 L482.34,288.57 L482.51,288.81 L482.69,289.07 L482.87,289.35 L483.04,289.64 L483.22,289.96 L483.39,290.29 L483.57,290.63 L483.74,290.99 L483.92,291.37 L484.09,291.77 L484.27,292.18 L484.45,292.61 L484.62,293.05 L484.80,293.51 L484.97,293.98 L485.15,294.47 L485.32,294.97 L485.50,295.49 L485.67,296.03 L485.85,296.57 L486.02,297.13 L486.20,297.71 L486.38,298.30 L486.55,298.90 L486.73,299.52 L486.90,300.15 L487.08,300.79 L487.25,301.45 L487.43,302.11 L487.60,302.79 L487.78,303.48 L487.95,304.18 L488.13,304.90 L488.31,305.62 L488.48,306.35 L488.66,307.10 L488.83,307.85 L489.01,308.62 L489.18,309.39 L489.36,310.17 L489.53,310.96 L489.71,311.76 L489.88,312.57 L490.06,313.38 L490.24,314.21 L490.41,315.04 L490.59,315.87 L490.76,316.72 L490.94,317.57 L491.11,318.42 L491.29,319.28 L491.46,320.15 L491.64,321.02 L491.81,321.89 L491.99,322.77 L492.17,323.65 L492.34,324.54 L492.52,325.42 L492.69,326.31 L492.87,327.21 L493.04,328.10 L493.22,329.00 L493.39,329.90 L493.57,330.80 L493.74,331.69 L493.92,332.59 L494.10,333.49 L494.27,334.39 L494.45,335.29 L494.62,336.18 L494.80,337.08 L494.97,337.97 L495.15,338.86 L495.32,339.75 L495.50,340.63 L495.67,341.51 L495.85,342.39 L496.03,343.26 L496.20,344.13 L496.38,344.99 L496.55,345.85 L496.73,346.70 L496.90,347.55 L497.08,348.39 L497.25,349.22 L497.43,350.05 L497.61,350.87 L497.78,351.68 L497.96,352.48 L498.13,353.28 L498.31,354.06 L498.48,354.84 L498.66,355.61 L498.83,356.37 L499.01,357.12 L499.18,357.86 L499.36,358.59 L499.54,359.31 L499.71,360.01 L499.89,360.71 L500.06,361.39 L500.24,362.07 L500.41,362.73 L500.59,363.38 L500.76,364.01 L500.94,364.64 L501.11,365.25 L501.29,365.84 L501.47,366.43 L501.64,367.00 L501.82,367.55 L501.99,368.09 L502.17,368.62 L502.34,369.13 L502.52,369.63 L502.69,370.11 L502.87,370.58 L503.04,371.03 L503.22,371.46 L503.40,371.88 L503.57,372.29 L503.75,372.67 L503.92,373.05 L504.10,373.40 L504.27,373.74 L504.45,374.06 L504.62,374.36 L504.80,374.65 L504.97,374.92 L505.15,375.18 L505.33,375.41 L505.50,375.63 L505.68,375.83 L505.85,376.02 L506.03,376.18 L506.20,376.33 L506.38,376.46 L506.55,376.57 L506.73,376.67 L506.90,376.75 L507.08,376.80 L507.26,376.85 L507.43,376.87 L507.61,376.87 L507.78,376.86 L507.96,376.83 L508.13,376.78 L508.31,376.72 L508.48,376.63 L508.66,376.53 L508.83,376.41 L509.01,376.27 L509.19,376.11 L509.36,375.94 L509.54,375.75 L509.71,375.54 L509.89,375.31 L510.06,375.07 L510.24,374.81 L510.41,374.53 L510.59,374.24 L510.77,373.92 L510.94,373.60 L511.12,373.25 L511.29,372.89 L511.47,372.51 L511.64,372.12 L511.82,371.71 L511.99,371.28 L512.17,370.84 L512.34,370.38 L512.52,369.91 L512.70,369.42 L512.87,368.91 L513.05,368.40 L513.22,367.86 L513.40,367.32 L513.57,366.75 L513.75,366.18 L513.92,365.59 L514.10,364.99 L514.27,364.37 L514.45,363.74 L514.63,363.10 L514.80,362.45 L514.98,361.78 L515.15,361.11 L515.33,360.42 L515.50,359.71 L515.68,359.00 L515.85,358.28 L516.03,357.55 L516.20,356.80 L516.38,356.05 L516.56,355.29 L516.73,354.51 L516.91,353.73 L517.08,352.94 L517.26,352.14 L517.43,351.33 L517.61,350.52 L517.78,349.70 L517.96,348.87 L518.13,348.03 L518.31,347.19 L518.49,346.34 L518.66,345.49 L518.84,344.63 L519.01,343.76 L519.19,342.89 L519.36,342.02 L519.54,341.14 L519.71,340.26 L519.89,339.37 L520.06,338.49 L520.24,337.60 L520.42,336.70 L520.59,335.81 L520.77,334.91 L520.94,334.01 L521.12,333.12 L521.29,332.22 L521.47,331.32 L521.64,330.42 L521.82,329.52 L521.99,328.62 L522.17,327.73 L522.35,326.83 L522.52,325.94 L522.70,325.05 L522.87,324.17 L523.05,323.28 L523.22,322.40 L523.40,321.53 L523.57,320.65 L523.75,319.79 L523.93,318.92 L524.10,318.06 L524.28,317.21 L524.45,316.37 L524.63,315.53 L524.80,314.69 L524.98,313.87 L525.15,313.05 L525.33,312.23 L525.50,311.43 L525.68,310.63 L525.86,309.85 L526.03,309.07 L526.21,308.30 L526.38,307.54 L526.56,306.79 L526.73,306.05 L526.91,305.32 L527.08,304.60 L527.26,303.89 L527.43,303.19 L527.61,302.51 L527.79,301.84 L527.96,301.17 L528.14,300.52 L528.31,299.89 L528.49,299.26 L528.66,298.65 L528.84,298.06 L529.01,297.47 L529.19,296.90 L529.36,296.34 L529.54,295.80 L529.72,295.28 L529.89,294.76 L530.07,294.26 L530.24,293.78 L530.42,293.31 L530.59,292.86 L530.77,292.42 L530.94,292.00 L531.12,291.60 L531.29,291.21 L531.47,290.84 L531.65,290.48 L531.82,290.14 L532.00,289.82 L532.17,289.51 L532.35,289.22 L532.52,288.95 L532.70,288.70 L532.87,288.46 L533.05,288.24 L533.22,288.04 L533.40,287.85 L533.58,287.69 L533.75,287.54 L533.93,287.41 L534.10,287.29 L534.28,287.19 L534.45,287.12 L534.63,287.06 L534.80,287.01 L534.98,286.99 L535.15,286.98 L535.33,286.99 L535.51,287.02 L535.68,287.07 L535.86,287.14 L536.03,287.22 L536.21,287.32 L536.38,287.44 L536.56,287.58 L536.73,287.73 L536.91,287.90 L537.09,288.09 L537.26,288.30 L537.44,288.53 L537.61,288.77 L537.79,289.03 L537.96,289.30 L538.14,289.60 L538.31,289.91 L538.49,290.24 L538.66,290.58 L538.84,290.94 L539.02,291.32 L539.19,291.71 L539.37,292.12 L539.54,292.55 L539.72,292.99 L539.89,293.44 L540.07,293.92 L540.24,294.40 L540.42,294.91 L540.59,295.42 L540.77,295.95 L540.95,296.50 L541.12,297.06 L541.30,297.63 L541.47,298.22 L541.65,298.82 L541.82,299.44 L542.00,300.07 L542.17,300.71 L542.35,301.36 L542.52,302.02 L542.70,302.70 L542.88,303.39 L543.05,304.09 L543.23,304.80 L543.40,305.52 L543.58,306.26 L543.75,307.00 L543.93,307.75 L544.10,308.51 L544.28,309.29 L544.45,310.07 L544.63,310.86 L544.81,311.66 L544.98,312.46 L545.16,313.28 L545.33,314.10 L545.51,314.93 L545.68,315.76 L545.86,316.60 L546.03,317.45 L546.21,318.31 L546.38,319.16 L546.56,320.03 L546.74,320.90 L546.91,321.77 L547.09,322.65 L547.26,323.53 L547.44,324.42 L547.61,325.30 L547.79,326.19 L547.96,327.09 L548.14,327.98 L548.31,328.88 L548.49,329.77 L548.67,330.67 L548.84,331.57 L549.02,332.47 L549.19,333.37 L549.37,334.27 L549.54,335.16 L549.72,336.06 L549.89,336.96 L550.07,337.85 L550.25,338.74 L550.42,339.62 L550.60,340.51 L550.77,341.39 L550.95,342.27 L551.12,343.14 L551.30,344.01 L551.47,344.87 L551.65,345.73 L551.82,346.58 L552.00,347.43 L552.18,348.27 L552.35,349.10 L552.53,349.93 L552.70,350.75 L552.88,351.56 L553.05,352.37 L553.23,353.16 L553.40,353.95 L553.58,354.73 L553.75,355.50 L553.93,356.26 L554.11,357.01 L554.28,357.75 L554.46,358.48 L554.63,359.20 L554.81,359.91 L554.98,360.61 L555.16,361.30 L555.33,361.97 L555.51,362.63 L555.68,363.29 L555.86,363.92 L556.04,364.55 L556.21,365.16 L556.39,365.76 L556.56,366.34 L556.74,366.91 L556.91,367.47 L557.09,368.02 L557.26,368.54 L557.44,369.06 L557.61,369.56 L557.79,370.04 L557.97,370.51 L558.14,370.96 L558.32,371.40 L558.49,371.82 L558.67,372.23 L558.84,372.62 L559.02,372.99 L559.19,373.35 L559.37,373.69 L559.54,374.02 L559.72,374.32 L559.90,374.61 L560.07,374.89 L560.25,375.14 L560.42,375.38 L560.60,375.60 L560.77,375.81 L560.95,375.99 L561.12,376.16 L561.30,376.31 L561.47,376.45 L561.65,376.56 L561.83,376.66 L562.00,376.74 L562.18,376.80 L562.35,376.84 L562.53,376.87 L562.70,376.88 L562.88,376.87 L563.05,376.84 L563.23,376.79 L563.41,376.73 L563.58,376.65 L563.76,376.55 L563.93,376.43 L564.11,376.29 L564.28,376.14 L564.46,375.97 L564.63,375.78 L564.81,375.58 L564.98,375.35 L565.16,375.11 L565.34,374.85 L565.51,374.58 L565.69,374.29 L565.86,373.98 L566.04,373.65 L566.21,373.31 L566.39,372.95 L566.56,372.57 L566.74,372.18 L566.91,371.77 L567.09,371.35 L567.27,370.91 L567.44,370.45 L567.62,369.98 L567.79,369.50 L567.97,369.00 L568.14,368.48 L568.32,367.95 L568.49,367.40 L568.67,366.84 L568.84,366.27 L569.02,365.68 L569.20,365.08 L569.37,364.47 L569.55,363.84 L569.72,363.21 L569.90,362.55 L570.07,361.89 L570.25,361.21 L570.42,360.53 L570.60,359.83 L570.77,359.12 L570.95,358.39 L571.13,357.66 L571.30,356.92 L571.48,356.17 L571.65,355.41 L571.83,354.64 L572.00,353.85 L572.18,353.07 L572.35,352.27 L572.53,351.46 L572.70,350.65 L572.88,349.83 L573.06,349.00 L573.23,348.17 L573.41,347.32 L573.58,346.48 L573.76,345.62 L573.93,344.76 L574.11,343.90 L574.28,343.03 L574.46,342.16 L574.63,341.28 L574.81,340.40 L574.99,339.51 L575.16,338.63 L575.34,337.74 L575.51,336.84 L575.69,335.95 L575.86,335.05 L576.04,334.16 L576.21,333.26 L576.39,332.36 L576.57,331.46 L576.74,330.56 L576.92,329.66 L577.09,328.77 L577.27,327.87 L577.44,326.98 L577.62,326.08 L577.79,325.19 L577.97,324.31 L578.14,323.42 L578.32,322.54 L578.50,321.66 L578.67,320.79 L578.85,319.92 L579.02,319.06 L579.20,318.20 L579.37,317.35 L579.55,316.50 L579.72,315.66 L579.90,314.82 L580.07,314.00 L580.25,313.17 L580.43,312.36 L580.60,311.56 L580.78,310.76 L580.95,309.97 L581.13,309.19 L581.30,308.42 L581.48,307.66 L581.65,306.91 L581.83,306.16 L582.00,305.43 L582.18,304.71 L582.36,304.00 L582.53,303.30 L582.71,302.62 L582.88,301.94 L583.06,301.28 L583.23,300.63 L583.41,299.99 L583.58,299.36 L583.76,298.75 L583.93,298.15 L584.11,297.56 L584.29,296.99 L584.46,296.43 L584.64,295.89 L584.81,295.36 L584.99,294.84 L585.16,294.34 L585.34,293.86 L585.51,293.39 L585.69,292.93 L585.86,292.49 L586.04,292.07 L586.22,291.66 L586.39,291.27 L586.57,290.90 L586.74,290.54 L586.92,290.19 L587.09,289.87 L587.27,289.56 L587.44,289.27 L587.62,288.99 L587.79,288.74 L587.97,288.50 L588.15,288.27 L588.32,288.07 L588.50,287.88 L588.67,287.71 L588.85,287.56 L589.02,287.42 L589.20,287.31 L589.37,287.21 L589.55,287.13 L589.73,287.06 L589.90,287.02 L590.08,286.99 L590.25,286.98 L590.43,286.99 L590.60,287.02 L590.78,287.06 L590.95,287.12 L591.13,287.21 L591.30,287.30 L591.48,287.42 L591.66,287.55 L591.83,287.71 L592.01,287.88 L592.18,288.06 L592.36,288.27 L592.53,288.49 L592.71,288.73 L592.88,288.99 L593.06,289.26 L593.23,289.55 L593.41,289.86 L593.59,290.18 L593.76,290.52 L593.94,290.88 L594.11,291.26 L594.29,291.65 L594.46,292.05 L594.64,292.48 L594.81,292.92 L594.99,293.37 L595.16,293.84 L595.34,294.32 L595.52,294.82 L595.69,295.34 L595.87,295.87 L596.04,296.41 L596.22,296.97 L596.39,297.54 L596.57,298.13 L596.74,298.73 L596.92,299.34 L597.09,299.97 L597.27,300.60 L597.45,301.25 L597.62,301.92 L597.80,302.59 L597.97,303.28 L598.15,303.98 L598.32,304.69 L598.50,305.41 L598.67,306.14 L598.85,306.88 L599.02,307.63 L599.20,308.39 L599.38,309.16 L599.55,309.94 L599.73,310.73 L599.90,311.53 L600.08,312.33 L600.25,313.15 L600.43,313.97 L600.60,314.79 L600.78,315.63 L600.95,316.47 L601.13,317.32 L601.31,318.17 L601.48,319.03 L601.66,319.89 L601.83,320.76 L602.01,321.63 L602.18,322.51 L602.36,323.39 L602.53,324.27 L602.71,325.16 L602.89,326.05 L603.06,326.94 L603.24,327.84 L603.41,328.73 L603.59,329.63 L603.76,330.53 L603.94,331.43 L604.11,332.33 L604.29,333.23 L604.46,334.12 L604.64,335.02 L604.82,335.92 L604.99,336.81 L605.17,337.71 L605.34,338.60 L605.52,339.48 L605.69,340.37 L605.87,341.25 L606.04,342.13 L606.22,343.00 L606.39,343.87 L606.57,344.73 L606.75,345.59 L606.92,346.45 L607.10,347.29 L607.27,348.14 L607.45,348.97 L607.62,349.80 L607.80,350.62 L607.97,351.43 L608.15,352.24 L608.32,353.04 L608.50,353.83 L608.68,354.61 L608.85,355.38 L609.03,356.14 L609.20,356.89 L609.38,357.64 L609.55,358.37 L609.73,359.09 L609.90,359.80 L610.08,360.50 L610.25,361.19 L610.43,361.87 L610.61,362.53 L610.78,363.18 L610.96,363.82 L611.13,364.45 L611.31,365.06 L611.48,365.66 L611.66,366.25 L611.83,366.82 L612.01,367.38 L612.18,367.93 L612.36,368.46 L612.54,368.98 L612.71,369.48 L612.89,369.97 L613.06,370.44 L613.24,370.89 L613.41,371.33 L613.59,371.76 L613.76,372.17 L613.94,372.56 L614.11,372.94 L614.29,373.30 L614.47,373.64 L614.64,373.97 L614.82,374.28 L614.99,374.57 L615.17,374.84 L615.34,375.10 L615.52,375.34 L615.69,375.57 L615.87,375.77 L616.05,375.96 L616.22,376.14 L616.40,376.29 L616.57,376.43 L616.75,376.54 L616.92,376.64 L617.10,376.73 L617.27,376.79 L617.45,376.84 L617.62,376.87 L617.80,376.88 L617.98,376.87 L618.15,376.84 L618.33,376.80 L618.50,376.74 L618.68,376.66 L618.85,376.56 L619.03,376.45 L619.20,376.32 L619.38,376.17 L619.55,376.00 L619.73,375.81 L619.91,375.61 L620.08,375.39 L620.26,375.15 L620.43,374.90 L620.61,374.62 L620.78,374.33 L620.96,374.03 L621.13,373.70 L621.31,373.36 L621.48,373.01 L621.66,372.63 L621.84,372.24 L622.01,371.84 L622.19,371.42 L622.36,370.98 L622.54,370.53 L622.71,370.06 L622.89,369.57 L623.06,369.08 L623.24,368.56 L623.41,368.03 L623.59,367.49 L623.77,366.93 L623.94,366.36 L624.12,365.78 L624.29,365.18 L624.47,364.57 L624.64,363.95 L624.82,363.31 L624.99,362.66 L625.17,362.00 L625.34,361.32 L625.52,360.64 L625.70,359.94 L625.87,359.23 L626.05,358.51 L626.22,357.78 L626.40,357.04 L626.57,356.29 L626.75,355.53 L626.92,354.76 L627.10,353.98 L627.27,353.19 L627.45,352.40 L627.63,351.59 L627.80,350.78 L627.98,349.96 L628.15,349.13 L628.33,348.30 L628.50,347.46 L628.68,346.61 L628.85,345.76 L629.03,344.90 L629.21,344.04 L629.38,343.17 L629.56,342.30 L629.73,341.42 L629.91,340.54 L630.08,339.66 L630.26,338.77 L630.43,337.88 L630.61,336.99 L630.78,336.09 L630.96,335.20 L631.14,334.30 L631.31,333.40 L631.49,332.50 L631.66,331.60 L631.84,330.70 L632.01,329.81 L632.19,328.91 L632.36,328.01 L632.54,327.12 L632.71,326.23 L632.89,325.33 L633.07,324.45 L633.24,323.56 L633.42,322.68 L633.59,321.80 L633.77,320.93 L633.94,320.06 L634.12,319.20 L634.29,318.34 L634.47,317.48 L634.64,316.63 L634.82,315.79 L635.00,314.96 L635.17,314.13 L635.35,313.30 L635.52,312.49 L635.70,311.68 L635.87,310.89 L636.05,310.10 L636.22,309.31 L636.40,308.54 L636.57,307.78 L636.75,307.03 L636.93,306.28 L637.10,305.55 L637.28,304.83 L637.45,304.11 L637.63,303.41 L637.80,302.73 L637.98,302.05 L638.15,301.38 L638.33,300.73 L638.50,300.09 L638.68,299.46 L638.86,298.85 L639.03,298.24 L639.21,297.65 L639.38,297.08 L639.56,296.52 L639.73,295.97 L639.91,295.44 L640.08,294.92 L640.26,294.42 L640.43,293.93 L640.61,293.46 L640.79,293.00 L640.96,292.56 L641.14,292.14 L641.31,291.73 L641.49,291.33 L641.66,290.95 L641.84,290.59 L642.01,290.25 L642.19,289.92 L642.37,289.61 L642.54,289.31 L642.72,289.04 L642.89,288.78 L643.07,288.53 L643.24,288.31 L643.42,288.10 L643.59,287.91 L643.77,287.74 L643.94,287.58 L644.12,287.44 L644.30,287.33 L644.47,287.22 L644.65,287.14 L644.82,287.07 L645.00,287.03 L645.17,286.99 L645.35,286.98 L645.52,286.99 L645.70,287.01 L645.87,287.05 L646.05,287.11 L646.23,287.19 L646.40,287.29 L646.58,287.40 L646.75,287.53 L646.93,287.68 L647.10,287.85 L647.28,288.03 L647.45,288.23 L647.63,288.45 L647.80,288.69 L647.98,288.94 L648.16,289.21 L648.33,289.50 L648.51,289.81 L648.68,290.13 L648.86,290.47 L649.03,290.82 L649.21,291.20 L649.38,291.58 L649.56,291.99 L649.73,292.41 L649.91,292.84 L650.09,293.30 L650.26,293.76 L650.44,294.25 L650.61,294.74 L650.79,295.26 L650.96,295.78 L651.14,296.32 L651.31,296.88 L651.49,297.45 L651.66,298.03 L651.84,298.63 L652.02,299.24 L652.19,299.86 L652.37,300.50 L652.54,301.15 L652.72,301.81 L652.89,302.48 L653.07,303.17 L653.24,303.87 L653.42,304.57 L653.59,305.29 L653.77,306.02 L653.95,306.76 L654.12,307.51 L654.30,308.27 L654.47,309.04 L654.65,309.82 L654.82,310.60 L655.00,311.40 L655.17,312.20 L655.35,313.02 L655.53,313.84 L655.70,314.66 L655.88,315.49 L656.05,316.33 L656.23,317.18 L656.40,318.03 L656.58,318.89 L656.75,319.75 L656.93,320.62 L657.10,321.49 L657.28,322.37 L657.46,323.25 L657.63,324.13 L657.81,325.02 L657.98,325.91 L658.16,326.80 L658.33,327.70 L658.51,328.59 L658.68,329.49 L658.86,330.39 L659.03,331.29 L659.21,332.18 L659.39,333.08 L659.56,333.98 L659.74,334.88 L659.91,335.78 L660.09,336.67 L660.26,337.56 L660.44,338.45 L660.61,339.34 L660.79,340.23 L660.96,341.11 L661.14,341.99 L661.32,342.86 L661.49,343.73 L661.67,344.60 L661.84,345.46 L662.02,346.31 L662.19,347.16 L662.37,348.00 L662.54,348.84 L662.72,349.67 L662.89,350.49 L663.07,351.31 L663.25,352.11 L663.42,352.91 L663.60,353.70 L663.77,354.48 L663.95,355.26 L664.12,356.02 L664.30,356.77 L664.47,357.52 L664.65,358.25 L664.82,358.98 L665.00,359.69 L665.18,360.39 L665.35,361.08 L665.53,361.76 L665.70,362.43 L665.88,363.08 L666.05,363.72 L666.23,364.35 L666.40,364.97 L666.58,365.57 L666.75,366.16 L666.93,366.73 L667.11,367.30 L667.28,367.84 L667.46,368.38 L667.63,368.90 L667.81,369.40 L667.98,369.89 L668.16,370.36 L668.33,370.82 L668.51,371.26 L668.69,371.69 L668.86,372.10 L669.04,372.50 L669.21,372.88 L669.39,373.24 L669.56,373.59 L669.74,373.91 L669.91,374.23 L670.09,374.52 L670.26,374.80 L670.44,375.06 L670.62,375.31 L670.79,375.53 L670.97,375.74 L671.14,375.94 L671.32,376.11 L671.49,376.27 L671.67,376.40 L671.84,376.53 L672.02,376.63 L672.19,376.71 L672.37,376.78 L672.55,376.83 L672.72,376.86 L672.90,376.88 L673.07,376.87 L673.25,376.85 L673.42,376.81 L673.60,376.75 L673.77,376.68 L673.95,376.58 L674.12,376.47 L674.30,376.34"/></g>
<text class="tl" x="57.30" y="213.6" text-anchor="middle">0</text>
<text class="tl" x="145.60" y="213.6" text-anchor="middle">20</text>
<text class="tl" x="233.90" y="213.6" text-anchor="middle">40</text>
<text class="tl" x="323.20" y="213.6" text-anchor="middle">60</text>
<text class="tl" x="409.50" y="213.6" text-anchor="middle">0</text>
<text class="tl" x="497.33" y="213.6" text-anchor="middle">20</text>
<text class="tl" x="585.17" y="213.6" text-anchor="middle">40</text>
<text class="tl" x="672.50" y="213.6" text-anchor="middle">60</text>
<text class="tl" x="57.40" y="479.3" text-anchor="middle">0</text>
<text class="tl" x="145.70" y="479.3" text-anchor="middle">20</text>
<text class="tl" x="234.00" y="479.3" text-anchor="middle">40</text>
<text class="tl" x="323.30" y="479.3" text-anchor="middle">60</text>
<text class="tl" x="409.60" y="479.3" text-anchor="middle">0</text>
<text class="tl" x="497.33" y="479.3" text-anchor="middle">20</text>
<text class="tl" x="585.07" y="479.3" text-anchor="middle">40</text>
<text class="tl" x="672.30" y="479.3" text-anchor="middle">60</text>
<path d="M70 0V1409H-40L-600 1130V1010L-70 1270V0Z" transform="translate(36.10,23.20) scale(0.009766,-0.009766)" fill="#000" stroke="#fff" stroke-width="30.7"/>
<text class="tl" x="50.78" y="23.20" text-anchor="end">0</text>
<text class="tl" x="50.58" y="104.60" text-anchor="end">0</text>
<rect x="25.3" y="183.10" width="6.70" height="1.4" fill="#1a1a1a"/>
<path d="M70 0V1409H-40L-600 1130V1010L-70 1270V0Z" transform="translate(36.10,186.40) scale(0.009766,-0.009766)" fill="#000" stroke="#fff" stroke-width="30.7"/>
<text class="tl" x="50.98" y="186.40" text-anchor="end">0</text>
<text class="tl" x="403.30" y="15.30" text-anchor="end">0.2</text>
<text class="tl" x="402.88" y="104.70" text-anchor="end">0</text>
<rect x="367.1" y="188.10" width="6.50" height="1.4" fill="#1a1a1a"/>
<text class="tl" x="401.50" y="194.30" text-anchor="end">0.2</text>
<text class="tl" x="50.74" y="280.80" text-anchor="end">5</text>
<text class="tl" x="50.68" y="370.60" text-anchor="end">0</text>
<rect x="33.6" y="453.90" width="6.40" height="1.4" fill="#1a1a1a"/>
<text class="tl" x="50.74" y="460.00" text-anchor="end">5</text>
<path d="M70 0V1409H-40L-600 1130V1010L-70 1270V0Z" transform="translate(399.50,280.70) scale(0.009766,-0.009766)" fill="#000" stroke="#fff" stroke-width="30.7"/>
<text class="tl" x="391.34" y="280.70" text-anchor="end">0.</text>
<text class="tl" x="402.88" y="340.40" text-anchor="end">0</text>
<rect x="366.9" y="395.00" width="6.20" height="1.4" fill="#1a1a1a"/>
<path d="M70 0V1409H-40L-600 1130V1010L-70 1270V0Z" transform="translate(398.00,401.50) scale(0.009766,-0.009766)" fill="#000" stroke="#fff" stroke-width="30.7"/>
<text class="tl" x="389.74" y="401.50" text-anchor="end">0.</text>
<rect x="367.3" y="453.50" width="6.30" height="1.4" fill="#1a1a1a"/>
<text class="tl" x="401.40" y="460.20" text-anchor="end">0.2</text>
<text class="xl" transform="translate(151.0,242.8) scale(1,1.07)">Time(s)</text>
<text class="xl" transform="translate(502.0,239.5) scale(1,1.07)">Time(s)</text>
<text class="xl" transform="translate(155.8,508.1) scale(1,1.07)">Time(s)</text>
<text class="xl" transform="translate(500.9,506.6) scale(1,1.07)">Time(s)</text>
<text class="it" transform="translate(16.95,124.85) rotate(-90) scale(1.0,1)">x</text>
<text class="sb" transform="translate(20.15,114.75) rotate(-90) scale(1.0,1)">1</text>
<text class="yl2" transform="translate(19.0,102.7) rotate(-90)">(°)</text>
<text class="it" transform="translate(357.1,196.7) rotate(-90) scale(1.0,1)">x</text>
<text class="sb" transform="translate(359.9,186.35) rotate(-90) scale(1.0,1)">1</text>
<text class="yl" transform="translate(358.2,172.5) rotate(-90)">observation error(°)</text>
<text class="it" transform="translate(21.7,395.9) rotate(-90) scale(1.2,1)">x</text>
<text class="sb" transform="translate(24.9,384.1) rotate(-90) scale(1.3,1)">2</text>
<text class="yl2" transform="translate(26.5,371.5) rotate(-90)">(°/s)</text>
<text class="it" transform="translate(356.7,472.6) rotate(-90) scale(1.2,1)">x</text>
<text class="sb" transform="translate(359.9,460.85) rotate(-90) scale(1.3,1)">2</text>
<text class="yl" transform="translate(358.6,447.4) rotate(-90)">observation error(°/s)</text>
<rect x="102.8" y="17.9" width="209.39999999999998" height="56.00000000000001" fill="#fff" stroke="#262626" stroke-width="1.3"/>
<line x1="106.3" y1="32.6" x2="150" y2="32.6" stroke="#5c5cf5" stroke-width="3"/>
<line x1="106.3" y1="59.3" x2="150" y2="59.3" stroke="#ff3030" stroke-width="1" stroke-dasharray="6.5 1.8 1 2.2"/>
<text class="lg" x="152" y="42.7">Output signal</text>
<text class="lg" x="152" y="69.39999999999999">Observed signal</text>
<rect x="102.8" y="283.4" width="209.39999999999998" height="57.60000000000002" fill="#fff" stroke="#262626" stroke-width="1.3"/>
<line x1="106.3" y1="298.3" x2="150" y2="298.3" stroke="#1a1aff" stroke-width="2"/>
<line x1="106.3" y1="324.8" x2="150" y2="324.8" stroke="#ff3030" stroke-width="1" stroke-dasharray="6.5 1.8 1 2.2"/>
<text class="lg" x="152" y="308.40000000000003">Output signal</text>
<text class="lg" x="152" y="334.90000000000003">Observed signal</text>
</svg></body></html>
